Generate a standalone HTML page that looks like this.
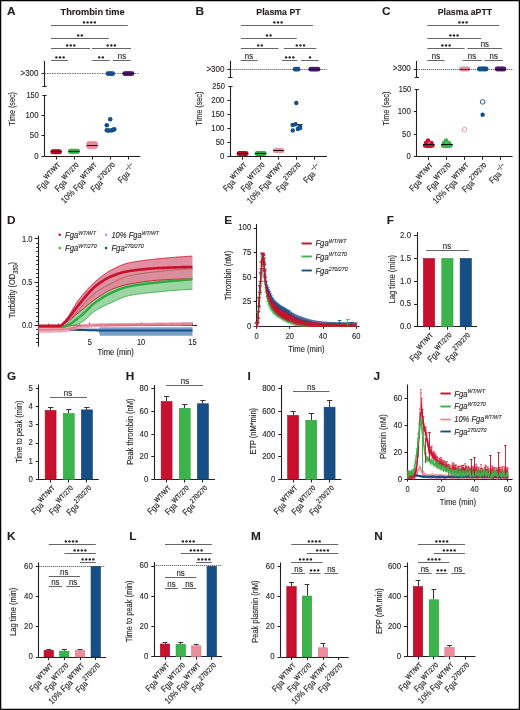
<!DOCTYPE html>
<html><head><meta charset="utf-8"><title>Figure</title>
<style>html,body{margin:0;padding:0;background:#fff;}svg{display:block;will-change:transform;}
text{font-family:"Liberation Sans",sans-serif;stroke:#231f20;stroke-width:0.12px;}</style></head>
<body>
<svg width="520" height="710" viewBox="0 0 520 710" font-family="Liberation Sans, sans-serif">
<rect x="0" y="0" width="520" height="710" fill="#fff"/>
<text transform="translate(6.9,14.9)" font-size="11.8" text-anchor="start" fill="#231f20" font-weight="bold">A</text>
<text transform="translate(92.55,15)" font-size="9.2" text-anchor="middle" fill="#231f20" font-weight="bold" textLength="64.1" lengthAdjust="spacingAndGlyphs">Thrombin time</text>
<line x1="44.5" y1="61" x2="44.5" y2="86.5" stroke="#231f20" stroke-width="1.1"/>
<line x1="42.4" y1="86.5" x2="46.6" y2="86.5" stroke="#231f20" stroke-width="1"/>
<line x1="44.5" y1="95.1" x2="44.5" y2="156.3" stroke="#231f20" stroke-width="1.1"/>
<line x1="42.4" y1="95.5" x2="46.6" y2="95.5" stroke="#231f20" stroke-width="1"/>
<line x1="44.5" y1="73.5" x2="139.6" y2="73.5" stroke="#777" stroke-width="1" stroke-dasharray="1.5,1"/>
<line x1="41.5" y1="73.5" x2="44.5" y2="73.5" stroke="#231f20" stroke-width="1"/>
<text transform="translate(38.5,76.04) scale(0.92,1)" font-size="8.7" text-anchor="end" fill="#231f20">&gt;300</text>
<text transform="translate(38.9,98.1) scale(0.86,1)" font-size="8.7" text-anchor="end" fill="#231f20">150</text>
<line x1="41.5" y1="115.5" x2="44.5" y2="115.5" stroke="#231f20" stroke-width="1"/>
<text transform="translate(38.5,117.94) scale(0.9,1)" font-size="8.7" text-anchor="end" fill="#231f20">100</text>
<line x1="41.5" y1="135.5" x2="44.5" y2="135.5" stroke="#231f20" stroke-width="1"/>
<text transform="translate(38.5,138.34) scale(0.9,1)" font-size="8.7" text-anchor="end" fill="#231f20">50</text>
<line x1="41.5" y1="156.5" x2="44.5" y2="156.5" stroke="#231f20" stroke-width="1"/>
<text transform="translate(38.5,158.74) scale(0.9,1)" font-size="8.7" text-anchor="end" fill="#231f20">0</text>
<line x1="44.5" y1="156.5" x2="140.4" y2="156.5" stroke="#231f20" stroke-width="1.1"/>
<line x1="56.5" y1="156.3" x2="56.5" y2="159.5" stroke="#231f20" stroke-width="1"/>
<line x1="74.5" y1="156.3" x2="74.5" y2="159.5" stroke="#231f20" stroke-width="1"/>
<line x1="92.5" y1="156.3" x2="92.5" y2="159.5" stroke="#231f20" stroke-width="1"/>
<line x1="110.5" y1="156.3" x2="110.5" y2="159.5" stroke="#231f20" stroke-width="1"/>
<line x1="128.5" y1="156.3" x2="128.5" y2="159.5" stroke="#231f20" stroke-width="1"/>
<circle cx="52.9" cy="151.8" r="2.5" fill="#b00c28"/>
<circle cx="54.2" cy="151.8" r="2.5" fill="#b00c28"/>
<circle cx="55.5" cy="151.8" r="2.5" fill="#b00c28"/>
<circle cx="56.8" cy="151.8" r="2.5" fill="#b00c28"/>
<circle cx="58.1" cy="151.8" r="2.5" fill="#b00c28"/>
<circle cx="59.4" cy="151.8" r="2.5" fill="#b00c28"/>
<line x1="50.9" y1="151.5" x2="61.4" y2="151.5" stroke="#111" stroke-width="1"/>
<circle cx="70.5" cy="151.2" r="2.5" fill="#2eaa44"/>
<circle cx="71.9" cy="151.2" r="2.5" fill="#2eaa44"/>
<circle cx="73.3" cy="151.2" r="2.5" fill="#2eaa44"/>
<circle cx="74.7" cy="151.2" r="2.5" fill="#2eaa44"/>
<circle cx="76.1" cy="151.2" r="2.5" fill="#2eaa44"/>
<circle cx="77.5" cy="151.2" r="2.5" fill="#2eaa44"/>
<line x1="68.5" y1="151.5" x2="79.5" y2="151.5" stroke="#111" stroke-width="1"/>
<circle cx="88.7" cy="143.8" r="2.5" fill="#ec8d9c"/>
<circle cx="90.06" cy="143.8" r="2.5" fill="#ec8d9c"/>
<circle cx="91.42" cy="143.8" r="2.5" fill="#ec8d9c"/>
<circle cx="92.78" cy="143.8" r="2.5" fill="#ec8d9c"/>
<circle cx="94.14" cy="143.8" r="2.5" fill="#ec8d9c"/>
<circle cx="95.5" cy="143.8" r="2.5" fill="#ec8d9c"/>
<circle cx="88.7" cy="146.2" r="2.5" fill="#ec8d9c"/>
<circle cx="90.06" cy="146.2" r="2.5" fill="#ec8d9c"/>
<circle cx="91.42" cy="146.2" r="2.5" fill="#ec8d9c"/>
<circle cx="92.78" cy="146.2" r="2.5" fill="#ec8d9c"/>
<circle cx="94.14" cy="146.2" r="2.5" fill="#ec8d9c"/>
<circle cx="95.5" cy="146.2" r="2.5" fill="#ec8d9c"/>
<line x1="86.7" y1="145.5" x2="97.5" y2="145.5" stroke="#111" stroke-width="1"/>
<circle cx="110.2" cy="119.2" r="2.3" fill="#164e86"/>
<circle cx="106.8" cy="125.2" r="2.3" fill="#164e86"/>
<circle cx="106.8" cy="130.2" r="2.3" fill="#164e86"/>
<circle cx="108.6" cy="130.6" r="2.3" fill="#164e86"/>
<circle cx="111.4" cy="130.4" r="2.3" fill="#164e86"/>
<circle cx="113.3" cy="129.8" r="2.3" fill="#164e86"/>
<circle cx="114.3" cy="129.3" r="2.3" fill="#164e86"/>
<circle cx="108" cy="73.6" r="2.4" fill="#164e86"/>
<circle cx="109.53" cy="73.6" r="2.4" fill="#164e86"/>
<circle cx="111.07" cy="73.6" r="2.4" fill="#164e86"/>
<circle cx="112.6" cy="73.6" r="2.4" fill="#164e86"/>
<circle cx="124.7" cy="73.6" r="2.4" fill="#4b1a6b"/>
<circle cx="126.16" cy="73.6" r="2.4" fill="#4b1a6b"/>
<circle cx="127.62" cy="73.6" r="2.4" fill="#4b1a6b"/>
<circle cx="129.08" cy="73.6" r="2.4" fill="#4b1a6b"/>
<circle cx="130.54" cy="73.6" r="2.4" fill="#4b1a6b"/>
<circle cx="132" cy="73.6" r="2.4" fill="#4b1a6b"/>
<line x1="122.8" y1="73.5" x2="133.9" y2="73.5" stroke="#2a0a3a" stroke-width="1"/>
<line x1="51" y1="25.5" x2="127.7" y2="25.5" stroke="#666" stroke-width="1"/>
<circle cx="84" cy="22.4" r="1.2" fill="#222"/>
<circle cx="87.6" cy="22.4" r="1.2" fill="#222"/>
<circle cx="91.2" cy="22.4" r="1.2" fill="#222"/>
<circle cx="94.8" cy="22.4" r="1.2" fill="#222"/>
<line x1="51" y1="38.5" x2="108.8" y2="38.5" stroke="#666" stroke-width="1"/>
<circle cx="78.2" cy="35.4" r="1.2" fill="#222"/>
<circle cx="81.8" cy="35.4" r="1.2" fill="#222"/>
<line x1="51" y1="48.5" x2="90" y2="48.5" stroke="#666" stroke-width="1"/>
<circle cx="67.1" cy="45.4" r="1.2" fill="#222"/>
<circle cx="70.7" cy="45.4" r="1.2" fill="#222"/>
<circle cx="74.3" cy="45.4" r="1.2" fill="#222"/>
<line x1="92" y1="48.5" x2="131" y2="48.5" stroke="#666" stroke-width="1"/>
<circle cx="107.7" cy="45.4" r="1.2" fill="#222"/>
<circle cx="111.3" cy="45.4" r="1.2" fill="#222"/>
<circle cx="114.9" cy="45.4" r="1.2" fill="#222"/>
<line x1="51.2" y1="60.5" x2="68" y2="60.5" stroke="#666" stroke-width="1"/>
<circle cx="56.4" cy="57.4" r="1.2" fill="#222"/>
<circle cx="60" cy="57.4" r="1.2" fill="#222"/>
<circle cx="63.6" cy="57.4" r="1.2" fill="#222"/>
<line x1="92.3" y1="60.5" x2="109.8" y2="60.5" stroke="#666" stroke-width="1"/>
<circle cx="99.2" cy="57.4" r="1.2" fill="#222"/>
<circle cx="102.8" cy="57.4" r="1.2" fill="#222"/>
<line x1="113" y1="60.5" x2="130.6" y2="60.5" stroke="#666" stroke-width="1"/>
<text transform="translate(122,58.5) scale(0.95,1)" font-size="8.3" text-anchor="middle" fill="#231f20">ns</text>
<text transform="translate(15.1,108.9) rotate(-90)" font-size="9.5" text-anchor="middle" fill="#231f20" textLength="33.5" lengthAdjust="spacingAndGlyphs">Time (sec)</text>
<text transform="translate(63.7,168.3) rotate(-45) scale(0.86,1)" font-size="8.8" text-anchor="end" fill="#231f20">Fga<tspan dy="-4.2" dx="0.2" font-size="6.9" stroke-width="0.2">WT/WT</tspan></text>
<text transform="translate(82.1,168.3) rotate(-45) scale(0.86,1)" font-size="8.8" text-anchor="end" fill="#231f20">Fga<tspan dy="-4.2" dx="0.2" font-size="6.9" stroke-width="0.2">WT/270</tspan></text>
<text transform="translate(100.3,168.3) rotate(-45) scale(0.86,1)" font-size="8.8" text-anchor="end" fill="#231f20">10% Fga<tspan dy="-4.2" dx="0.2" font-size="6.9" stroke-width="0.2">WT/WT</tspan></text>
<text transform="translate(118.4,168.3) rotate(-45) scale(0.86,1)" font-size="8.8" text-anchor="end" fill="#231f20">Fga<tspan dy="-4.2" dx="0.2" font-size="6.9" stroke-width="0.2">270/270</tspan></text>
<text transform="translate(136.5,168.3) rotate(-45) scale(0.86,1)" font-size="8.8" text-anchor="end" fill="#231f20">Fga<tspan dy="-4.2" dx="0.2" font-size="6.9" stroke-width="0.2">&#8722;/&#8722;</tspan></text>
<text transform="translate(195.6,14.9)" font-size="11.8" text-anchor="start" fill="#231f20" font-weight="bold">B</text>
<text transform="translate(278.45,15)" font-size="9.2" text-anchor="middle" fill="#231f20" font-weight="bold" textLength="44.3" lengthAdjust="spacingAndGlyphs">Plasma PT</text>
<line x1="230.5" y1="60.8" x2="230.5" y2="77.3" stroke="#231f20" stroke-width="1.1"/>
<line x1="228.3" y1="77.5" x2="232.5" y2="77.5" stroke="#231f20" stroke-width="1"/>
<line x1="230.5" y1="86.4" x2="230.5" y2="156.5" stroke="#231f20" stroke-width="1.1"/>
<line x1="228.3" y1="86.5" x2="232.5" y2="86.5" stroke="#231f20" stroke-width="1"/>
<line x1="230.4" y1="69.5" x2="327" y2="69.5" stroke="#444" stroke-width="1" stroke-dasharray="1,1"/>
<line x1="227.4" y1="69.5" x2="230.4" y2="69.5" stroke="#231f20" stroke-width="1"/>
<text transform="translate(224.4,71.64) scale(0.92,1)" font-size="8.7" text-anchor="end" fill="#231f20">&gt;300</text>
<text transform="translate(224.8,89.38) scale(0.86,1)" font-size="8.7" text-anchor="end" fill="#231f20">250</text>
<line x1="227.4" y1="100.5" x2="230.4" y2="100.5" stroke="#231f20" stroke-width="1"/>
<text transform="translate(224.4,102.84) scale(0.9,1)" font-size="8.7" text-anchor="end" fill="#231f20">200</text>
<line x1="227.4" y1="114.5" x2="230.4" y2="114.5" stroke="#231f20" stroke-width="1"/>
<text transform="translate(224.4,116.86) scale(0.9,1)" font-size="8.7" text-anchor="end" fill="#231f20">150</text>
<line x1="227.4" y1="128.5" x2="230.4" y2="128.5" stroke="#231f20" stroke-width="1"/>
<text transform="translate(224.4,130.89) scale(0.9,1)" font-size="8.7" text-anchor="end" fill="#231f20">100</text>
<line x1="227.4" y1="142.5" x2="230.4" y2="142.5" stroke="#231f20" stroke-width="1"/>
<text transform="translate(224.4,144.91) scale(0.9,1)" font-size="8.7" text-anchor="end" fill="#231f20">50</text>
<line x1="227.4" y1="156.5" x2="230.4" y2="156.5" stroke="#231f20" stroke-width="1"/>
<text transform="translate(224.4,158.94) scale(0.9,1)" font-size="8.7" text-anchor="end" fill="#231f20">0</text>
<line x1="230.4" y1="156.5" x2="327" y2="156.5" stroke="#231f20" stroke-width="1.1"/>
<line x1="242.5" y1="156.5" x2="242.5" y2="159.7" stroke="#231f20" stroke-width="1"/>
<line x1="260.5" y1="156.5" x2="260.5" y2="159.7" stroke="#231f20" stroke-width="1"/>
<line x1="278.5" y1="156.5" x2="278.5" y2="159.7" stroke="#231f20" stroke-width="1"/>
<line x1="296.5" y1="156.5" x2="296.5" y2="159.7" stroke="#231f20" stroke-width="1"/>
<line x1="314.5" y1="156.5" x2="314.5" y2="159.7" stroke="#231f20" stroke-width="1"/>
<circle cx="239.1" cy="153.5" r="2.5" fill="#b00c28"/>
<circle cx="240.48" cy="153.5" r="2.5" fill="#b00c28"/>
<circle cx="241.86" cy="153.5" r="2.5" fill="#b00c28"/>
<circle cx="243.24" cy="153.5" r="2.5" fill="#b00c28"/>
<circle cx="244.62" cy="153.5" r="2.5" fill="#b00c28"/>
<circle cx="246" cy="153.5" r="2.5" fill="#b00c28"/>
<line x1="237.1" y1="153.5" x2="248" y2="153.5" stroke="#111" stroke-width="1"/>
<circle cx="257.1" cy="153.5" r="2.5" fill="#2eaa44"/>
<circle cx="258.5" cy="153.5" r="2.5" fill="#2eaa44"/>
<circle cx="259.9" cy="153.5" r="2.5" fill="#2eaa44"/>
<circle cx="261.3" cy="153.5" r="2.5" fill="#2eaa44"/>
<circle cx="262.7" cy="153.5" r="2.5" fill="#2eaa44"/>
<circle cx="264.1" cy="153.5" r="2.5" fill="#2eaa44"/>
<line x1="255.1" y1="153.5" x2="266.1" y2="153.5" stroke="#111" stroke-width="1"/>
<circle cx="275.3" cy="150.4" r="2.5" fill="#ec8d9c"/>
<circle cx="276.6" cy="150.4" r="2.5" fill="#ec8d9c"/>
<circle cx="277.9" cy="150.4" r="2.5" fill="#ec8d9c"/>
<circle cx="279.2" cy="150.4" r="2.5" fill="#ec8d9c"/>
<circle cx="280.5" cy="150.4" r="2.5" fill="#ec8d9c"/>
<circle cx="281.8" cy="150.4" r="2.5" fill="#ec8d9c"/>
<line x1="273.3" y1="150.5" x2="283.8" y2="150.5" stroke="#111" stroke-width="1"/>
<line x1="290.5" y1="124.5" x2="302.5" y2="124.5" stroke="#111" stroke-width="1"/>
<circle cx="296.3" cy="103" r="2.2" fill="#164e86"/>
<circle cx="292.8" cy="125" r="2.2" fill="#164e86"/>
<circle cx="295.6" cy="124.2" r="2.2" fill="#164e86"/>
<circle cx="299.9" cy="126.3" r="2.2" fill="#164e86"/>
<circle cx="292.8" cy="130.4" r="2.2" fill="#164e86"/>
<circle cx="297.8" cy="129" r="2.2" fill="#164e86"/>
<circle cx="300.2" cy="128" r="2.2" fill="#164e86"/>
<circle cx="295.1" cy="69.2" r="2.4" fill="#164e86"/>
<circle cx="296.55" cy="69.2" r="2.4" fill="#164e86"/>
<circle cx="298" cy="69.2" r="2.4" fill="#164e86"/>
<circle cx="310.7" cy="69.2" r="2.4" fill="#4b1a6b"/>
<circle cx="312.16" cy="69.2" r="2.4" fill="#4b1a6b"/>
<circle cx="313.62" cy="69.2" r="2.4" fill="#4b1a6b"/>
<circle cx="315.08" cy="69.2" r="2.4" fill="#4b1a6b"/>
<circle cx="316.54" cy="69.2" r="2.4" fill="#4b1a6b"/>
<circle cx="318" cy="69.2" r="2.4" fill="#4b1a6b"/>
<line x1="308.8" y1="69.5" x2="319.9" y2="69.5" stroke="#2a0a3a" stroke-width="1"/>
<line x1="240.75" y1="25.5" x2="313" y2="25.5" stroke="#666" stroke-width="1"/>
<circle cx="274.4" cy="22.4" r="1.2" fill="#222"/>
<circle cx="278" cy="22.4" r="1.2" fill="#222"/>
<circle cx="281.6" cy="22.4" r="1.2" fill="#222"/>
<line x1="240.75" y1="38.5" x2="296.7" y2="38.5" stroke="#666" stroke-width="1"/>
<circle cx="266.95" cy="35.4" r="1.2" fill="#222"/>
<circle cx="270.55" cy="35.4" r="1.2" fill="#222"/>
<line x1="240.75" y1="48.5" x2="278.5" y2="48.5" stroke="#666" stroke-width="1"/>
<circle cx="258.2" cy="45.4" r="1.2" fill="#222"/>
<circle cx="261.8" cy="45.4" r="1.2" fill="#222"/>
<line x1="284" y1="48.5" x2="316.5" y2="48.5" stroke="#666" stroke-width="1"/>
<circle cx="296.8" cy="45.4" r="1.2" fill="#222"/>
<circle cx="300.4" cy="45.4" r="1.2" fill="#222"/>
<circle cx="304" cy="45.4" r="1.2" fill="#222"/>
<line x1="240.75" y1="60.5" x2="257.6" y2="60.5" stroke="#666" stroke-width="1"/>
<text transform="translate(249,58.5) scale(0.95,1)" font-size="8.3" text-anchor="middle" fill="#231f20">ns</text>
<line x1="282" y1="60.5" x2="297.3" y2="60.5" stroke="#666" stroke-width="1"/>
<circle cx="286.1" cy="57.4" r="1.2" fill="#222"/>
<circle cx="289.7" cy="57.4" r="1.2" fill="#222"/>
<circle cx="293.3" cy="57.4" r="1.2" fill="#222"/>
<line x1="301" y1="60.5" x2="318.8" y2="60.5" stroke="#666" stroke-width="1"/>
<circle cx="310" cy="57.4" r="1.2" fill="#222"/>
<text transform="translate(202.4,108.6) rotate(-90)" font-size="9.5" text-anchor="middle" fill="#231f20" textLength="33.8" lengthAdjust="spacingAndGlyphs">Time (sec)</text>
<text transform="translate(250.1,168.5) rotate(-45) scale(0.86,1)" font-size="8.8" text-anchor="end" fill="#231f20">Fga<tspan dy="-4.2" dx="0.2" font-size="6.9" stroke-width="0.2">WT/WT</tspan></text>
<text transform="translate(268.1,168.5) rotate(-45) scale(0.86,1)" font-size="8.8" text-anchor="end" fill="#231f20">Fga<tspan dy="-4.2" dx="0.2" font-size="6.9" stroke-width="0.2">WT/270</tspan></text>
<text transform="translate(286.1,168.5) rotate(-45) scale(0.86,1)" font-size="8.8" text-anchor="end" fill="#231f20">10% Fga<tspan dy="-4.2" dx="0.2" font-size="6.9" stroke-width="0.2">WT/WT</tspan></text>
<text transform="translate(304,168.5) rotate(-45) scale(0.86,1)" font-size="8.8" text-anchor="end" fill="#231f20">Fga<tspan dy="-4.2" dx="0.2" font-size="6.9" stroke-width="0.2">270/270</tspan></text>
<text transform="translate(322,168.5) rotate(-45) scale(0.86,1)" font-size="8.8" text-anchor="end" fill="#231f20">Fga<tspan dy="-4.2" dx="0.2" font-size="6.9" stroke-width="0.2">&#8722;/&#8722;</tspan></text>
<text transform="translate(382,14.9)" font-size="11.8" text-anchor="start" fill="#231f20" font-weight="bold">C</text>
<text transform="translate(464.9,15)" font-size="9.2" text-anchor="middle" fill="#231f20" font-weight="bold" textLength="54.4" lengthAdjust="spacingAndGlyphs">Plasma aPTT</text>
<line x1="416.5" y1="61" x2="416.5" y2="77.5" stroke="#231f20" stroke-width="1.1"/>
<line x1="414.7" y1="77.5" x2="418.9" y2="77.5" stroke="#231f20" stroke-width="1"/>
<line x1="416.5" y1="89.2" x2="416.5" y2="156.6" stroke="#231f20" stroke-width="1.1"/>
<line x1="414.7" y1="89.5" x2="418.9" y2="89.5" stroke="#231f20" stroke-width="1"/>
<line x1="416.8" y1="69.5" x2="513.3" y2="69.5" stroke="#444" stroke-width="1" stroke-dasharray="1,1"/>
<line x1="413.8" y1="69.5" x2="416.8" y2="69.5" stroke="#231f20" stroke-width="1"/>
<text transform="translate(410.8,71.44) scale(0.92,1)" font-size="8.7" text-anchor="end" fill="#231f20">&gt;300</text>
<text transform="translate(411.2,92.2) scale(0.86,1)" font-size="8.7" text-anchor="end" fill="#231f20">150</text>
<line x1="413.8" y1="111.5" x2="416.8" y2="111.5" stroke="#231f20" stroke-width="1"/>
<text transform="translate(410.8,114.11) scale(0.9,1)" font-size="8.7" text-anchor="end" fill="#231f20">100</text>
<line x1="413.8" y1="134.5" x2="416.8" y2="134.5" stroke="#231f20" stroke-width="1"/>
<text transform="translate(410.8,136.57) scale(0.9,1)" font-size="8.7" text-anchor="end" fill="#231f20">50</text>
<line x1="413.8" y1="156.5" x2="416.8" y2="156.5" stroke="#231f20" stroke-width="1"/>
<text transform="translate(410.8,159.04) scale(0.9,1)" font-size="8.7" text-anchor="end" fill="#231f20">0</text>
<line x1="416.8" y1="156.5" x2="512.5" y2="156.5" stroke="#231f20" stroke-width="1.1"/>
<line x1="428.5" y1="156.6" x2="428.5" y2="159.8" stroke="#231f20" stroke-width="1"/>
<line x1="446.5" y1="156.6" x2="446.5" y2="159.8" stroke="#231f20" stroke-width="1"/>
<line x1="464.5" y1="156.6" x2="464.5" y2="159.8" stroke="#231f20" stroke-width="1"/>
<line x1="482.5" y1="156.6" x2="482.5" y2="159.8" stroke="#231f20" stroke-width="1"/>
<line x1="500.5" y1="156.6" x2="500.5" y2="159.8" stroke="#231f20" stroke-width="1"/>
<circle cx="428" cy="140.5" r="2.2" fill="#c8102e"/>
<circle cx="426" cy="143" r="2.2" fill="#c8102e"/>
<circle cx="431.5" cy="143" r="2.2" fill="#c8102e"/>
<circle cx="425" cy="145.5" r="2.2" fill="#c8102e"/>
<circle cx="429" cy="145.5" r="2.2" fill="#c8102e"/>
<circle cx="432.5" cy="145.5" r="2.2" fill="#c8102e"/>
<circle cx="427" cy="146" r="2.2" fill="#c8102e"/>
<circle cx="430.5" cy="146" r="2.2" fill="#c8102e"/>
<line x1="423" y1="144.5" x2="434.6" y2="144.5" stroke="#111" stroke-width="1"/>
<circle cx="446" cy="140.5" r="2.2" fill="#35b04a"/>
<circle cx="444" cy="143" r="2.2" fill="#35b04a"/>
<circle cx="449" cy="143" r="2.2" fill="#35b04a"/>
<circle cx="443" cy="145.5" r="2.2" fill="#35b04a"/>
<circle cx="447" cy="145.5" r="2.2" fill="#35b04a"/>
<circle cx="450.5" cy="145.5" r="2.2" fill="#35b04a"/>
<circle cx="445" cy="146" r="2.2" fill="#35b04a"/>
<circle cx="448.5" cy="146" r="2.2" fill="#35b04a"/>
<line x1="441" y1="144.5" x2="452.8" y2="144.5" stroke="#111" stroke-width="1"/>
<circle cx="464.5" cy="129.6" r="2.3" fill="none" stroke="#ec8d9c" stroke-width="0.9"/>
<circle cx="482.6" cy="101.9" r="2.3" fill="none" stroke="#164e86" stroke-width="0.9"/>
<circle cx="482.6" cy="114.7" r="2.2" fill="#164e86"/>
<circle cx="461.4" cy="69" r="2.4" fill="#ec8d9c"/>
<circle cx="462.72" cy="69" r="2.4" fill="#ec8d9c"/>
<circle cx="464.04" cy="69" r="2.4" fill="#ec8d9c"/>
<circle cx="465.36" cy="69" r="2.4" fill="#ec8d9c"/>
<circle cx="466.68" cy="69" r="2.4" fill="#ec8d9c"/>
<circle cx="468" cy="69" r="2.4" fill="#ec8d9c"/>
<line x1="459.5" y1="69.5" x2="469.9" y2="69.5" stroke="#333" stroke-width="1"/>
<circle cx="479.4" cy="69" r="2.4" fill="#164e86"/>
<circle cx="480.76" cy="69" r="2.4" fill="#164e86"/>
<circle cx="482.12" cy="69" r="2.4" fill="#164e86"/>
<circle cx="483.48" cy="69" r="2.4" fill="#164e86"/>
<circle cx="484.84" cy="69" r="2.4" fill="#164e86"/>
<circle cx="486.2" cy="69" r="2.4" fill="#164e86"/>
<circle cx="497.1" cy="69" r="2.4" fill="#4b1a6b"/>
<circle cx="498.48" cy="69" r="2.4" fill="#4b1a6b"/>
<circle cx="499.86" cy="69" r="2.4" fill="#4b1a6b"/>
<circle cx="501.24" cy="69" r="2.4" fill="#4b1a6b"/>
<circle cx="502.62" cy="69" r="2.4" fill="#4b1a6b"/>
<circle cx="504" cy="69" r="2.4" fill="#4b1a6b"/>
<line x1="495.2" y1="69.5" x2="505.9" y2="69.5" stroke="#2a0a3a" stroke-width="1"/>
<line x1="427.3" y1="25.5" x2="499.2" y2="25.5" stroke="#666" stroke-width="1"/>
<circle cx="459.4" cy="22.4" r="1.2" fill="#222"/>
<circle cx="463" cy="22.4" r="1.2" fill="#222"/>
<circle cx="466.6" cy="22.4" r="1.2" fill="#222"/>
<line x1="427.3" y1="38.5" x2="481.2" y2="38.5" stroke="#666" stroke-width="1"/>
<circle cx="450.4" cy="35.4" r="1.2" fill="#222"/>
<circle cx="454" cy="35.4" r="1.2" fill="#222"/>
<circle cx="457.6" cy="35.4" r="1.2" fill="#222"/>
<line x1="427.3" y1="48.5" x2="464.6" y2="48.5" stroke="#666" stroke-width="1"/>
<circle cx="442.4" cy="45.4" r="1.2" fill="#222"/>
<circle cx="446" cy="45.4" r="1.2" fill="#222"/>
<circle cx="449.6" cy="45.4" r="1.2" fill="#222"/>
<line x1="467.5" y1="48.5" x2="502.1" y2="48.5" stroke="#666" stroke-width="1"/>
<text transform="translate(484.8,46.5) scale(0.95,1)" font-size="8.3" text-anchor="middle" fill="#231f20">ns</text>
<line x1="427.3" y1="60.5" x2="444.6" y2="60.5" stroke="#666" stroke-width="1"/>
<text transform="translate(436,58.5) scale(0.95,1)" font-size="8.3" text-anchor="middle" fill="#231f20">ns</text>
<line x1="462.7" y1="60.5" x2="482" y2="60.5" stroke="#666" stroke-width="1"/>
<text transform="translate(472,58.5) scale(0.95,1)" font-size="8.3" text-anchor="middle" fill="#231f20">ns</text>
<line x1="484.4" y1="60.5" x2="503" y2="60.5" stroke="#666" stroke-width="1"/>
<text transform="translate(493.7,58.5) scale(0.95,1)" font-size="8.3" text-anchor="middle" fill="#231f20">ns</text>
<text transform="translate(389.3,108.6) rotate(-90)" font-size="9.5" text-anchor="middle" fill="#231f20" textLength="33.8" lengthAdjust="spacingAndGlyphs">Time (sec)</text>
<text transform="translate(436.2,168.6) rotate(-45) scale(0.86,1)" font-size="8.8" text-anchor="end" fill="#231f20">Fga<tspan dy="-4.2" dx="0.2" font-size="6.9" stroke-width="0.2">WT/WT</tspan></text>
<text transform="translate(454.1,168.6) rotate(-45) scale(0.86,1)" font-size="8.8" text-anchor="end" fill="#231f20">Fga<tspan dy="-4.2" dx="0.2" font-size="6.9" stroke-width="0.2">WT/270</tspan></text>
<text transform="translate(472,168.6) rotate(-45) scale(0.86,1)" font-size="8.8" text-anchor="end" fill="#231f20">10% Fga<tspan dy="-4.2" dx="0.2" font-size="6.9" stroke-width="0.2">WT/WT</tspan></text>
<text transform="translate(489.9,168.6) rotate(-45) scale(0.86,1)" font-size="8.8" text-anchor="end" fill="#231f20">Fga<tspan dy="-4.2" dx="0.2" font-size="6.9" stroke-width="0.2">270/270</tspan></text>
<text transform="translate(507.8,168.6) rotate(-45) scale(0.86,1)" font-size="8.8" text-anchor="end" fill="#231f20">Fga<tspan dy="-4.2" dx="0.2" font-size="6.9" stroke-width="0.2">&#8722;/&#8722;</tspan></text>
<text transform="translate(6.9,224.3)" font-size="11.8" text-anchor="start" fill="#231f20" font-weight="bold">D</text>
<line x1="38.5" y1="235.6" x2="38.5" y2="346.6" stroke="#231f20" stroke-width="1.1"/>
<line x1="36" y1="342.5" x2="38.4" y2="342.5" stroke="#231f20" stroke-width="0.9"/>
<line x1="36" y1="338.5" x2="38.4" y2="338.5" stroke="#231f20" stroke-width="0.9"/>
<line x1="36" y1="334.5" x2="38.4" y2="334.5" stroke="#231f20" stroke-width="0.9"/>
<line x1="36" y1="329.5" x2="38.4" y2="329.5" stroke="#231f20" stroke-width="0.9"/>
<line x1="34.6" y1="325.5" x2="38.4" y2="325.5" stroke="#231f20" stroke-width="1"/>
<line x1="36" y1="321.5" x2="38.4" y2="321.5" stroke="#231f20" stroke-width="0.9"/>
<line x1="36" y1="316.5" x2="38.4" y2="316.5" stroke="#231f20" stroke-width="0.9"/>
<line x1="36" y1="312.5" x2="38.4" y2="312.5" stroke="#231f20" stroke-width="0.9"/>
<line x1="36" y1="308.5" x2="38.4" y2="308.5" stroke="#231f20" stroke-width="0.9"/>
<line x1="36" y1="303.5" x2="38.4" y2="303.5" stroke="#231f20" stroke-width="0.9"/>
<line x1="36" y1="299.5" x2="38.4" y2="299.5" stroke="#231f20" stroke-width="0.9"/>
<line x1="36" y1="295.5" x2="38.4" y2="295.5" stroke="#231f20" stroke-width="0.9"/>
<line x1="36" y1="290.5" x2="38.4" y2="290.5" stroke="#231f20" stroke-width="0.9"/>
<line x1="36" y1="286.5" x2="38.4" y2="286.5" stroke="#231f20" stroke-width="0.9"/>
<line x1="34.6" y1="282.5" x2="38.4" y2="282.5" stroke="#231f20" stroke-width="1"/>
<line x1="36" y1="277.5" x2="38.4" y2="277.5" stroke="#231f20" stroke-width="0.9"/>
<line x1="36" y1="273.5" x2="38.4" y2="273.5" stroke="#231f20" stroke-width="0.9"/>
<line x1="36" y1="269.5" x2="38.4" y2="269.5" stroke="#231f20" stroke-width="0.9"/>
<line x1="36" y1="264.5" x2="38.4" y2="264.5" stroke="#231f20" stroke-width="0.9"/>
<line x1="36" y1="260.5" x2="38.4" y2="260.5" stroke="#231f20" stroke-width="0.9"/>
<line x1="36" y1="256.5" x2="38.4" y2="256.5" stroke="#231f20" stroke-width="0.9"/>
<line x1="36" y1="251.5" x2="38.4" y2="251.5" stroke="#231f20" stroke-width="0.9"/>
<line x1="36" y1="247.5" x2="38.4" y2="247.5" stroke="#231f20" stroke-width="0.9"/>
<line x1="36" y1="243.5" x2="38.4" y2="243.5" stroke="#231f20" stroke-width="0.9"/>
<line x1="34.6" y1="238.5" x2="38.4" y2="238.5" stroke="#231f20" stroke-width="1"/>
<text transform="translate(32.4,241.85) scale(0.86,1)" font-size="8.7" text-anchor="end" fill="#231f20">1.0</text>
<text transform="translate(32.4,285.15) scale(0.86,1)" font-size="8.7" text-anchor="end" fill="#231f20">0.5</text>
<text transform="translate(32.4,328.45) scale(0.86,1)" font-size="8.7" text-anchor="end" fill="#231f20">0.0</text>
<line x1="38.4" y1="325.5" x2="197" y2="325.5" stroke="#231f20" stroke-width="1.1"/>
<line x1="48.5" y1="325.4" x2="48.5" y2="323.6" stroke="#231f20" stroke-width="0.8"/>
<line x1="58.5" y1="325.4" x2="58.5" y2="323.6" stroke="#231f20" stroke-width="0.8"/>
<line x1="69.5" y1="325.4" x2="69.5" y2="323.6" stroke="#231f20" stroke-width="0.8"/>
<line x1="79.5" y1="325.4" x2="79.5" y2="323.6" stroke="#231f20" stroke-width="0.8"/>
<line x1="89.5" y1="325.4" x2="89.5" y2="322.6" stroke="#231f20" stroke-width="0.8"/>
<line x1="100.5" y1="325.4" x2="100.5" y2="323.6" stroke="#231f20" stroke-width="0.8"/>
<line x1="110.5" y1="325.4" x2="110.5" y2="323.6" stroke="#231f20" stroke-width="0.8"/>
<line x1="120.5" y1="325.4" x2="120.5" y2="323.6" stroke="#231f20" stroke-width="0.8"/>
<line x1="130.5" y1="325.4" x2="130.5" y2="323.6" stroke="#231f20" stroke-width="0.8"/>
<line x1="141.5" y1="325.4" x2="141.5" y2="322.6" stroke="#231f20" stroke-width="0.8"/>
<line x1="151.5" y1="325.4" x2="151.5" y2="323.6" stroke="#231f20" stroke-width="0.8"/>
<line x1="161.5" y1="325.4" x2="161.5" y2="323.6" stroke="#231f20" stroke-width="0.8"/>
<line x1="171.5" y1="325.4" x2="171.5" y2="323.6" stroke="#231f20" stroke-width="0.8"/>
<line x1="182.5" y1="325.4" x2="182.5" y2="323.6" stroke="#231f20" stroke-width="0.8"/>
<line x1="192.5" y1="325.4" x2="192.5" y2="322.6" stroke="#231f20" stroke-width="0.8"/>
<text transform="translate(89.75,345.1) scale(0.86,1)" font-size="8.7" text-anchor="middle" fill="#231f20">5</text>
<text transform="translate(141.1,345.1) scale(0.86,1)" font-size="8.7" text-anchor="middle" fill="#231f20">10</text>
<text transform="translate(192.45,345.1) scale(0.86,1)" font-size="8.7" text-anchor="middle" fill="#231f20">15</text>
<text transform="translate(115.7,355.3)" font-size="8.8" text-anchor="middle" fill="#231f20" textLength="36.3" lengthAdjust="spacingAndGlyphs">Time (min)</text>
<text transform="translate(15.2,290.1) rotate(-90)" font-size="9.5" text-anchor="middle" fill="#231f20" textLength="56.5" lengthAdjust="spacingAndGlyphs">Turbidity (OD<tspan font-size="7" dy="2.4">350</tspan><tspan dy="-2.4">)</tspan></text>
<polygon points="69.21,328.43 70.49,328.43 71.78,328.43 73.06,328.43 74.34,328.43 75.63,328.43 76.91,328.43 78.2,328.43 79.48,328.43 80.76,328.43 82.05,328.43 83.33,328.43 84.61,328.43 85.9,328.43 87.18,328.43 88.47,328.43 89.75,328.43 91.03,328.43 92.32,328.43 93.6,328.43 94.88,328.43 96.17,328.43 97.45,328.43 98.74,328.43 100.02,327.13 101.3,327.13 102.59,327.13 103.87,327.13 105.16,327.13 106.44,327.13 107.72,327.13 109.01,327.13 110.29,327.13 111.57,327.13 112.86,327.13 114.14,327.13 115.42,327.13 116.71,327.13 117.99,327.13 119.28,327.13 120.56,327.13 121.84,327.13 123.13,327.13 124.41,327.13 125.69,327.13 126.98,327.13 128.26,327.13 129.55,327.13 130.83,327.13 132.11,327.13 133.4,327.13 134.68,327.13 135.97,327.13 137.25,327.13 138.53,327.13 139.82,327.13 141.1,327.13 142.38,327.13 143.67,327.13 144.95,327.13 146.23,327.13 147.52,327.13 148.8,327.13 150.09,327.13 151.37,327.13 152.65,327.13 153.94,327.13 155.22,327.13 156.5,327.13 157.79,327.13 159.07,327.13 160.36,327.13 161.64,327.13 162.92,327.13 164.21,327.13 165.49,327.13 166.78,327.13 168.06,327.13 169.34,327.13 170.63,327.13 171.91,327.13 173.19,327.13 174.48,327.13 175.76,327.13 177.04,327.13 178.33,327.13 179.61,327.13 180.9,327.13 182.18,327.13 183.46,327.13 184.75,327.13 186.03,327.13 187.31,327.13 188.6,327.13 189.88,327.13 191.17,327.13 192.45,327.13 192.45,335.79 191.17,335.79 189.88,335.79 188.6,335.79 187.31,335.79 186.03,335.79 184.75,335.79 183.46,335.79 182.18,335.79 180.9,335.79 179.61,335.79 178.33,335.79 177.04,335.79 175.76,335.79 174.48,335.79 173.19,335.79 171.91,335.79 170.63,335.79 169.34,335.79 168.06,335.79 166.78,335.79 165.49,335.79 164.21,335.79 162.92,335.79 161.64,335.79 160.36,335.79 159.07,335.79 157.79,335.79 156.5,335.79 155.22,335.79 153.94,335.79 152.65,335.79 151.37,335.79 150.09,335.79 148.8,335.79 147.52,335.79 146.23,335.79 144.95,335.79 143.67,335.79 142.38,335.79 141.1,335.79 139.82,335.79 138.53,335.79 137.25,335.79 135.97,335.79 134.68,335.79 133.4,335.79 132.11,335.79 130.83,335.79 129.55,335.79 128.26,335.79 126.98,335.79 125.69,335.79 124.41,335.79 123.13,335.79 121.84,335.79 120.56,335.79 119.28,335.79 117.99,335.79 116.71,335.79 115.42,335.79 114.14,335.79 112.86,335.79 111.57,335.79 110.29,335.79 109.01,335.79 107.72,335.79 106.44,335.79 105.16,335.79 103.87,335.79 102.59,335.79 101.3,335.79 100.02,335.79 98.74,331.03 97.45,331.03 96.17,331.03 94.88,331.03 93.6,331.03 92.32,331.03 91.03,331.03 89.75,331.03 88.47,331.03 87.18,331.03 85.9,331.03 84.61,331.03 83.33,331.03 82.05,331.03 80.76,331.03 79.48,331.03 78.2,331.03 76.91,331.03 75.63,331.03 74.34,331.03 73.06,331.03 71.78,331.03 70.49,331.03 69.21,331.03" fill="#4a7fb5" fill-opacity="0.75" stroke="none" stroke-width="0"/>
<polyline points="69.21,329.73 70.49,329.73 71.78,329.74 73.06,329.76 74.34,329.78 75.63,329.81 76.91,329.84 78.2,329.87 79.48,329.91 80.76,329.95 82.05,329.99 83.33,330.03 84.61,330.08 85.9,330.12 87.18,330.16 88.47,330.2 89.75,330.24 91.03,330.28 92.32,330.31 93.6,330.35 94.88,330.37 96.17,330.39 97.45,330.41 98.74,330.42 100.02,330.42 101.3,330.42 102.59,330.42 103.87,330.42 105.16,330.42 106.44,330.42 107.72,330.42 109.01,330.42 110.29,330.42 111.57,330.42 112.86,330.42 114.14,330.42 115.42,330.42 116.71,330.42 117.99,330.42 119.28,330.42 120.56,330.42 121.84,330.42 123.13,330.42 124.41,330.42 125.69,330.42 126.98,330.42 128.26,330.42 129.55,330.42 130.83,330.42 132.11,330.42 133.4,330.42 134.68,330.42 135.97,330.42 137.25,330.42 138.53,330.42 139.82,330.42 141.1,330.42 142.38,330.42 143.67,330.42 144.95,330.42 146.23,330.42 147.52,330.42 148.8,330.42 150.09,330.42 151.37,330.42 152.65,330.42 153.94,330.42 155.22,330.42 156.5,330.42 157.79,330.42 159.07,330.42 160.36,330.42 161.64,330.42 162.92,330.42 164.21,330.42 165.49,330.42 166.78,330.42 168.06,330.42 169.34,330.42 170.63,330.42 171.91,330.42 173.19,330.42 174.48,330.42 175.76,330.42 177.04,330.42 178.33,330.42 179.61,330.42 180.9,330.42 182.18,330.42 183.46,330.42 184.75,330.42 186.03,330.42 187.31,330.42 188.6,330.42 189.88,330.42 191.17,330.42 192.45,330.42" fill="none" stroke="#164e86" stroke-width="2"/>
<polygon points="38.4,326.7 39.68,326.7 40.97,326.69 42.25,326.69 43.53,326.68 44.82,326.67 46.1,326.66 47.39,326.64 48.67,326.63 49.95,326.61 51.24,326.59 52.52,326.56 53.8,326.54 55.09,326.51 56.37,326.48 57.66,326.45 58.94,326.42 60.22,326.38 61.51,326.35 62.79,326.31 64.07,326.27 65.36,326.2 66.64,326.07 67.93,325.91 69.21,325.71 70.49,325.49 71.78,325.25 73.06,325.01 74.34,324.78 75.63,324.56 76.91,324.37 78.2,324.21 79.48,324.1 80.76,324.02 82.05,323.94 83.33,323.86 84.61,323.79 85.9,323.72 87.18,323.66 88.47,323.6 89.75,323.54 91.03,323.49 92.32,323.44 93.6,323.4 94.88,323.36 96.17,323.32 97.45,323.29 98.74,323.26 100.02,323.23 101.3,323.21 102.59,323.19 103.87,323.17 105.16,323.15 106.44,323.13 107.72,323.12 109.01,323.1 110.29,323.09 111.57,323.07 112.86,323.06 114.14,323.05 115.42,323.04 116.71,323.02 117.99,323.01 119.28,323 120.56,322.99 121.84,322.98 123.13,322.97 124.41,322.96 125.69,322.95 126.98,322.94 128.26,322.93 129.55,322.92 130.83,322.91 132.11,322.9 133.4,322.89 134.68,322.87 135.97,322.86 137.25,322.85 138.53,322.83 139.82,322.82 141.1,322.8 142.38,322.79 143.67,322.77 144.95,322.75 146.23,322.73 147.52,322.72 148.8,322.7 150.09,322.68 151.37,322.66 152.65,322.64 153.94,322.62 155.22,322.6 156.5,322.58 157.79,322.56 159.07,322.54 160.36,322.52 161.64,322.5 162.92,322.48 164.21,322.46 165.49,322.44 166.78,322.42 168.06,322.4 169.34,322.37 170.63,322.35 171.91,322.33 173.19,322.31 174.48,322.28 175.76,322.26 177.04,322.24 178.33,322.21 179.61,322.19 180.9,322.16 182.18,322.14 183.46,322.11 184.75,322.09 186.03,322.06 187.31,322.04 188.6,322.01 189.88,321.99 191.17,321.96 192.45,321.94 192.45,325.83 191.17,325.84 189.88,325.84 188.6,325.84 187.31,325.85 186.03,325.85 184.75,325.86 183.46,325.86 182.18,325.87 180.9,325.87 179.61,325.88 178.33,325.89 177.04,325.9 175.76,325.91 174.48,325.92 173.19,325.93 171.91,325.94 170.63,325.95 169.34,325.96 168.06,325.97 166.78,325.98 165.49,325.99 164.21,326 162.92,326.02 161.64,326.03 160.36,326.04 159.07,326.06 157.79,326.07 156.5,326.08 155.22,326.1 153.94,326.11 152.65,326.13 151.37,326.14 150.09,326.16 148.8,326.17 147.52,326.19 146.23,326.2 144.95,326.22 143.67,326.23 142.38,326.25 141.1,326.27 139.82,326.28 138.53,326.3 137.25,326.31 135.97,326.33 134.68,326.35 133.4,326.37 132.11,326.38 130.83,326.4 129.55,326.42 128.26,326.44 126.98,326.46 125.69,326.48 124.41,326.51 123.13,326.53 121.84,326.55 120.56,326.58 119.28,326.6 117.99,326.63 116.71,326.66 115.42,326.68 114.14,326.71 112.86,326.75 111.57,326.78 110.29,326.81 109.01,326.85 107.72,326.88 106.44,326.92 105.16,326.96 103.87,327 102.59,327.04 101.3,327.09 100.02,327.13 98.74,327.18 97.45,327.24 96.17,327.31 94.88,327.39 93.6,327.47 92.32,327.56 91.03,327.66 89.75,327.77 88.47,327.88 87.18,328 85.9,328.13 84.61,328.27 83.33,328.41 82.05,328.55 80.76,328.71 79.48,328.86 78.2,329.06 76.91,329.33 75.63,329.65 74.34,330.01 73.06,330.39 71.78,330.77 70.49,331.15 69.21,331.5 67.93,331.8 66.64,332.06 65.36,332.24 64.07,332.33 62.79,332.37 61.51,332.41 60.22,332.45 58.94,332.48 57.66,332.52 56.37,332.55 55.09,332.58 53.8,332.61 52.52,332.63 51.24,332.65 49.95,332.67 48.67,332.69 47.39,332.71 46.1,332.72 44.82,332.73 43.53,332.74 42.25,332.75 40.97,332.76 39.68,332.76 38.4,332.76" fill="#ec8d9c" fill-opacity="0.75" stroke="none" stroke-width="0"/>
<polyline points="38.4,329.73 39.68,329.73 40.97,329.73 42.25,329.72 43.53,329.71 44.82,329.7 46.1,329.69 47.39,329.68 48.67,329.66 49.95,329.64 51.24,329.62 52.52,329.6 53.8,329.57 55.09,329.55 56.37,329.52 57.66,329.49 58.94,329.45 60.22,329.42 61.51,329.38 62.79,329.34 64.07,329.3 65.36,329.21 66.64,329.05 67.93,328.82 69.21,328.55 70.49,328.24 71.78,327.91 73.06,327.57 74.34,327.24 75.63,326.93 76.91,326.65 78.2,326.43 79.48,326.27 80.76,326.14 82.05,326.02 83.33,325.91 84.61,325.8 85.9,325.7 87.18,325.61 88.47,325.52 89.75,325.43 91.03,325.35 92.32,325.28 93.6,325.21 94.88,325.15 96.17,325.09 97.45,325.05 98.74,325 100.02,324.97 101.3,324.93 102.59,324.9 103.87,324.87 105.16,324.85 106.44,324.82 107.72,324.79 109.01,324.77 110.29,324.75 111.57,324.72 112.86,324.7 114.14,324.68 115.42,324.66 116.71,324.65 117.99,324.63 119.28,324.61 120.56,324.59 121.84,324.58 123.13,324.56 124.41,324.55 125.69,324.53 126.98,324.52 128.26,324.5 129.55,324.49 130.83,324.48 132.11,324.46 133.4,324.45 134.68,324.43 135.97,324.42 137.25,324.41 138.53,324.39 139.82,324.38 141.1,324.36 142.38,324.35 143.67,324.33 144.95,324.31 146.23,324.3 147.52,324.28 148.8,324.27 150.09,324.25 151.37,324.24 152.65,324.23 153.94,324.21 155.22,324.2 156.5,324.18 157.79,324.17 159.07,324.15 160.36,324.14 161.64,324.13 162.92,324.11 164.21,324.1 165.49,324.09 166.78,324.07 168.06,324.06 169.34,324.05 170.63,324.03 171.91,324.02 173.19,324.01 174.48,324 175.76,323.98 177.04,323.97 178.33,323.96 179.61,323.95 180.9,323.94 182.18,323.92 183.46,323.91 184.75,323.9 186.03,323.89 187.31,323.88 188.6,323.87 189.88,323.86 191.17,323.85 192.45,323.84" fill="none" stroke="#e07f90" stroke-width="1.6"/>
<polygon points="38.4,326.09 39.68,326.09 40.97,326.09 42.25,326.09 43.53,326.09 44.82,326.09 46.1,326.09 47.39,326.09 48.67,326.09 49.95,326.09 51.24,326.09 52.52,326.09 53.8,326.09 55.09,326.09 56.37,326.09 57.66,326.09 58.94,326.09 60.22,326.09 61.51,326.09 62.79,326.01 64.07,325.55 65.36,324.84 66.64,324 67.93,323.12 69.21,321.97 70.49,320.57 71.78,319 73.06,317.29 74.34,315.52 75.63,313.73 76.91,311.98 78.2,310.33 79.48,308.83 80.76,307.41 82.05,305.98 83.33,304.55 84.61,303.13 85.9,301.73 87.18,300.36 88.47,299.02 89.75,297.72 91.03,296.47 92.32,295.28 93.6,294.16 94.88,293.12 96.17,292.15 97.45,291.24 98.74,290.37 100.02,289.54 101.3,288.74 102.59,287.97 103.87,287.23 105.16,286.51 106.44,285.82 107.72,285.14 109.01,284.48 110.29,283.83 111.57,283.19 112.86,282.56 114.14,281.92 115.42,281.27 116.71,280.63 117.99,280 119.28,279.38 120.56,278.79 121.84,278.22 123.13,277.69 124.41,277.2 125.69,276.76 126.98,276.37 128.26,276.04 129.55,275.74 130.83,275.46 132.11,275.19 133.4,274.94 134.68,274.69 135.97,274.45 137.25,274.22 138.53,274.01 139.82,273.8 141.1,273.6 142.38,273.4 143.67,273.22 144.95,273.04 146.23,272.86 147.52,272.7 148.8,272.54 150.09,272.38 151.37,272.23 152.65,272.08 153.94,271.93 155.22,271.79 156.5,271.65 157.79,271.51 159.07,271.37 160.36,271.24 161.64,271.1 162.92,270.97 164.21,270.84 165.49,270.71 166.78,270.58 168.06,270.45 169.34,270.33 170.63,270.2 171.91,270.08 173.19,269.97 174.48,269.85 175.76,269.74 177.04,269.63 178.33,269.53 179.61,269.42 180.9,269.32 182.18,269.23 183.46,269.13 184.75,269.04 186.03,268.96 187.31,268.88 188.6,268.8 189.88,268.73 191.17,268.66 192.45,268.59 192.45,289.2 191.17,289.27 189.88,289.34 188.6,289.41 187.31,289.49 186.03,289.57 184.75,289.65 183.46,289.74 182.18,289.83 180.9,289.92 179.61,290.01 178.33,290.11 177.04,290.21 175.76,290.31 174.48,290.41 173.19,290.52 171.91,290.62 170.63,290.73 169.34,290.84 168.06,290.96 166.78,291.07 165.49,291.19 164.21,291.31 162.92,291.43 161.64,291.55 160.36,291.67 159.07,291.79 157.79,291.91 156.5,292.03 155.22,292.16 153.94,292.28 152.65,292.4 151.37,292.53 150.09,292.66 148.8,292.79 147.52,292.93 146.23,293.07 144.95,293.21 143.67,293.36 142.38,293.52 141.1,293.68 139.82,293.85 138.53,294.03 137.25,294.21 135.97,294.41 134.68,294.61 133.4,294.82 132.11,295.05 130.83,295.28 129.55,295.53 128.26,295.78 126.98,296.08 125.69,296.44 124.41,296.86 123.13,297.32 121.84,297.82 120.56,298.36 119.28,298.93 117.99,299.51 116.71,300.11 115.42,300.72 114.14,301.32 112.86,301.91 111.57,302.48 110.29,303.06 109.01,303.64 107.72,304.22 106.44,304.82 105.16,305.42 103.87,306.04 102.59,306.68 101.3,307.34 100.02,308.02 98.74,308.72 97.45,309.46 96.17,310.22 94.88,311.04 93.6,312 92.32,313.06 91.03,314.21 89.75,315.41 88.47,316.63 87.18,317.85 85.9,319.04 84.61,320.16 83.33,321.2 82.05,322.11 80.76,322.87 79.48,323.46 78.2,323.9 76.91,324.29 75.63,324.64 74.34,324.96 73.06,325.24 71.78,325.51 70.49,325.78 69.21,326.05 67.93,326.32 66.64,326.66 65.36,326.99 64.07,327.23 62.79,327.31 61.51,327.31 60.22,327.31 58.94,327.31 57.66,327.31 56.37,327.31 55.09,327.31 53.8,327.31 52.52,327.31 51.24,327.31 49.95,327.31 48.67,327.31 47.39,327.31 46.1,327.31 44.82,327.31 43.53,327.31 42.25,327.31 40.97,327.31 39.68,327.31 38.4,327.31" fill="#9ad6a2" stroke="none" stroke-width="0"/>
<polyline points="38.4,327.31 39.68,327.31 40.97,327.31 42.25,327.31 43.53,327.31 44.82,327.31 46.1,327.31 47.39,327.31 48.67,327.31 49.95,327.31 51.24,327.31 52.52,327.31 53.8,327.31 55.09,327.31 56.37,327.31 57.66,327.31 58.94,327.31 60.22,327.31 61.51,327.31 62.79,327.31 64.07,327.23 65.36,326.99 66.64,326.66 67.93,326.32 69.21,326.05 70.49,325.78 71.78,325.51 73.06,325.24 74.34,324.96 75.63,324.64 76.91,324.29 78.2,323.9 79.48,323.46 80.76,322.87 82.05,322.11 83.33,321.2 84.61,320.16 85.9,319.04 87.18,317.85 88.47,316.63 89.75,315.41 91.03,314.21 92.32,313.06 93.6,312 94.88,311.04 96.17,310.22 97.45,309.46 98.74,308.72 100.02,308.02 101.3,307.34 102.59,306.68 103.87,306.04 105.16,305.42 106.44,304.82 107.72,304.22 109.01,303.64 110.29,303.06 111.57,302.48 112.86,301.91 114.14,301.32 115.42,300.72 116.71,300.11 117.99,299.51 119.28,298.93 120.56,298.36 121.84,297.82 123.13,297.32 124.41,296.86 125.69,296.44 126.98,296.08 128.26,295.78 129.55,295.53 130.83,295.28 132.11,295.05 133.4,294.82 134.68,294.61 135.97,294.41 137.25,294.21 138.53,294.03 139.82,293.85 141.1,293.68 142.38,293.52 143.67,293.36 144.95,293.21 146.23,293.07 147.52,292.93 148.8,292.79 150.09,292.66 151.37,292.53 152.65,292.4 153.94,292.28 155.22,292.16 156.5,292.03 157.79,291.91 159.07,291.79 160.36,291.67 161.64,291.55 162.92,291.43 164.21,291.31 165.49,291.19 166.78,291.07 168.06,290.96 169.34,290.84 170.63,290.73 171.91,290.62 173.19,290.52 174.48,290.41 175.76,290.31 177.04,290.21 178.33,290.11 179.61,290.01 180.9,289.92 182.18,289.83 183.46,289.74 184.75,289.65 186.03,289.57 187.31,289.49 188.6,289.41 189.88,289.34 191.17,289.27 192.45,289.2" fill="none" stroke="#2ea043" stroke-width="0.8"/>
<polygon points="38.4,325.4 39.68,325.4 40.97,325.4 42.25,325.4 43.53,325.4 44.82,325.4 46.1,325.4 47.39,325.4 48.67,325.4 49.95,325.4 51.24,325.4 52.52,325.4 53.8,325.4 55.09,325.4 56.37,325.4 57.66,325.4 58.94,325.4 60.22,325.38 61.51,324.67 62.79,323.36 64.07,321.94 65.36,320.5 66.64,318.84 67.93,317 69.21,315.01 70.49,312.93 71.78,310.78 73.06,308.61 74.34,306.46 75.63,304.35 76.91,302.35 78.2,300.47 79.48,298.77 80.76,297.17 82.05,295.59 83.33,294.05 84.61,292.54 85.9,291.07 87.18,289.64 88.47,288.24 89.75,286.89 91.03,285.58 92.32,284.32 93.6,283.11 94.88,281.95 96.17,280.84 97.45,279.76 98.74,278.7 100.02,277.66 101.3,276.66 102.59,275.68 103.87,274.73 105.16,273.82 106.44,272.95 107.72,272.12 109.01,271.32 110.29,270.58 111.57,269.87 112.86,269.21 114.14,268.55 115.42,267.92 116.71,267.29 117.99,266.69 119.28,266.11 120.56,265.56 121.84,265.04 123.13,264.56 124.41,264.11 125.69,263.71 126.98,263.35 128.26,263.05 129.55,262.77 130.83,262.51 132.11,262.26 133.4,262.02 134.68,261.79 135.97,261.57 137.25,261.36 138.53,261.15 139.82,260.96 141.1,260.77 142.38,260.59 143.67,260.42 144.95,260.26 146.23,260.1 147.52,259.94 148.8,259.79 150.09,259.65 151.37,259.51 152.65,259.37 153.94,259.23 155.22,259.1 156.5,258.97 157.79,258.84 159.07,258.72 160.36,258.59 161.64,258.46 162.92,258.34 164.21,258.22 165.49,258.09 166.78,257.97 168.06,257.86 169.34,257.74 170.63,257.63 171.91,257.52 173.19,257.41 174.48,257.3 175.76,257.2 177.04,257.09 178.33,256.99 179.61,256.9 180.9,256.81 182.18,256.72 183.46,256.63 184.75,256.55 186.03,256.47 187.31,256.39 188.6,256.32 189.88,256.25 191.17,256.18 192.45,256.12 192.45,278.81 191.17,278.81 189.88,278.82 188.6,278.83 187.31,278.85 186.03,278.88 184.75,278.91 183.46,278.94 182.18,278.98 180.9,279.02 179.61,279.06 178.33,279.11 177.04,279.16 175.76,279.22 174.48,279.28 173.19,279.34 171.91,279.4 170.63,279.47 169.34,279.54 168.06,279.61 166.78,279.68 165.49,279.75 164.21,279.82 162.92,279.9 161.64,279.97 160.36,280.05 159.07,280.13 157.79,280.22 156.5,280.32 155.22,280.43 153.94,280.54 152.65,280.67 151.37,280.8 150.09,280.93 148.8,281.08 147.52,281.23 146.23,281.39 144.95,281.55 143.67,281.72 142.38,281.9 141.1,282.09 139.82,282.28 138.53,282.48 137.25,282.68 135.97,282.89 134.68,283.1 133.4,283.33 132.11,283.55 130.83,283.78 129.55,284.02 128.26,284.26 126.98,284.52 125.69,284.81 124.41,285.11 123.13,285.45 121.84,285.8 120.56,286.18 119.28,286.58 117.99,287 116.71,287.44 115.42,287.9 114.14,288.38 112.86,288.87 111.57,289.39 110.29,289.96 109.01,290.58 107.72,291.26 106.44,291.98 105.16,292.73 103.87,293.52 102.59,294.34 101.3,295.18 100.02,296.04 98.74,296.91 97.45,297.79 96.17,298.67 94.88,299.56 93.6,300.48 92.32,301.45 91.03,302.44 89.75,303.46 88.47,304.5 87.18,305.55 85.9,306.62 84.61,307.69 83.33,308.75 82.05,309.82 80.76,310.86 79.48,311.9 78.2,312.93 76.91,313.98 75.63,315.05 74.34,316.13 73.06,317.21 71.78,318.29 70.49,319.34 69.21,320.37 67.93,321.37 66.64,322.33 65.36,323.25 64.07,324.1 62.79,325.03 61.51,325.93 60.22,326.42 58.94,326.44 57.66,326.44 56.37,326.44 55.09,326.44 53.8,326.44 52.52,326.44 51.24,326.44 49.95,326.44 48.67,326.44 47.39,326.44 46.1,326.44 44.82,326.44 43.53,326.44 42.25,326.44 40.97,326.44 39.68,326.44 38.4,326.44" fill="#df8799" fill-opacity="0.92" stroke="none" stroke-width="0"/>
<polyline points="38.4,326.09 39.68,326.09 40.97,326.09 42.25,326.09 43.53,326.09 44.82,326.09 46.1,326.09 47.39,326.09 48.67,326.09 49.95,326.09 51.24,326.09 52.52,326.09 53.8,326.09 55.09,326.09 56.37,326.09 57.66,326.09 58.94,326.09 60.22,326.09 61.51,326.09 62.79,326.01 64.07,325.55 65.36,324.84 66.64,324 67.93,323.12 69.21,321.97 70.49,320.57 71.78,319 73.06,317.29 74.34,315.52 75.63,313.73 76.91,311.98 78.2,310.33 79.48,308.83 80.76,307.41 82.05,305.98 83.33,304.55 84.61,303.13 85.9,301.73 87.18,300.36 88.47,299.02 89.75,297.72 91.03,296.47 92.32,295.28 93.6,294.16 94.88,293.12 96.17,292.15 97.45,291.24 98.74,290.37 100.02,289.54 101.3,288.74 102.59,287.97 103.87,287.23 105.16,286.51 106.44,285.82 107.72,285.14 109.01,284.48 110.29,283.83 111.57,283.19 112.86,282.56 114.14,281.92 115.42,281.27 116.71,280.63 117.99,280 119.28,279.38 120.56,278.79 121.84,278.22 123.13,277.69 124.41,277.2 125.69,276.76 126.98,276.37 128.26,276.04 129.55,275.74 130.83,275.46 132.11,275.19 133.4,274.94 134.68,274.69 135.97,274.45 137.25,274.22 138.53,274.01 139.82,273.8 141.1,273.6 142.38,273.4 143.67,273.22 144.95,273.04 146.23,272.86 147.52,272.7 148.8,272.54 150.09,272.38 151.37,272.23 152.65,272.08 153.94,271.93 155.22,271.79 156.5,271.65 157.79,271.51 159.07,271.37 160.36,271.24 161.64,271.1 162.92,270.97 164.21,270.84 165.49,270.71 166.78,270.58 168.06,270.45 169.34,270.33 170.63,270.2 171.91,270.08 173.19,269.97 174.48,269.85 175.76,269.74 177.04,269.63 178.33,269.53 179.61,269.42 180.9,269.32 182.18,269.23 183.46,269.13 184.75,269.04 186.03,268.96 187.31,268.88 188.6,268.8 189.88,268.73 191.17,268.66 192.45,268.59" fill="none" stroke="#8a5a3a" stroke-width="0.7"/>
<polyline points="38.4,325.4 39.68,325.4 40.97,325.4 42.25,325.4 43.53,325.4 44.82,325.4 46.1,325.4 47.39,325.4 48.67,325.4 49.95,325.4 51.24,325.4 52.52,325.4 53.8,325.4 55.09,325.4 56.37,325.4 57.66,325.4 58.94,325.4 60.22,325.38 61.51,324.67 62.79,323.36 64.07,321.94 65.36,320.5 66.64,318.84 67.93,317 69.21,315.01 70.49,312.93 71.78,310.78 73.06,308.61 74.34,306.46 75.63,304.35 76.91,302.35 78.2,300.47 79.48,298.77 80.76,297.17 82.05,295.59 83.33,294.05 84.61,292.54 85.9,291.07 87.18,289.64 88.47,288.24 89.75,286.89 91.03,285.58 92.32,284.32 93.6,283.11 94.88,281.95 96.17,280.84 97.45,279.76 98.74,278.7 100.02,277.66 101.3,276.66 102.59,275.68 103.87,274.73 105.16,273.82 106.44,272.95 107.72,272.12 109.01,271.32 110.29,270.58 111.57,269.87 112.86,269.21 114.14,268.55 115.42,267.92 116.71,267.29 117.99,266.69 119.28,266.11 120.56,265.56 121.84,265.04 123.13,264.56 124.41,264.11 125.69,263.71 126.98,263.35 128.26,263.05 129.55,262.77 130.83,262.51 132.11,262.26 133.4,262.02 134.68,261.79 135.97,261.57 137.25,261.36 138.53,261.15 139.82,260.96 141.1,260.77 142.38,260.59 143.67,260.42 144.95,260.26 146.23,260.1 147.52,259.94 148.8,259.79 150.09,259.65 151.37,259.51 152.65,259.37 153.94,259.23 155.22,259.1 156.5,258.97 157.79,258.84 159.07,258.72 160.36,258.59 161.64,258.46 162.92,258.34 164.21,258.22 165.49,258.09 166.78,257.97 168.06,257.86 169.34,257.74 170.63,257.63 171.91,257.52 173.19,257.41 174.48,257.3 175.76,257.2 177.04,257.09 178.33,256.99 179.61,256.9 180.9,256.81 182.18,256.72 183.46,256.63 184.75,256.55 186.03,256.47 187.31,256.39 188.6,256.32 189.88,256.25 191.17,256.18 192.45,256.12" fill="none" stroke="#c8102e" stroke-width="0.8"/>
<polyline points="38.4,326.44 39.68,326.44 40.97,326.44 42.25,326.44 43.53,326.44 44.82,326.44 46.1,326.44 47.39,326.44 48.67,326.44 49.95,326.44 51.24,326.44 52.52,326.44 53.8,326.44 55.09,326.44 56.37,326.44 57.66,326.44 58.94,326.44 60.22,326.42 61.51,325.93 62.79,325.03 64.07,324.1 65.36,323.25 66.64,322.33 67.93,321.37 69.21,320.37 70.49,319.34 71.78,318.29 73.06,317.21 74.34,316.13 75.63,315.05 76.91,313.98 78.2,312.93 79.48,311.9 80.76,310.86 82.05,309.82 83.33,308.75 84.61,307.69 85.9,306.62 87.18,305.55 88.47,304.5 89.75,303.46 91.03,302.44 92.32,301.45 93.6,300.48 94.88,299.56 96.17,298.67 97.45,297.79 98.74,296.91 100.02,296.04 101.3,295.18 102.59,294.34 103.87,293.52 105.16,292.73 106.44,291.98 107.72,291.26 109.01,290.58 110.29,289.96 111.57,289.39 112.86,288.87 114.14,288.38 115.42,287.9 116.71,287.44 117.99,287 119.28,286.58 120.56,286.18 121.84,285.8 123.13,285.45 124.41,285.11 125.69,284.81 126.98,284.52 128.26,284.26 129.55,284.02 130.83,283.78 132.11,283.55 133.4,283.33 134.68,283.1 135.97,282.89 137.25,282.68 138.53,282.48 139.82,282.28 141.1,282.09 142.38,281.9 143.67,281.72 144.95,281.55 146.23,281.39 147.52,281.23 148.8,281.08 150.09,280.93 151.37,280.8 152.65,280.67 153.94,280.54 155.22,280.43 156.5,280.32 157.79,280.22 159.07,280.13 160.36,280.05 161.64,279.97 162.92,279.9 164.21,279.82 165.49,279.75 166.78,279.68 168.06,279.61 169.34,279.54 170.63,279.47 171.91,279.4 173.19,279.34 174.48,279.28 175.76,279.22 177.04,279.16 178.33,279.11 179.61,279.06 180.9,279.02 182.18,278.98 183.46,278.94 184.75,278.91 186.03,278.88 187.31,278.85 188.6,278.83 189.88,278.82 191.17,278.81 192.45,278.81" fill="none" stroke="#c8102e" stroke-width="0.9"/>
<polyline points="38.4,326.7 39.68,326.7 40.97,326.7 42.25,326.7 43.53,326.7 44.82,326.7 46.1,326.7 47.39,326.7 48.67,326.7 49.95,326.7 51.24,326.7 52.52,326.7 53.8,326.7 55.09,326.7 56.37,326.7 57.66,326.7 58.94,326.7 60.22,326.7 61.51,326.7 62.79,326.65 64.07,326.41 65.36,326.03 66.64,325.58 67.93,325.1 69.21,324.5 70.49,323.76 71.78,322.93 73.06,322.01 74.34,321.03 75.63,320 76.91,318.97 78.2,317.93 79.48,316.92 80.76,315.88 82.05,314.76 83.33,313.59 84.61,312.38 85.9,311.13 87.18,309.88 88.47,308.62 89.75,307.39 91.03,306.18 92.32,305.02 93.6,303.92 94.88,302.89 96.17,301.95 97.45,301.04 98.74,300.15 100.02,299.29 101.3,298.45 102.59,297.63 103.87,296.84 105.16,296.07 106.44,295.34 107.72,294.63 109.01,293.96 110.29,293.31 111.57,292.7 112.86,292.12 114.14,291.55 115.42,290.99 116.71,290.44 117.99,289.91 119.28,289.39 120.56,288.9 121.84,288.44 123.13,288 124.41,287.6 125.69,287.23 126.98,286.9 128.26,286.6 129.55,286.34 130.83,286.08 132.11,285.84 133.4,285.61 134.68,285.38 135.97,285.17 137.25,284.96 138.53,284.76 139.82,284.57 141.1,284.38 142.38,284.21 143.67,284.03 144.95,283.87 146.23,283.71 147.52,283.55 148.8,283.4 150.09,283.25 151.37,283.11 152.65,282.97 153.94,282.83 155.22,282.69 156.5,282.55 157.79,282.42 159.07,282.28 160.36,282.15 161.64,282.01 162.92,281.88 164.21,281.75 165.49,281.62 166.78,281.49 168.06,281.36 169.34,281.24 170.63,281.12 171.91,281 173.19,280.88 174.48,280.76 175.76,280.65 177.04,280.54 178.33,280.43 179.61,280.32 180.9,280.22 182.18,280.12 183.46,280.02 184.75,279.92 186.03,279.83 187.31,279.74 188.6,279.66 189.88,279.57 191.17,279.49 192.45,279.42" fill="none" stroke="#2eaa44" stroke-width="2.4"/>
<polyline points="38.4,325.83 39.68,325.83 40.97,325.83 42.25,325.83 43.53,325.83 44.82,325.83 46.1,325.83 47.39,325.83 48.67,325.83 49.95,325.83 51.24,325.83 52.52,325.83 53.8,325.83 55.09,325.83 56.37,325.83 57.66,325.83 58.94,325.83 60.22,325.81 61.51,325.19 62.79,324.04 64.07,322.8 65.36,321.6 66.64,320.26 67.93,318.8 69.21,317.26 70.49,315.63 71.78,313.95 73.06,312.24 74.34,310.52 75.63,308.8 76.91,307.11 78.2,305.46 79.48,303.89 80.76,302.33 82.05,300.77 83.33,299.21 84.61,297.66 85.9,296.14 87.18,294.65 88.47,293.21 89.75,291.83 91.03,290.46 92.32,289.11 93.6,287.84 94.88,286.67 96.17,285.64 97.45,284.66 98.74,283.71 100.02,282.79 101.3,281.91 102.59,281.06 103.87,280.24 105.16,279.47 106.44,278.73 107.72,278.04 109.01,277.39 110.29,276.78 111.57,276.23 112.86,275.71 114.14,275.21 115.42,274.73 116.71,274.26 117.99,273.82 119.28,273.39 120.56,272.99 121.84,272.62 123.13,272.27 124.41,271.95 125.69,271.66 126.98,271.41 128.26,271.19 129.55,270.99 130.83,270.8 132.11,270.61 133.4,270.43 134.68,270.26 135.97,270.09 137.25,269.93 138.53,269.78 139.82,269.63 141.1,269.49 142.38,269.35 143.67,269.22 144.95,269.1 146.23,268.98 147.52,268.86 148.8,268.75 150.09,268.65 151.37,268.55 152.65,268.46 153.94,268.37 155.22,268.29 156.5,268.21 157.79,268.14 159.07,268.07 160.36,268.01 161.64,267.95 162.92,267.89 164.21,267.83 165.49,267.77 166.78,267.72 168.06,267.66 169.34,267.6 170.63,267.55 171.91,267.5 173.19,267.45 174.48,267.4 175.76,267.36 177.04,267.31 178.33,267.27 179.61,267.23 180.9,267.2 182.18,267.16 183.46,267.13 184.75,267.11 186.03,267.09 187.31,267.07 188.6,267.05 189.88,267.04 191.17,267.03 192.45,267.03" fill="none" stroke="#c8102e" stroke-width="2.6"/>
<circle cx="59.7" cy="234.7" r="1.3" fill="#c8102e"/>
<text transform="translate(65,237.8) scale(0.9,1)" font-size="8.6" text-anchor="start" fill="#231f20" font-style="italic">Fga<tspan dy="-3.3" font-size="5.8">WT/WT</tspan></text>
<circle cx="59.7" cy="248.1" r="1.3" fill="#3cb44b"/>
<text transform="translate(65,251.2) scale(0.9,1)" font-size="8.6" text-anchor="start" fill="#231f20" font-style="italic">Fga<tspan dy="-3.3" font-size="5.8">WT/270</tspan></text>
<circle cx="106.1" cy="234.7" r="1.3" fill="#ec8d9c"/>
<text transform="translate(111.4,237.8) scale(0.88,1)" font-size="8.6" text-anchor="start" fill="#231f20" font-style="italic">10% Fga<tspan dy="-3.3" font-size="5.8">WT/WT</tspan></text>
<circle cx="106.1" cy="248.1" r="1.3" fill="#164e86"/>
<text transform="translate(111.4,251.2) scale(0.9,1)" font-size="8.6" text-anchor="start" fill="#231f20" font-style="italic">Fga<tspan dy="-3.3" font-size="5.8">270/270</tspan></text>
<text transform="translate(224.3,224.3)" font-size="11.8" text-anchor="start" fill="#231f20" font-weight="bold">E</text>
<line x1="256.5" y1="224" x2="256.5" y2="327" stroke="#231f20" stroke-width="1.1"/>
<line x1="253.6" y1="228.5" x2="256.6" y2="228.5" stroke="#231f20" stroke-width="1"/>
<text transform="translate(251.3,230.44) scale(0.9,1)" font-size="8.7" text-anchor="end" fill="#231f20">100</text>
<line x1="253.6" y1="252.5" x2="256.6" y2="252.5" stroke="#231f20" stroke-width="1"/>
<text transform="translate(251.3,255.06) scale(0.9,1)" font-size="8.7" text-anchor="end" fill="#231f20">75</text>
<line x1="253.6" y1="277.5" x2="256.6" y2="277.5" stroke="#231f20" stroke-width="1"/>
<text transform="translate(251.3,279.69) scale(0.9,1)" font-size="8.7" text-anchor="end" fill="#231f20">50</text>
<line x1="253.6" y1="301.5" x2="256.6" y2="301.5" stroke="#231f20" stroke-width="1"/>
<text transform="translate(251.3,304.31) scale(0.9,1)" font-size="8.7" text-anchor="end" fill="#231f20">25</text>
<line x1="253.6" y1="326.5" x2="256.6" y2="326.5" stroke="#231f20" stroke-width="1"/>
<text transform="translate(251.3,328.94) scale(0.9,1)" font-size="8.7" text-anchor="end" fill="#231f20">0</text>
<line x1="256.6" y1="326.5" x2="359.6" y2="326.5" stroke="#231f20" stroke-width="1.1"/>
<line x1="256.5" y1="326.6" x2="256.5" y2="328.8" stroke="#231f20" stroke-width="1"/>
<text transform="translate(256.6,339.2) scale(0.86,1)" font-size="8.7" text-anchor="middle" fill="#231f20">0</text>
<line x1="289.5" y1="326.6" x2="289.5" y2="328.8" stroke="#231f20" stroke-width="1"/>
<text transform="translate(289.8,339.2) scale(0.86,1)" font-size="8.7" text-anchor="middle" fill="#231f20">20</text>
<line x1="323.5" y1="326.6" x2="323.5" y2="328.8" stroke="#231f20" stroke-width="1"/>
<text transform="translate(323,339.2) scale(0.86,1)" font-size="8.7" text-anchor="middle" fill="#231f20">40</text>
<line x1="356.5" y1="326.6" x2="356.5" y2="328.8" stroke="#231f20" stroke-width="1"/>
<text transform="translate(356.2,339.2) scale(0.86,1)" font-size="8.7" text-anchor="middle" fill="#231f20">60</text>
<text transform="translate(306.3,351.9)" font-size="8.8" text-anchor="middle" fill="#231f20" textLength="36.3" lengthAdjust="spacingAndGlyphs">Time (min)</text>
<text transform="translate(231.2,275.6) rotate(-90)" font-size="9.5" text-anchor="middle" fill="#231f20" textLength="49.5" lengthAdjust="spacingAndGlyphs">Thrombin (nM)</text>
<polygon points="262.58,254.9 262.99,255.31 263.41,256.35 263.82,258.58 264.24,264.04 264.65,270.06 264.9,272.63 265.73,278.19 266.56,282.5 267.39,285.85 268.22,288.41 269.05,290.41 269.88,292.33 270.71,294.45 271.54,296.51 272.37,298.24 273.2,299.61 274.03,300.8 274.86,301.83 275.69,302.72 276.52,303.52 277.35,304.25 278.18,304.91 279.01,305.53 279.84,306.12 280.67,306.67 281.5,307.18 282.33,307.66 283.16,308.13 283.99,308.6 284.82,309.08 285.65,309.57 286.48,310.06 287.31,310.55 288.14,311.04 288.97,311.53 289.8,312.03 291.46,313.08 293.12,314.13 294.78,315.06 296.44,315.89 298.1,316.63 299.76,317.27 301.42,317.84 303.08,318.48 304.74,319.06 306.4,319.6 308.06,320.12 309.72,320.59 311.38,321.01 313.04,321.38 314.7,321.68 316.36,321.97 318.02,322.22 319.68,322.45 321.34,322.63 323,322.78 324.66,322.89 326.32,323 327.98,323.1 329.64,323.2 331.3,323.28 332.96,323.36 334.62,323.42 336.28,323.47 337.94,323.51 339.6,323.54 341.26,323.56 342.92,323.58 344.58,323.6 346.24,323.62 347.9,323.63 349.56,323.64 351.22,323.65 352.88,323.66 354.54,323.67 356.2,323.67 356.2,325.7 354.54,325.7 352.88,325.7 351.22,325.7 349.56,325.7 347.9,325.7 346.24,325.7 344.58,325.7 342.92,325.7 341.26,325.7 339.6,325.7 337.94,325.7 336.28,325.7 334.62,325.7 332.96,325.7 331.3,325.7 329.64,325.7 327.98,325.7 326.32,325.7 324.66,325.7 323,325.7 321.34,325.7 319.68,325.7 318.02,325.58 316.36,325.44 314.7,325.29 313.04,325.12 311.38,324.92 309.72,324.69 308.06,324.43 306.4,324.15 304.74,323.85 303.08,323.53 301.42,323.14 299.76,322.56 298.1,321.92 296.44,321.18 294.78,320.36 293.12,319.42 291.46,318.37 289.8,317.33 288.97,316.83 288.14,316.33 287.31,315.84 286.48,315.35 285.65,314.86 284.82,314.37 283.99,313.89 283.16,313.43 282.33,312.96 281.5,312.48 280.67,311.97 279.84,311.42 279.01,310.83 278.18,310.21 277.35,309.54 276.52,308.82 275.69,308.02 274.86,307.12 274.03,306.09 273.2,304.9 272.37,303.54 271.54,301.81 270.71,299.74 269.88,297.63 269.05,295.71 268.22,293.7 267.39,291.14 266.56,287.8 265.73,283.48 264.9,277.93 264.65,275.36 264.24,269.34 263.82,263.87 263.41,261.64 262.99,260.61 262.58,260.2" fill="#164e86" fill-opacity="0.8" stroke="none" stroke-width="0"/>
<path d="M256.6 323.05V326.5M254.6 323.05h4M254.6 326.5h4M257.43 322.02V326.5M255.43 322.02h4M255.43 326.5h4M258.26 311.23V318.13M256.26 311.23h4M256.26 318.13h4M259.09 297.39V306.36M257.09 297.39h4M257.09 306.36h4M259.92 285.62V292.52M257.92 285.62h4M257.92 292.52h4M260.75 272.77V281.73M258.75 272.77h4M258.75 281.73h4M261.58 261.98V268.88M259.58 261.98h4M259.58 268.88h4M262.41 253.42V262.38M260.41 253.42h4M260.41 262.38h4M262.58 254.1V261M260.58 254.1h4M260.58 261h4M262.99 254.51V261.41M260.99 254.51h4M260.99 261.41h4M263.41 255.55V262.44M261.41 255.55h4M261.41 262.44h4M263.82 257.78V264.67M261.82 257.78h4M261.82 264.67h4M264.24 263.24V270.14M262.24 263.24h4M262.24 270.14h4M264.65 269.26V276.16M262.65 269.26h4M262.65 276.16h4M264.9 271.83V278.73M263.7 271.83h2.4M263.7 278.73h2.4M265.73 277.39V284.28M264.53 277.39h2.4M264.53 284.28h2.4M266.56 281.7V288.6M265.36 281.7h2.4M265.36 288.6h2.4M267.39 285.05V291.94M266.19 285.05h2.4M266.19 291.94h2.4M268.22 287.61V294.5M267.02 287.61h2.4M267.02 294.5h2.4M269.05 289.61V296.51M267.85 289.61h2.4M267.85 296.51h2.4M269.88 291.53V298.43M268.68 291.53h2.4M268.68 298.43h2.4M270.71 293.65V300.54M269.51 293.65h2.4M269.51 300.54h2.4M271.54 295.71V302.61M270.34 295.71h2.4M270.34 302.61h2.4M272.37 297.44V304.34M271.17 297.44h2.4M271.17 304.34h2.4M273.2 298.81V305.7M272 298.81h2.4M272 305.7h2.4M274.03 300V306.89M272.83 300h2.4M272.83 306.89h2.4M274.86 301.03V307.92M273.66 301.03h2.4M273.66 307.92h2.4M275.69 301.92V308.82M274.49 301.92h2.4M274.49 308.82h2.4M276.52 302.72V309.62M275.32 302.72h2.4M275.32 309.62h2.4M277.35 303.45V310.34M276.15 303.45h2.4M276.15 310.34h2.4M278.18 304.11V311.01M276.98 304.11h2.4M276.98 311.01h2.4M279.01 304.73V311.63M277.81 304.73h2.4M277.81 311.63h2.4M279.84 305.32V312.22M278.64 305.32h2.4M278.64 312.22h2.4M280.67 305.87V312.77M279.47 305.87h2.4M279.47 312.77h2.4M281.5 306.38V313.28M280.3 306.38h2.4M280.3 313.28h2.4M282.33 306.86V313.76M281.13 306.86h2.4M281.13 313.76h2.4M283.16 307.33V314.23M281.96 307.33h2.4M281.96 314.23h2.4M283.99 307.8V314.69M282.79 307.8h2.4M282.79 314.69h2.4M284.82 308.28V315.17M283.62 308.28h2.4M283.62 315.17h2.4M285.65 308.77V315.66M284.45 308.77h2.4M284.45 315.66h2.4M286.48 309.26V316.15M285.28 309.26h2.4M285.28 316.15h2.4M287.31 309.75V316.64M286.11 309.75h2.4M286.11 316.64h2.4M288.14 310.24V317.13M286.94 310.24h2.4M286.94 317.13h2.4M288.97 310.73V317.63M287.77 310.73h2.4M287.77 317.63h2.4M289.8 311.23V318.13M288.6 311.23h2.4M288.6 318.13h2.4M291.46 312.28V319.17M290.26 312.28h2.4M290.26 319.17h2.4M293.12 313.33V320.22M291.92 313.33h2.4M291.92 320.22h2.4M294.78 314.26V321.16M293.58 314.26h2.4M293.58 321.16h2.4M296.44 315.09V321.98M295.24 315.09h2.4M295.24 321.98h2.4M298.1 315.83V322.72M296.9 315.83h2.4M296.9 322.72h2.4M299.76 316.47V323.36M298.56 316.47h2.4M298.56 323.36h2.4M301.42 317.04V323.94M300.22 317.04h2.4M300.22 323.94h2.4M303.08 317.68V324.33M301.88 317.68h2.4M301.88 324.33h2.4M304.74 318.26V324.65M303.54 318.26h2.4M303.54 324.65h2.4M306.4 318.8V324.95M305.2 318.8h2.4M305.2 324.95h2.4M308.06 319.32V325.23M306.86 319.32h2.4M306.86 325.23h2.4M309.72 319.79V325.49M308.52 319.79h2.4M308.52 325.49h2.4M311.38 320.21V325.72M310.18 320.21h2.4M310.18 325.72h2.4M313.04 320.58V325.92M311.84 320.58h2.4M311.84 325.92h2.4M314.7 320.88V326.09M313.5 320.88h2.4M313.5 326.09h2.4M316.36 321.17V326.24M315.16 321.17h2.4M315.16 326.24h2.4M318.02 321.42V326.38M316.82 321.42h2.4M316.82 326.38h2.4M319.68 321.65V326.5M318.48 321.65h2.4M318.48 326.5h2.4M321.34 321.83V326.5M320.14 321.83h2.4M320.14 326.5h2.4M323 321.98V326.5M321.8 321.98h2.4M321.8 326.5h2.4M324.66 322.09V326.5M323.46 322.09h2.4M323.46 326.5h2.4M326.32 322.2V326.5M325.12 322.2h2.4M325.12 326.5h2.4M327.98 322.3V326.5M326.78 322.3h2.4M326.78 326.5h2.4M329.64 322.4V326.5M328.44 322.4h2.4M328.44 326.5h2.4M331.3 322.48V326.5M330.1 322.48h2.4M330.1 326.5h2.4M332.96 322.56V326.5M331.76 322.56h2.4M331.76 326.5h2.4M334.62 322.62V326.5M333.42 322.62h2.4M333.42 326.5h2.4M336.28 322.67V326.5M335.08 322.67h2.4M335.08 326.5h2.4M337.94 322.71V326.5M336.74 322.71h2.4M336.74 326.5h2.4M339.6 322.74V326.5M338.4 322.74h2.4M338.4 326.5h2.4M341.26 322.76V326.5M340.06 322.76h2.4M340.06 326.5h2.4M342.92 322.78V326.5M341.72 322.78h2.4M341.72 326.5h2.4M344.58 322.8V326.5M343.38 322.8h2.4M343.38 326.5h2.4M346.24 322.82V326.5M345.04 322.82h2.4M345.04 326.5h2.4M347.9 322.83V326.5M346.7 322.83h2.4M346.7 326.5h2.4M349.56 322.84V326.5M348.36 322.84h2.4M348.36 326.5h2.4M351.22 322.85V326.5M350.02 322.85h2.4M350.02 326.5h2.4M352.88 322.86V326.5M351.68 322.86h2.4M351.68 326.5h2.4M354.54 322.87V326.5M353.34 322.87h2.4M353.34 326.5h2.4M356.2 322.87V326.5M355 322.87h2.4M355 326.5h2.4" fill="none" stroke="#164e86" stroke-width="0.7"/>
<polyline points="256.6,326.5 257.43,326.5 258.26,314.68 259.09,301.88 259.92,289.07 260.75,277.25 261.58,265.43 262.41,257.9 262.58,257.55 262.99,257.96 263.41,259 263.82,261.23 264.24,266.69 264.65,272.71 264.9,275.28 265.73,280.84 266.56,285.15 267.39,288.49 268.22,291.06 269.05,293.06 269.88,294.98 270.71,297.09 271.54,299.16 272.37,300.89 273.2,302.26 274.03,303.45 274.86,304.48 275.69,305.37 276.52,306.17 277.35,306.9 278.18,307.56 279.01,308.18 279.84,308.77 280.67,309.32 281.5,309.83 282.33,310.31 283.16,310.78 283.99,311.24 284.82,311.73 285.65,312.22 286.48,312.71 287.31,313.2 288.14,313.69 288.97,314.18 289.8,314.68 291.46,315.73 293.12,316.78 294.78,317.71 296.44,318.53 298.1,319.27 299.76,319.92 301.42,320.49 303.08,321 304.74,321.45 306.4,321.88 308.06,322.27 309.72,322.64 311.38,322.97 313.04,323.25 314.7,323.49 316.36,323.7 318.02,323.9 319.68,324.08 321.34,324.22 323,324.33 324.66,324.42 326.32,324.51 327.98,324.59 329.64,324.66 331.3,324.72 332.96,324.78 334.62,324.83 336.28,324.87 337.94,324.9 339.6,324.92 341.26,324.94 342.92,324.96 344.58,324.97 346.24,324.98 347.9,324.99 349.56,325 351.22,325.01 352.88,325.02 354.54,325.02 356.2,325.02" fill="none" stroke="#164e86" stroke-width="1.2"/>
<polygon points="262.58,258.15 262.99,258.79 263.41,260.35 263.82,263.17 264.24,269.22 264.65,275.86 264.9,278.84 265.73,285.93 266.56,291.7 267.39,295.93 268.22,298.71 269.05,300.78 269.88,302.48 270.71,303.99 271.54,305.31 272.37,306.42 273.2,307.37 274.03,308.21 274.86,308.96 275.69,309.63 276.52,310.24 277.35,310.79 278.18,311.31 279.01,311.82 279.84,312.33 280.67,312.85 281.5,313.36 282.33,313.86 283.16,314.35 283.99,314.83 284.82,315.28 285.65,315.72 286.48,316.14 287.31,316.55 288.14,316.95 288.97,317.35 289.8,317.75 291.46,318.66 293.12,319.68 294.78,320.51 296.44,321.17 298.1,321.73 299.76,322.22 301.42,322.67 303.08,323.05 304.74,323.33 306.4,323.55 308.06,323.74 309.72,323.91 311.38,324.05 313.04,324.18 314.7,324.3 316.36,324.41 318.02,324.51 319.68,324.61 321.34,324.68 323,324.73 324.66,324.76 326.32,324.79 327.98,324.83 329.64,324.86 331.3,324.88 332.96,324.91 334.62,324.94 336.28,324.96 337.94,324.98 339.6,325 341.26,325.02 342.92,325.04 344.58,325.05 346.24,325.06 347.9,325.07 349.56,325.08 351.22,325.09 352.88,325.1 354.54,325.1 356.2,325.1 356.2,325.7 354.54,325.7 352.88,325.7 351.22,325.7 349.56,325.7 347.9,325.7 346.24,325.7 344.58,325.7 342.92,325.7 341.26,325.7 339.6,325.7 337.94,325.7 336.28,325.7 334.62,325.7 332.96,325.7 331.3,325.7 329.64,325.7 327.98,325.7 326.32,325.7 324.66,325.7 323,325.7 321.34,325.7 319.68,325.7 318.02,325.7 316.36,325.7 314.7,325.7 313.04,325.7 311.38,325.7 309.72,325.7 308.06,325.7 306.4,325.7 304.74,325.7 303.08,325.7 301.42,325.51 299.76,325.25 298.1,324.96 296.44,324.64 294.78,324.25 293.12,323.77 291.46,323.19 289.8,322.45 288.97,322.05 288.14,321.66 287.31,321.26 286.48,320.85 285.65,320.43 284.82,319.99 283.99,319.53 283.16,319.05 282.33,318.56 281.5,318.06 280.67,317.55 279.84,317.03 279.01,316.52 278.18,316.02 277.35,315.49 276.52,314.94 275.69,314.34 274.86,313.67 274.03,312.92 273.2,312.08 272.37,311.12 271.54,310.01 270.71,308.7 269.88,307.18 269.05,305.48 268.22,303.41 267.39,300.63 266.56,296.4 265.73,290.63 264.9,283.54 264.65,280.57 264.24,273.92 263.82,267.87 263.41,265.05 262.99,263.49 262.58,262.86" fill="#3cb44b" fill-opacity="0.8" stroke="none" stroke-width="0"/>
<path d="M256.6 323.35V326.5M254.6 323.35h4M254.6 326.5h4M257.43 322.4V326.5M255.43 322.4h4M255.43 326.5h4M258.26 312.51V318.82M256.26 312.51h4M256.26 318.82h4M259.09 299.75V307.94M257.09 299.75h4M257.09 307.94h4M259.92 287.89V294.19M257.92 287.89h4M257.92 294.19h4M260.75 275.12V283.32M258.75 275.12h4M258.75 283.32h4M261.58 265.23V271.54M259.58 265.23h4M259.58 271.54h4M262.41 256.76V264.96M260.41 256.76h4M260.41 264.96h4M262.58 257.35V263.66M260.58 257.35h4M260.58 263.66h4M262.99 257.99V264.29M260.99 257.99h4M260.99 264.29h4M263.41 259.55V265.85M261.41 259.55h4M261.41 265.85h4M263.82 262.37V268.67M261.82 262.37h4M261.82 268.67h4M264.24 268.42V274.72M262.24 268.42h4M262.24 274.72h4M264.65 275.06V281.37M262.65 275.06h4M262.65 281.37h4M264.9 278.04V284.34M263.7 278.04h2.4M263.7 284.34h2.4M265.73 285.13V291.43M264.53 285.13h2.4M264.53 291.43h2.4M266.56 290.9V297.2M265.36 290.9h2.4M265.36 297.2h2.4M267.39 295.13V301.43M266.19 295.13h2.4M266.19 301.43h2.4M268.22 297.91V304.21M267.02 297.91h2.4M267.02 304.21h2.4M269.05 299.98V306.28M267.85 299.98h2.4M267.85 306.28h2.4M269.88 301.68V307.98M268.68 301.68h2.4M268.68 307.98h2.4M270.71 303.19V309.5M269.51 303.19h2.4M269.51 309.5h2.4M271.54 304.51V310.81M270.34 304.51h2.4M270.34 310.81h2.4M272.37 305.62V311.92M271.17 305.62h2.4M271.17 311.92h2.4M273.2 306.57V312.88M272 306.57h2.4M272 312.88h2.4M274.03 307.41V313.72M272.83 307.41h2.4M272.83 313.72h2.4M274.86 308.16V314.47M273.66 308.16h2.4M273.66 314.47h2.4M275.69 308.83V315.14M274.49 308.83h2.4M274.49 315.14h2.4M276.52 309.44V315.74M275.32 309.44h2.4M275.32 315.74h2.4M277.35 309.99V316.29M276.15 309.99h2.4M276.15 316.29h2.4M278.18 310.51V316.82M276.98 310.51h2.4M276.98 316.82h2.4M279.01 311.02V317.32M277.81 311.02h2.4M277.81 317.32h2.4M279.84 311.53V317.83M278.64 311.53h2.4M278.64 317.83h2.4M280.67 312.05V318.35M279.47 312.05h2.4M279.47 318.35h2.4M281.5 312.56V318.86M280.3 312.56h2.4M280.3 318.86h2.4M282.33 313.06V319.36M281.13 313.06h2.4M281.13 319.36h2.4M283.16 313.55V319.85M281.96 313.55h2.4M281.96 319.85h2.4M283.99 314.03V320.33M282.79 314.03h2.4M282.79 320.33h2.4M284.82 314.48V320.79M283.62 314.48h2.4M283.62 320.79h2.4M285.65 314.92V321.23M284.45 314.92h2.4M284.45 321.23h2.4M286.48 315.34V321.65M285.28 315.34h2.4M285.28 321.65h2.4M287.31 315.75V322.06M286.11 315.75h2.4M286.11 322.06h2.4M288.14 316.15V322.46M286.94 316.15h2.4M286.94 322.46h2.4M288.97 316.55V322.85M287.77 316.55h2.4M287.77 322.85h2.4M289.8 316.95V323.25M288.6 316.95h2.4M288.6 323.25h2.4M291.46 317.86V323.99M290.26 317.86h2.4M290.26 323.99h2.4M293.12 318.88V324.57M291.92 318.88h2.4M291.92 324.57h2.4M294.78 319.71V325.05M293.58 319.71h2.4M293.58 325.05h2.4M296.44 320.37V325.44M295.24 320.37h2.4M295.24 325.44h2.4M298.1 320.93V325.76M296.9 320.93h2.4M296.9 325.76h2.4M299.76 321.42V326.05M298.56 321.42h2.4M298.56 326.05h2.4M301.42 321.87V326.31M300.22 321.87h2.4M300.22 326.31h2.4M303.08 322.25V326.5M301.88 322.25h2.4M301.88 326.5h2.4M304.74 322.53V326.5M303.54 322.53h2.4M303.54 326.5h2.4M306.4 322.75V326.5M305.2 322.75h2.4M305.2 326.5h2.4M308.06 322.94V326.5M306.86 322.94h2.4M306.86 326.5h2.4M309.72 323.11V326.5M308.52 323.11h2.4M308.52 326.5h2.4M311.38 323.25V326.5M310.18 323.25h2.4M310.18 326.5h2.4M313.04 323.38V326.5M311.84 323.38h2.4M311.84 326.5h2.4M314.7 323.5V326.5M313.5 323.5h2.4M313.5 326.5h2.4M316.36 323.61V326.5M315.16 323.61h2.4M315.16 326.5h2.4M318.02 323.71V326.5M316.82 323.71h2.4M316.82 326.5h2.4M319.68 323.81V326.5M318.48 323.81h2.4M318.48 326.5h2.4M321.34 323.88V326.5M320.14 323.88h2.4M320.14 326.5h2.4M323 323.93V326.5M321.8 323.93h2.4M321.8 326.5h2.4M324.66 323.96V326.5M323.46 323.96h2.4M323.46 326.5h2.4M326.32 323.99V326.5M325.12 323.99h2.4M325.12 326.5h2.4M327.98 324.03V326.5M326.78 324.03h2.4M326.78 326.5h2.4M329.64 324.06V326.5M328.44 324.06h2.4M328.44 326.5h2.4M331.3 324.08V326.5M330.1 324.08h2.4M330.1 326.5h2.4M332.96 324.11V326.5M331.76 324.11h2.4M331.76 326.5h2.4M334.62 324.14V326.5M333.42 324.14h2.4M333.42 326.5h2.4M336.28 324.16V326.5M335.08 324.16h2.4M335.08 326.5h2.4M337.94 324.18V326.5M336.74 324.18h2.4M336.74 326.5h2.4M339.6 324.2V326.5M338.4 324.2h2.4M338.4 326.5h2.4M341.26 324.22V326.5M340.06 324.22h2.4M340.06 326.5h2.4M342.92 324.24V326.5M341.72 324.24h2.4M341.72 326.5h2.4M344.58 324.25V326.5M343.38 324.25h2.4M343.38 326.5h2.4M346.24 324.26V326.5M345.04 324.26h2.4M345.04 326.5h2.4M347.9 324.27V326.5M346.7 324.27h2.4M346.7 326.5h2.4M349.56 324.28V326.5M348.36 324.28h2.4M348.36 326.5h2.4M351.22 324.29V326.5M350.02 324.29h2.4M350.02 326.5h2.4M352.88 324.3V326.5M351.68 324.3h2.4M351.68 326.5h2.4M354.54 324.3V326.5M353.34 324.3h2.4M353.34 326.5h2.4M356.2 324.3V326.5M355 324.3h2.4M355 326.5h2.4" fill="none" stroke="#3cb44b" stroke-width="0.7"/>
<polyline points="256.6,326.5 257.43,326.5 258.26,315.67 259.09,303.85 259.92,291.04 260.75,279.22 261.58,268.38 262.41,260.86 262.58,260.5 262.99,261.14 263.41,262.7 263.82,265.52 264.24,271.57 264.65,278.21 264.9,281.19 265.73,288.28 266.56,294.05 267.39,298.28 268.22,301.06 269.05,303.13 269.88,304.83 270.71,306.35 271.54,307.66 272.37,308.77 273.2,309.72 274.03,310.57 274.86,311.31 275.69,311.99 276.52,312.59 277.35,313.14 278.18,313.66 279.01,314.17 279.84,314.68 280.67,315.2 281.5,315.71 282.33,316.21 283.16,316.7 283.99,317.18 284.82,317.63 285.65,318.07 286.48,318.49 287.31,318.9 288.14,319.3 288.97,319.7 289.8,320.1 291.46,320.92 293.12,321.73 294.78,322.38 296.44,322.9 298.1,323.35 299.76,323.73 301.42,324.09 303.08,324.39 304.74,324.61 306.4,324.78 308.06,324.93 309.72,325.06 311.38,325.18 313.04,325.28 314.7,325.37 316.36,325.46 318.02,325.54 319.68,325.62 321.34,325.67 323,325.71 324.66,325.74 326.32,325.77 327.98,325.79 329.64,325.81 331.3,325.84 332.96,325.86 334.62,325.88 336.28,325.9 337.94,325.91 339.6,325.93 341.26,325.94 342.92,325.96 344.58,325.97 346.24,325.98 347.9,325.99 349.56,325.99 351.22,326 352.88,326 354.54,326.01 356.2,326.01" fill="none" stroke="#3cb44b" stroke-width="1.2"/>
<polygon points="262.58,254.21 262.99,254.85 263.41,256.41 263.82,259.2 264.24,265.16 264.65,271.8 264.9,274.9 265.73,282.39 266.56,287.52 267.39,290.61 268.22,293.21 269.05,295.52 269.88,297.55 270.71,299.39 271.54,301.04 272.37,302.48 273.2,303.73 274.03,304.86 274.86,305.87 275.69,306.77 276.52,307.6 277.35,308.37 278.18,309.08 279.01,309.74 279.84,310.36 280.67,310.92 281.5,311.45 282.33,311.94 283.16,312.41 283.99,312.87 284.82,313.31 285.65,313.75 286.48,314.17 287.31,314.57 288.14,314.97 288.97,315.37 289.8,315.78 291.46,316.61 293.12,317.44 294.78,318.18 296.44,319.02 298.1,319.78 299.76,320.42 301.42,320.99 303.08,321.49 304.74,321.88 306.4,322.23 308.06,322.54 309.72,322.82 311.38,323.07 313.04,323.28 314.7,323.46 316.36,323.63 318.02,323.78 319.68,323.92 321.34,324.02 323,324.1 324.66,324.16 326.32,324.21 327.98,324.25 329.64,324.29 331.3,324.33 332.96,324.36 334.62,324.39 336.28,324.42 337.94,324.45 339.6,324.48 341.26,324.51 342.92,324.53 344.58,324.56 346.24,324.59 347.9,324.62 349.56,324.64 351.22,324.66 352.88,324.69 354.54,324.71 356.2,324.73 356.2,325.7 354.54,325.7 352.88,325.7 351.22,325.7 349.56,325.7 347.9,325.7 346.24,325.7 344.58,325.7 342.92,325.7 341.26,325.7 339.6,325.7 337.94,325.7 336.28,325.7 334.62,325.7 332.96,325.7 331.3,325.7 329.64,325.7 327.98,325.7 326.32,325.7 324.66,325.7 323,325.7 321.34,325.7 319.68,325.7 318.02,325.7 316.36,325.7 314.7,325.7 313.04,325.7 311.38,325.7 309.72,325.59 308.06,325.43 306.4,325.25 304.74,325.05 303.08,324.82 301.42,324.54 299.76,324.2 298.1,323.83 296.44,323.39 294.78,322.88 293.12,322.14 291.46,321.32 289.8,320.48 288.97,320.08 288.14,319.68 287.31,319.28 286.48,318.87 285.65,318.45 284.82,318.02 283.99,317.57 283.16,317.12 282.33,316.65 281.5,316.15 280.67,315.63 279.84,315.06 279.01,314.45 278.18,313.79 277.35,313.07 276.52,312.3 275.69,311.47 274.86,310.57 274.03,309.56 273.2,308.44 272.37,307.18 271.54,305.74 270.71,304.09 269.88,302.26 269.05,300.22 268.22,297.91 267.39,295.31 266.56,292.22 265.73,287.09 264.9,279.6 264.65,276.5 264.24,269.86 263.82,263.9 263.41,261.11 262.99,259.55 262.58,258.92" fill="#c8102e" fill-opacity="0.8" stroke="none" stroke-width="0"/>
<path d="M256.6 323.35V326.5M254.6 323.35h4M254.6 326.5h4M257.43 322.4V326.5M255.43 322.4h4M255.43 326.5h4M258.26 311.53V317.83M256.26 311.53h4M256.26 317.83h4M259.09 297.78V305.97M257.09 297.78h4M257.09 305.97h4M259.92 285.92V292.22M257.92 285.92h4M257.92 292.22h4M260.75 273.15V281.35M258.75 273.15h4M258.75 281.35h4M261.58 262.28V268.58M259.58 262.28h4M259.58 268.58h4M262.41 252.87V261.06M260.41 252.87h4M260.41 261.06h4M262.58 253.41V259.72M260.58 253.41h4M260.58 259.72h4M262.99 254.05V260.35M260.99 254.05h4M260.99 260.35h4M263.41 255.61V261.91M261.41 255.61h4M261.41 261.91h4M263.82 258.4V264.7M261.82 258.4h4M261.82 264.7h4M264.24 264.36V270.66M262.24 264.36h4M262.24 270.66h4M264.65 271V277.3M262.65 271h4M262.65 277.3h4M264.9 274.1V280.4M263.7 274.1h2.4M263.7 280.4h2.4M265.73 281.59V287.89M264.53 281.59h2.4M264.53 287.89h2.4M266.56 286.72V293.02M265.36 286.72h2.4M265.36 293.02h2.4M267.39 289.81V296.11M266.19 289.81h2.4M266.19 296.11h2.4M268.22 292.41V298.71M267.02 292.41h2.4M267.02 298.71h2.4M269.05 294.72V301.02M267.85 294.72h2.4M267.85 301.02h2.4M269.88 296.75V303.06M268.68 296.75h2.4M268.68 303.06h2.4M270.71 298.59V304.89M269.51 298.59h2.4M269.51 304.89h2.4M271.54 300.24V306.54M270.34 300.24h2.4M270.34 306.54h2.4M272.37 301.68V307.98M271.17 301.68h2.4M271.17 307.98h2.4M273.2 302.93V309.24M272 302.93h2.4M272 309.24h2.4M274.03 304.06V310.36M272.83 304.06h2.4M272.83 310.36h2.4M274.86 305.07V311.37M273.66 305.07h2.4M273.66 311.37h2.4M275.69 305.97V312.27M274.49 305.97h2.4M274.49 312.27h2.4M276.52 306.8V313.1M275.32 306.8h2.4M275.32 313.1h2.4M277.35 307.57V313.87M276.15 307.57h2.4M276.15 313.87h2.4M278.18 308.28V314.59M276.98 308.28h2.4M276.98 314.59h2.4M279.01 308.94V315.25M277.81 308.94h2.4M277.81 315.25h2.4M279.84 309.56V315.86M278.64 309.56h2.4M278.64 315.86h2.4M280.67 310.12V316.43M279.47 310.12h2.4M279.47 316.43h2.4M281.5 310.65V316.95M280.3 310.65h2.4M280.3 316.95h2.4M282.33 311.14V317.45M281.13 311.14h2.4M281.13 317.45h2.4M283.16 311.61V317.92M281.96 311.61h2.4M281.96 317.92h2.4M283.99 312.07V318.37M282.79 312.07h2.4M282.79 318.37h2.4M284.82 312.51V318.82M283.62 312.51h2.4M283.62 318.82h2.4M285.65 312.95V319.25M284.45 312.95h2.4M284.45 319.25h2.4M286.48 313.37V319.67M285.28 313.37h2.4M285.28 319.67h2.4M287.31 313.77V320.08M286.11 313.77h2.4M286.11 320.08h2.4M288.14 314.17V320.48M286.94 314.17h2.4M286.94 320.48h2.4M288.97 314.57V320.88M287.77 314.57h2.4M287.77 320.88h2.4M289.8 314.98V321.28M288.6 314.98h2.4M288.6 321.28h2.4M291.46 315.81V322.12M290.26 315.81h2.4M290.26 322.12h2.4M293.12 316.64V322.94M291.92 316.64h2.4M291.92 322.94h2.4M294.78 317.38V323.68M293.58 317.38h2.4M293.58 323.68h2.4M296.44 318.22V324.19M295.24 318.22h2.4M295.24 324.19h2.4M298.1 318.98V324.63M296.9 318.98h2.4M296.9 324.63h2.4M299.76 319.62V325M298.56 319.62h2.4M298.56 325h2.4M301.42 320.19V325.34M300.22 320.19h2.4M300.22 325.34h2.4M303.08 320.69V325.62M301.88 320.69h2.4M301.88 325.62h2.4M304.74 321.08V325.85M303.54 321.08h2.4M303.54 325.85h2.4M306.4 321.43V326.05M305.2 321.43h2.4M305.2 326.05h2.4M308.06 321.74V326.23M306.86 321.74h2.4M306.86 326.23h2.4M309.72 322.02V326.39M308.52 322.02h2.4M308.52 326.39h2.4M311.38 322.27V326.5M310.18 322.27h2.4M310.18 326.5h2.4M313.04 322.48V326.5M311.84 322.48h2.4M311.84 326.5h2.4M314.7 322.66V326.5M313.5 322.66h2.4M313.5 326.5h2.4M316.36 322.83V326.5M315.16 322.83h2.4M315.16 326.5h2.4M318.02 322.98V326.5M316.82 322.98h2.4M316.82 326.5h2.4M319.68 323.12V326.5M318.48 323.12h2.4M318.48 326.5h2.4M321.34 323.22V326.5M320.14 323.22h2.4M320.14 326.5h2.4M323 323.3V326.5M321.8 323.3h2.4M321.8 326.5h2.4M324.66 323.36V326.5M323.46 323.36h2.4M323.46 326.5h2.4M326.32 323.41V326.5M325.12 323.41h2.4M325.12 326.5h2.4M327.98 323.45V326.5M326.78 323.45h2.4M326.78 326.5h2.4M329.64 323.49V326.5M328.44 323.49h2.4M328.44 326.5h2.4M331.3 323.53V326.5M330.1 323.53h2.4M330.1 326.5h2.4M332.96 323.56V326.5M331.76 323.56h2.4M331.76 326.5h2.4M334.62 323.59V326.5M333.42 323.59h2.4M333.42 326.5h2.4M336.28 323.62V326.5M335.08 323.62h2.4M335.08 326.5h2.4M337.94 323.65V326.5M336.74 323.65h2.4M336.74 326.5h2.4M339.6 323.68V326.5M338.4 323.68h2.4M338.4 326.5h2.4M341.26 323.71V326.5M340.06 323.71h2.4M340.06 326.5h2.4M342.92 323.73V326.5M341.72 323.73h2.4M341.72 326.5h2.4M344.58 323.76V326.5M343.38 323.76h2.4M343.38 326.5h2.4M346.24 323.79V326.5M345.04 323.79h2.4M345.04 326.5h2.4M347.9 323.82V326.5M346.7 323.82h2.4M346.7 326.5h2.4M349.56 323.84V326.5M348.36 323.84h2.4M348.36 326.5h2.4M351.22 323.86V326.5M350.02 323.86h2.4M350.02 326.5h2.4M352.88 323.89V326.5M351.68 323.89h2.4M351.68 326.5h2.4M354.54 323.91V326.5M353.34 323.91h2.4M353.34 326.5h2.4M356.2 323.93V326.5M355 323.93h2.4M355 326.5h2.4" fill="none" stroke="#c8102e" stroke-width="0.7"/>
<polyline points="256.6,326.5 257.43,326.5 258.26,314.68 259.09,301.88 259.92,289.07 260.75,277.25 261.58,265.43 262.41,256.97 262.58,256.56 262.99,257.2 263.41,258.76 263.82,261.55 264.24,267.51 264.65,274.15 264.9,277.25 265.73,284.74 266.56,289.87 267.39,292.96 268.22,295.56 269.05,297.87 269.88,299.9 270.71,301.74 271.54,303.39 272.37,304.83 273.2,306.08 274.03,307.21 274.86,308.22 275.69,309.12 276.52,309.95 277.35,310.72 278.18,311.43 279.01,312.1 279.84,312.71 280.67,313.28 281.5,313.8 282.33,314.29 283.16,314.76 283.99,315.22 284.82,315.67 285.65,316.1 286.48,316.52 287.31,316.93 288.14,317.33 288.97,317.72 289.8,318.13 291.46,318.96 293.12,319.79 294.78,320.53 296.44,321.2 298.1,321.8 299.76,322.31 301.42,322.76 303.08,323.15 304.74,323.46 306.4,323.74 308.06,323.99 309.72,324.21 311.38,324.4 313.04,324.57 314.7,324.71 316.36,324.85 318.02,324.97 319.68,325.07 321.34,325.16 323,325.22 324.66,325.27 326.32,325.31 327.98,325.34 329.64,325.37 331.3,325.4 332.96,325.42 334.62,325.45 336.28,325.47 337.94,325.49 339.6,325.51 341.26,325.54 342.92,325.56 344.58,325.58 346.24,325.6 347.9,325.62 349.56,325.64 351.22,325.66 352.88,325.68 354.54,325.7 356.2,325.71" fill="none" stroke="#c8102e" stroke-width="1.2"/>
<line x1="339.5" y1="320.39" x2="339.5" y2="326.01" stroke="#164e86" stroke-width="0.8"/>
<line x1="337.6" y1="320.5" x2="341.6" y2="320.5" stroke="#164e86" stroke-width="0.8"/>
<line x1="347.5" y1="319.41" x2="347.5" y2="326.01" stroke="#3cb44b" stroke-width="0.8"/>
<line x1="345.9" y1="319.5" x2="349.9" y2="319.5" stroke="#3cb44b" stroke-width="0.8"/>
<line x1="351.5" y1="322.07" x2="351.5" y2="326.01" stroke="#164e86" stroke-width="0.8"/>
<line x1="349.22" y1="322.5" x2="353.22" y2="322.5" stroke="#164e86" stroke-width="0.8"/>
<line x1="301.6" y1="243.5" x2="311.8" y2="243.5" stroke="#c8102e" stroke-width="1.9"/>
<text transform="translate(315.4,246.4) scale(0.9,1)" font-size="8.6" text-anchor="start" fill="#231f20" font-style="italic">Fga<tspan dy="-3.3" font-size="5.8">WT/WT</tspan></text>
<line x1="301.6" y1="256.5" x2="311.8" y2="256.5" stroke="#3cb44b" stroke-width="1.9"/>
<text transform="translate(315.4,259.7) scale(0.9,1)" font-size="8.6" text-anchor="start" fill="#231f20" font-style="italic">Fga<tspan dy="-3.3" font-size="5.8">WT/270</tspan></text>
<line x1="301.6" y1="270.5" x2="311.8" y2="270.5" stroke="#164e86" stroke-width="1.9"/>
<text transform="translate(315.4,274.1) scale(0.9,1)" font-size="8.6" text-anchor="start" fill="#231f20" font-style="italic">Fga<tspan dy="-3.3" font-size="5.8">270/270</tspan></text>
<text transform="translate(386.8,224.3)" font-size="11.8" text-anchor="start" fill="#231f20" font-weight="bold">F</text>
<line x1="417.5" y1="232" x2="417.5" y2="326.75" stroke="#231f20" stroke-width="1.1"/>
<line x1="414" y1="235.5" x2="417" y2="235.5" stroke="#231f20" stroke-width="1"/>
<text transform="translate(411,238.19) scale(0.9,1)" font-size="8.7" text-anchor="end" fill="#231f20">2.0</text>
<line x1="414" y1="258.5" x2="417" y2="258.5" stroke="#231f20" stroke-width="1"/>
<text transform="translate(411,260.94) scale(0.9,1)" font-size="8.7" text-anchor="end" fill="#231f20">1.5</text>
<line x1="414" y1="281.5" x2="417" y2="281.5" stroke="#231f20" stroke-width="1"/>
<text transform="translate(411,283.69) scale(0.9,1)" font-size="8.7" text-anchor="end" fill="#231f20">1.0</text>
<line x1="414" y1="304.5" x2="417" y2="304.5" stroke="#231f20" stroke-width="1"/>
<text transform="translate(411,306.44) scale(0.9,1)" font-size="8.7" text-anchor="end" fill="#231f20">0.5</text>
<line x1="414" y1="326.5" x2="417" y2="326.5" stroke="#231f20" stroke-width="1"/>
<text transform="translate(411,329.19) scale(0.9,1)" font-size="8.7" text-anchor="end" fill="#231f20">0.0</text>
<line x1="417" y1="326.5" x2="477" y2="326.5" stroke="#231f20" stroke-width="1.1"/>
<rect x="423.4" y="258.5" width="11.2" height="68.25" fill="#c8102e" stroke="#a50d26" stroke-width="0.6"/>
<line x1="429.5" y1="326.75" x2="429.5" y2="329.8" stroke="#231f20" stroke-width="1"/>
<rect x="441.8" y="258.5" width="11.2" height="68.25" fill="#3cb44b" stroke="#2e9a3d" stroke-width="0.6"/>
<line x1="447.5" y1="326.75" x2="447.5" y2="329.8" stroke="#231f20" stroke-width="1"/>
<rect x="460.15" y="258.5" width="11.2" height="68.25" fill="#164e86" stroke="#0f3b68" stroke-width="0.6"/>
<line x1="465.5" y1="326.75" x2="465.5" y2="329.8" stroke="#231f20" stroke-width="1"/>
<line x1="426.25" y1="250.5" x2="468.75" y2="250.5" stroke="#666" stroke-width="1"/>
<text transform="translate(447,248.5) scale(0.95,1)" font-size="8.3" text-anchor="middle" fill="#231f20">ns</text>
<text transform="translate(394.9,279.15) rotate(-90)" font-size="9.5" text-anchor="middle" fill="#231f20" textLength="48.6" lengthAdjust="spacingAndGlyphs">Lag time (min)</text>
<text transform="translate(436.6,338.75) rotate(-45) scale(0.86,1)" font-size="8.8" text-anchor="end" fill="#231f20">Fga<tspan dy="-4.2" dx="0.2" font-size="6.9" stroke-width="0.2">WT/WT</tspan></text>
<text transform="translate(455,338.75) rotate(-45) scale(0.86,1)" font-size="8.8" text-anchor="end" fill="#231f20">Fga<tspan dy="-4.2" dx="0.2" font-size="6.9" stroke-width="0.2">WT/270</tspan></text>
<text transform="translate(473.35,338.75) rotate(-45) scale(0.86,1)" font-size="8.8" text-anchor="end" fill="#231f20">Fga<tspan dy="-4.2" dx="0.2" font-size="6.9" stroke-width="0.2">270/270</tspan></text>
<text transform="translate(6.9,380.2)" font-size="11.8" text-anchor="start" fill="#231f20" font-weight="bold">G</text>
<line x1="38.5" y1="384.5" x2="38.5" y2="479.5" stroke="#231f20" stroke-width="1.1"/>
<line x1="35.75" y1="388.5" x2="38.75" y2="388.5" stroke="#231f20" stroke-width="1"/>
<text transform="translate(32.75,390.69) scale(0.9,1)" font-size="8.7" text-anchor="end" fill="#231f20">5</text>
<line x1="35.75" y1="406.5" x2="38.75" y2="406.5" stroke="#231f20" stroke-width="1"/>
<text transform="translate(32.75,408.94) scale(0.9,1)" font-size="8.7" text-anchor="end" fill="#231f20">4</text>
<line x1="35.75" y1="424.5" x2="38.75" y2="424.5" stroke="#231f20" stroke-width="1"/>
<text transform="translate(32.75,427.19) scale(0.9,1)" font-size="8.7" text-anchor="end" fill="#231f20">3</text>
<line x1="35.75" y1="443.5" x2="38.75" y2="443.5" stroke="#231f20" stroke-width="1"/>
<text transform="translate(32.75,445.44) scale(0.9,1)" font-size="8.7" text-anchor="end" fill="#231f20">2</text>
<line x1="35.75" y1="461.5" x2="38.75" y2="461.5" stroke="#231f20" stroke-width="1"/>
<text transform="translate(32.75,463.69) scale(0.9,1)" font-size="8.7" text-anchor="end" fill="#231f20">1</text>
<line x1="35.75" y1="479.5" x2="38.75" y2="479.5" stroke="#231f20" stroke-width="1"/>
<text transform="translate(32.75,481.94) scale(0.9,1)" font-size="8.7" text-anchor="end" fill="#231f20">0</text>
<line x1="38.75" y1="479.5" x2="98.75" y2="479.5" stroke="#231f20" stroke-width="1.1"/>
<line x1="50.5" y1="410.15" x2="50.5" y2="407.05" stroke="#333" stroke-width="1"/>
<line x1="48" y1="407.5" x2="53.2" y2="407.5" stroke="#333" stroke-width="1"/>
<rect x="45.15" y="410.45" width="10.9" height="69.05" fill="#c8102e" stroke="#a50d26" stroke-width="0.6"/>
<line x1="50.5" y1="479.5" x2="50.5" y2="482.5" stroke="#231f20" stroke-width="1"/>
<line x1="68.5" y1="413.25" x2="68.5" y2="409.42" stroke="#333" stroke-width="1"/>
<line x1="66.15" y1="409.5" x2="71.35" y2="409.5" stroke="#333" stroke-width="1"/>
<rect x="63.3" y="413.55" width="10.9" height="65.95" fill="#3cb44b" stroke="#2e9a3d" stroke-width="0.6"/>
<line x1="68.5" y1="479.5" x2="68.5" y2="482.5" stroke="#231f20" stroke-width="1"/>
<line x1="86.5" y1="409.6" x2="86.5" y2="407.41" stroke="#333" stroke-width="1"/>
<line x1="84.3" y1="407.5" x2="89.5" y2="407.5" stroke="#333" stroke-width="1"/>
<rect x="81.45" y="409.9" width="10.9" height="69.6" fill="#164e86" stroke="#0f3b68" stroke-width="0.6"/>
<line x1="86.5" y1="479.5" x2="86.5" y2="482.5" stroke="#231f20" stroke-width="1"/>
<text transform="translate(58.2,491.5) rotate(-45) scale(0.86,1)" font-size="8.8" text-anchor="end" fill="#231f20">Fga<tspan dy="-4.2" dx="0.2" font-size="6.9" stroke-width="0.2">WT/WT</tspan></text>
<text transform="translate(76.35,491.5) rotate(-45) scale(0.86,1)" font-size="8.8" text-anchor="end" fill="#231f20">Fga<tspan dy="-4.2" dx="0.2" font-size="6.9" stroke-width="0.2">WT/270</tspan></text>
<text transform="translate(94.5,491.5) rotate(-45) scale(0.86,1)" font-size="8.8" text-anchor="end" fill="#231f20">Fga<tspan dy="-4.2" dx="0.2" font-size="6.9" stroke-width="0.2">270/270</tspan></text>
<line x1="50" y1="397.5" x2="87" y2="397.5" stroke="#666" stroke-width="1"/>
<text transform="translate(68,395.5) scale(0.95,1)" font-size="8.3" text-anchor="middle" fill="#231f20">ns</text>
<text transform="translate(21.7,431.8) rotate(-90)" font-size="9.5" text-anchor="middle" fill="#231f20" textLength="62.5" lengthAdjust="spacingAndGlyphs">Time to peak (min)</text>
<text transform="translate(125.7,380.2)" font-size="11.8" text-anchor="start" fill="#231f20" font-weight="bold">H</text>
<line x1="154.5" y1="385" x2="154.5" y2="479.5" stroke="#231f20" stroke-width="1.1"/>
<line x1="151.25" y1="388.5" x2="154.25" y2="388.5" stroke="#231f20" stroke-width="1"/>
<text transform="translate(148.25,391.18) scale(0.9,1)" font-size="8.7" text-anchor="end" fill="#231f20">80</text>
<line x1="151.25" y1="411.5" x2="154.25" y2="411.5" stroke="#231f20" stroke-width="1"/>
<text transform="translate(148.25,413.87) scale(0.9,1)" font-size="8.7" text-anchor="end" fill="#231f20">60</text>
<line x1="151.25" y1="434.5" x2="154.25" y2="434.5" stroke="#231f20" stroke-width="1"/>
<text transform="translate(148.25,436.56) scale(0.9,1)" font-size="8.7" text-anchor="end" fill="#231f20">40</text>
<line x1="151.25" y1="456.5" x2="154.25" y2="456.5" stroke="#231f20" stroke-width="1"/>
<text transform="translate(148.25,459.25) scale(0.9,1)" font-size="8.7" text-anchor="end" fill="#231f20">20</text>
<line x1="151.25" y1="479.5" x2="154.25" y2="479.5" stroke="#231f20" stroke-width="1"/>
<text transform="translate(148.25,481.94) scale(0.9,1)" font-size="8.7" text-anchor="end" fill="#231f20">0</text>
<line x1="154.25" y1="479.5" x2="215" y2="479.5" stroke="#231f20" stroke-width="1.1"/>
<line x1="166.5" y1="401.23" x2="166.5" y2="396.92" stroke="#333" stroke-width="1"/>
<line x1="164" y1="396.5" x2="169.2" y2="396.5" stroke="#333" stroke-width="1"/>
<rect x="161.15" y="401.53" width="10.9" height="77.97" fill="#c8102e" stroke="#a50d26" stroke-width="0.6"/>
<line x1="166.5" y1="479.5" x2="166.5" y2="482.5" stroke="#231f20" stroke-width="1"/>
<line x1="184.5" y1="408.03" x2="184.5" y2="404.97" stroke="#333" stroke-width="1"/>
<line x1="182.15" y1="404.5" x2="187.35" y2="404.5" stroke="#333" stroke-width="1"/>
<rect x="179.3" y="408.33" width="10.9" height="71.17" fill="#3cb44b" stroke="#2e9a3d" stroke-width="0.6"/>
<line x1="184.5" y1="479.5" x2="184.5" y2="482.5" stroke="#231f20" stroke-width="1"/>
<line x1="202.5" y1="403.5" x2="202.5" y2="400.43" stroke="#333" stroke-width="1"/>
<line x1="200.3" y1="400.5" x2="205.5" y2="400.5" stroke="#333" stroke-width="1"/>
<rect x="197.45" y="403.8" width="10.9" height="75.7" fill="#164e86" stroke="#0f3b68" stroke-width="0.6"/>
<line x1="202.5" y1="479.5" x2="202.5" y2="482.5" stroke="#231f20" stroke-width="1"/>
<text transform="translate(174.2,491.5) rotate(-45) scale(0.86,1)" font-size="8.8" text-anchor="end" fill="#231f20">Fga<tspan dy="-4.2" dx="0.2" font-size="6.9" stroke-width="0.2">WT/WT</tspan></text>
<text transform="translate(192.35,491.5) rotate(-45) scale(0.86,1)" font-size="8.8" text-anchor="end" fill="#231f20">Fga<tspan dy="-4.2" dx="0.2" font-size="6.9" stroke-width="0.2">WT/270</tspan></text>
<text transform="translate(210.5,491.5) rotate(-45) scale(0.86,1)" font-size="8.8" text-anchor="end" fill="#231f20">Fga<tspan dy="-4.2" dx="0.2" font-size="6.9" stroke-width="0.2">270/270</tspan></text>
<line x1="166.25" y1="385.5" x2="203" y2="385.5" stroke="#666" stroke-width="1"/>
<text transform="translate(185,383.5) scale(0.95,1)" font-size="8.3" text-anchor="middle" fill="#231f20">ns</text>
<text transform="translate(132.8,431.6) rotate(-90)" font-size="9.5" text-anchor="middle" fill="#231f20" textLength="66.5" lengthAdjust="spacingAndGlyphs">Peak thrombin (nM)</text>
<text transform="translate(247.5,380.2)" font-size="11.8" text-anchor="start" fill="#231f20" font-weight="bold">I</text>
<line x1="281.5" y1="385" x2="281.5" y2="479.5" stroke="#231f20" stroke-width="1.1"/>
<line x1="278.25" y1="388.5" x2="281.25" y2="388.5" stroke="#231f20" stroke-width="1"/>
<text transform="translate(275.25,391.18) scale(0.9,1)" font-size="8.7" text-anchor="end" fill="#231f20">800</text>
<line x1="278.25" y1="411.5" x2="281.25" y2="411.5" stroke="#231f20" stroke-width="1"/>
<text transform="translate(275.25,413.87) scale(0.9,1)" font-size="8.7" text-anchor="end" fill="#231f20">600</text>
<line x1="278.25" y1="434.5" x2="281.25" y2="434.5" stroke="#231f20" stroke-width="1"/>
<text transform="translate(275.25,436.56) scale(0.9,1)" font-size="8.7" text-anchor="end" fill="#231f20">400</text>
<line x1="278.25" y1="456.5" x2="281.25" y2="456.5" stroke="#231f20" stroke-width="1"/>
<text transform="translate(275.25,459.25) scale(0.9,1)" font-size="8.7" text-anchor="end" fill="#231f20">200</text>
<line x1="278.25" y1="479.5" x2="281.25" y2="479.5" stroke="#231f20" stroke-width="1"/>
<text transform="translate(275.25,481.94) scale(0.9,1)" font-size="8.7" text-anchor="end" fill="#231f20">0</text>
<line x1="281.25" y1="479.5" x2="341.25" y2="479.5" stroke="#231f20" stroke-width="1.1"/>
<line x1="293.5" y1="415.07" x2="293.5" y2="411.32" stroke="#333" stroke-width="1"/>
<line x1="290.5" y1="411.5" x2="295.7" y2="411.5" stroke="#333" stroke-width="1"/>
<rect x="287.65" y="415.37" width="10.9" height="64.13" fill="#c8102e" stroke="#a50d26" stroke-width="0.6"/>
<line x1="293.5" y1="479.5" x2="293.5" y2="482.5" stroke="#231f20" stroke-width="1"/>
<line x1="311.5" y1="419.94" x2="311.5" y2="413.7" stroke="#333" stroke-width="1"/>
<line x1="308.65" y1="413.5" x2="313.85" y2="413.5" stroke="#333" stroke-width="1"/>
<rect x="305.8" y="420.24" width="10.9" height="59.26" fill="#3cb44b" stroke="#2e9a3d" stroke-width="0.6"/>
<line x1="311.5" y1="479.5" x2="311.5" y2="482.5" stroke="#231f20" stroke-width="1"/>
<line x1="329.5" y1="406.9" x2="329.5" y2="400.43" stroke="#333" stroke-width="1"/>
<line x1="327" y1="400.5" x2="332.2" y2="400.5" stroke="#333" stroke-width="1"/>
<rect x="324.15" y="407.2" width="10.9" height="72.3" fill="#164e86" stroke="#0f3b68" stroke-width="0.6"/>
<line x1="329.5" y1="479.5" x2="329.5" y2="482.5" stroke="#231f20" stroke-width="1"/>
<text transform="translate(300.7,491.5) rotate(-45) scale(0.86,1)" font-size="8.8" text-anchor="end" fill="#231f20">Fga<tspan dy="-4.2" dx="0.2" font-size="6.9" stroke-width="0.2">WT/WT</tspan></text>
<text transform="translate(318.85,491.5) rotate(-45) scale(0.86,1)" font-size="8.8" text-anchor="end" fill="#231f20">Fga<tspan dy="-4.2" dx="0.2" font-size="6.9" stroke-width="0.2">WT/270</tspan></text>
<text transform="translate(337.2,491.5) rotate(-45) scale(0.86,1)" font-size="8.8" text-anchor="end" fill="#231f20">Fga<tspan dy="-4.2" dx="0.2" font-size="6.9" stroke-width="0.2">270/270</tspan></text>
<line x1="293" y1="391.5" x2="329.5" y2="391.5" stroke="#666" stroke-width="1"/>
<text transform="translate(311.25,389.5) scale(0.95,1)" font-size="8.3" text-anchor="middle" fill="#231f20">ns</text>
<text transform="translate(256,431.25) rotate(-90)" font-size="9.5" text-anchor="middle" fill="#231f20" textLength="46.7" lengthAdjust="spacingAndGlyphs">ETP (nM*min)</text>
<text transform="translate(373.5,380.2)" font-size="11.8" text-anchor="start" fill="#231f20" font-weight="bold">J</text>
<line x1="407.5" y1="384.5" x2="407.5" y2="479.2" stroke="#231f20" stroke-width="1.1"/>
<line x1="404.5" y1="398.5" x2="407.5" y2="398.5" stroke="#231f20" stroke-width="1"/>
<text transform="translate(402.2,401.18) scale(0.9,1)" font-size="8.7" text-anchor="end" fill="#231f20">60</text>
<line x1="404.5" y1="425.5" x2="407.5" y2="425.5" stroke="#231f20" stroke-width="1"/>
<text transform="translate(402.2,428) scale(0.9,1)" font-size="8.7" text-anchor="end" fill="#231f20">40</text>
<line x1="404.5" y1="452.5" x2="407.5" y2="452.5" stroke="#231f20" stroke-width="1"/>
<text transform="translate(402.2,454.82) scale(0.9,1)" font-size="8.7" text-anchor="end" fill="#231f20">20</text>
<line x1="404.5" y1="479.5" x2="407.5" y2="479.5" stroke="#231f20" stroke-width="1"/>
<text transform="translate(402.2,481.64) scale(0.9,1)" font-size="8.7" text-anchor="end" fill="#231f20">0</text>
<line x1="407.5" y1="479.5" x2="512.6" y2="479.5" stroke="#231f20" stroke-width="1.1"/>
<line x1="407.5" y1="479.2" x2="407.5" y2="481.6" stroke="#231f20" stroke-width="1"/>
<text transform="translate(407.6,492.4) scale(0.86,1)" font-size="8.7" text-anchor="middle" fill="#231f20">0</text>
<line x1="441.5" y1="479.2" x2="441.5" y2="481.6" stroke="#231f20" stroke-width="1"/>
<text transform="translate(441,492.4) scale(0.86,1)" font-size="8.7" text-anchor="middle" fill="#231f20">20</text>
<line x1="474.5" y1="479.2" x2="474.5" y2="481.6" stroke="#231f20" stroke-width="1"/>
<text transform="translate(474.4,492.4) scale(0.86,1)" font-size="8.7" text-anchor="middle" fill="#231f20">40</text>
<line x1="507.5" y1="479.2" x2="507.5" y2="481.6" stroke="#231f20" stroke-width="1"/>
<text transform="translate(507.8,492.4) scale(0.86,1)" font-size="8.7" text-anchor="middle" fill="#231f20">60</text>
<text transform="translate(458,504.6)" font-size="8.8" text-anchor="middle" fill="#231f20" textLength="36.3" lengthAdjust="spacingAndGlyphs">Time (min)</text>
<text transform="translate(385.8,436.7) rotate(-90)" font-size="9.5" text-anchor="middle" fill="#231f20" textLength="44.8" lengthAdjust="spacingAndGlyphs">Plasmin (nM)</text>
<polygon points="407.6,475.83 408.44,476.35 409.27,476.68 410.11,476.6 410.94,476.46 411.78,475.4 412.61,475.65 413.45,475.13 414.28,475.57 415.12,474.95 415.95,473.55 416.79,472.14 417.62,470.89 418.46,468.97 419.29,466.14 420.12,467.23 420.96,468.56 421.8,471.56 422.63,472.18 423.47,472.2 424.3,473.48 425.14,474.47 425.97,475.28 426.81,475.55 427.64,475.57 428.48,475.43 429.31,475.25 430.15,475.83 430.98,475.32 431.81,475.8 432.65,474.78 433.49,475.45 434.32,475.33 435.16,475.99 435.99,475.6 436.83,475.54 437.66,476.24 438.5,475.47 439.33,476.53 440.17,476.02 441,475.6 441.84,475.74 442.67,476.13 443.5,476.02 444.34,475.89 445.18,475.92 446.01,476.29 446.85,476.39 447.68,476.08 448.52,476.16 449.35,474.91 450.19,476.53 451.02,476.05 451.86,476.7 452.69,476.61 453.53,476.24 454.36,476.71 455.2,475.24 456.03,476.01 456.87,476.48 457.7,476.4 458.54,476.8 459.37,476.67 460.21,476.67 461.04,476.46 461.88,476.96 462.71,475.76 463.55,477.17 464.38,476.05 465.22,476.33 466.05,475.98 466.88,476.32 467.72,475.48 468.56,475.79 469.39,477.24 470.23,476.45 471.06,477.07 471.9,477.05 472.73,477.48 473.57,476.04 474.4,475.87 475.24,476.4 476.07,475.58 476.91,476.83 477.74,476.25 478.58,476.73 479.41,477.11 480.25,475.97 481.08,476.04 481.92,477.17 482.75,476.38 483.59,476.56 484.42,476.29 485.25,476.78 486.09,476.27 486.93,476.59 487.76,476.22 488.6,476.77 489.43,475.88 490.26,476.87 491.1,476.54 491.94,476.75 492.77,476.94 493.61,476.61 494.44,475.97 495.28,476.93 496.11,477.19 496.95,477.19 497.78,477.19 498.62,476.89 499.45,476.32 500.29,477.18 501.12,476.78 501.96,476.59 502.79,476.54 503.62,476.18 504.46,477.39 505.3,476.78 506.13,476.21 506.97,476.48 507.8,476.88 507.8,479.2 506.97,478.53 506.13,477.77 505.3,479.18 504.46,479.02 503.62,478.99 502.79,479.2 501.96,479.2 501.12,478.62 500.29,479.2 499.45,479.2 498.62,479.2 497.78,479.2 496.95,479.2 496.11,479.2 495.28,478.75 494.44,478.75 493.61,478.92 492.77,479.2 491.94,478.39 491.1,478.89 490.26,479.2 489.43,478.61 488.6,479.2 487.76,479.17 486.93,478.47 486.09,478.76 485.25,478.39 484.42,477.84 483.59,479.1 482.75,478.42 481.92,479.17 481.08,477.9 480.25,479.16 479.41,479.2 478.58,478.6 477.74,479.07 476.91,479.14 476.07,478.4 475.24,479.15 474.4,478.44 473.57,478.48 472.73,479.2 471.9,478.75 471.06,479.2 470.23,478.15 469.39,478.93 468.56,478.26 467.72,478.85 466.88,477.99 466.05,478.52 465.22,478.02 464.38,479.2 463.55,479.2 462.71,479.2 461.88,478.82 461.04,479.07 460.21,478.84 459.37,479.2 458.54,478.46 457.7,478.04 456.87,479.2 456.03,479 455.2,478.74 454.36,478.96 453.53,479.2 452.69,479.2 451.86,478.72 451.02,479.19 450.19,479.18 449.35,478.18 448.52,477.9 447.68,478.73 446.85,478.82 446.01,478.41 445.18,478.11 444.34,479.19 443.5,479.2 442.67,478.12 441.84,477.47 441,478.94 440.17,479.2 439.33,478.66 438.5,478.01 437.66,479.2 436.83,479.07 435.99,478.85 435.16,478.03 434.32,477.29 433.49,477.75 432.65,478.33 431.81,478.99 430.98,478.68 430.15,477.7 429.31,478.61 428.48,477.84 427.64,477.76 426.81,477.38 425.97,478.32 425.14,476.75 424.3,476.52 423.47,475.47 422.63,475.16 421.8,473.43 420.96,471.64 420.12,469.37 419.29,469.46 418.46,470.65 417.62,473.13 416.79,475.53 415.95,476.52 415.12,477.03 414.28,477.47 413.45,478.4 412.61,478.31 411.78,478.93 410.94,478.17 410.11,478.27 409.27,478.37 408.44,478.79 407.6,479.2" fill="#ec8d9c" fill-opacity="0.75" stroke="none" stroke-width="0"/>
<path d="M407.6 474.66V479.2M406.5 474.66h2.2M408.44 475.54V479.2M407.33 475.54h2.2M409.27 476.11V478.93M408.17 476.11h2.2M410.11 476.05V478.82M409 476.05h2.2M410.94 475.89V478.75M409.84 475.89h2.2M411.78 474.23V479.2M410.68 474.23h2.2M412.61 474.77V479.2M411.51 474.77h2.2M413.45 474.04V479.2M412.35 474.04h2.2M414.28 474.94V478.1M413.18 474.94h2.2M415.12 474.25V477.72M414.01 474.25h2.2M415.95 472.56V477.51M414.85 472.56h2.2M416.79 471.01V476.66M415.69 471.01h2.2M417.62 470.14V473.88M416.52 470.14h2.2M418.46 468.41V471.21M417.36 468.41h2.2M419.29 465.03V470.57M418.19 465.03h2.2M420.12 466.52V470.09M419.02 466.52h2.2M420.96 467.54V472.66M419.86 467.54h2.2M421.8 470.94V474.05M420.69 470.94h2.2M422.63 471.19V476.15M421.53 471.19h2.2M423.47 471.1V476.57M422.37 471.1h2.2M424.3 472.47V477.54M423.2 472.47h2.2M425.14 473.71V477.52M424.04 473.71h2.2M425.97 474.27V479.2M424.87 474.27h2.2M426.81 474.94V477.99M425.7 474.94h2.2M427.64 474.83V478.49M426.54 474.83h2.2M428.48 474.63V478.64M427.38 474.63h2.2M429.31 474.14V479.2M428.21 474.14h2.2M430.15 475.21V478.32M429.05 475.21h2.2M430.98 474.2V479.2M429.88 474.2h2.2M431.81 474.73V479.2M430.71 474.73h2.2M432.65 473.6V479.2M431.55 473.6h2.2M433.49 474.68V478.52M432.38 474.68h2.2M434.32 474.67V477.95M433.22 474.67h2.2M435.16 475.31V478.71M434.06 475.31h2.2M435.99 474.52V479.2M434.89 474.52h2.2M436.83 474.36V479.2M435.73 474.36h2.2M437.66 475.25V479.2M436.56 475.25h2.2M438.5 474.62V478.85M437.39 474.62h2.2M439.33 475.82V479.2M438.23 475.82h2.2M440.17 474.93V479.2M439.06 474.93h2.2M441 474.49V479.2M439.9 474.49h2.2M441.84 475.16V478.05M440.74 475.16h2.2M442.67 475.47V478.78M441.57 475.47h2.2M443.5 474.93V479.2M442.4 474.93h2.2M444.34 474.8V479.2M443.24 474.8h2.2M445.18 475.19V478.84M444.07 475.19h2.2M446.01 475.58V479.11M444.91 475.58h2.2M446.85 475.58V479.2M445.75 475.58h2.2M447.68 475.19V479.2M446.58 475.19h2.2M448.52 475.58V478.48M447.42 475.58h2.2M449.35 473.82V479.2M448.25 473.82h2.2M450.19 475.65V479.2M449.08 475.65h2.2M451.02 475.01V479.2M449.92 475.01h2.2M451.86 476.03V479.2M450.75 476.03h2.2M452.69 475.43V479.2M451.59 475.43h2.2M453.53 475.21V479.2M452.43 475.21h2.2M454.36 475.96V479.2M453.26 475.96h2.2M455.2 474.07V479.2M454.1 474.07h2.2M456.03 475.02V479.2M454.93 475.02h2.2M456.87 475.39V479.2M455.76 475.39h2.2M457.7 475.85V478.58M456.6 475.85h2.2M458.54 476.25V479.02M457.44 476.25h2.2M459.37 475.64V479.2M458.27 475.64h2.2M460.21 475.94V479.2M459.11 475.94h2.2M461.04 475.59V479.2M459.94 475.59h2.2M461.88 476.33V479.2M460.77 476.33h2.2M462.71 474.57V479.2M461.61 474.57h2.2M463.55 476.31V479.2M462.44 476.31h2.2M464.38 474.97V479.2M463.28 474.97h2.2M465.22 475.76V478.59M464.12 475.76h2.2M466.05 475.14V479.2M464.95 475.14h2.2M466.88 475.76V478.55M465.78 475.76h2.2M467.72 474.36V479.2M466.62 474.36h2.2M468.56 474.97V479.08M467.45 474.97h2.2M469.39 476.68V479.2M468.29 476.68h2.2M470.23 475.88V478.72M469.12 475.88h2.2M471.06 476.19V479.2M469.96 476.19h2.2M471.9 476.49V479.2M470.8 476.49h2.2M472.73 476.84V479.2M471.63 476.84h2.2M473.57 475.22V479.2M472.47 475.22h2.2M474.4 475.01V479.2M473.3 475.01h2.2M475.24 475.49V479.2M474.13 475.49h2.2M476.07 474.64V479.2M474.97 474.64h2.2M476.91 476.06V479.2M475.81 476.06h2.2M477.74 475.31V479.2M476.64 475.31h2.2M478.58 476.11V479.2M477.48 476.11h2.2M479.41 476.4V479.2M478.31 476.4h2.2M480.25 474.91V479.2M479.14 474.91h2.2M481.08 475.42V478.52M479.98 475.42h2.2M481.92 476.5V479.2M480.81 476.5h2.2M482.75 475.7V479.1M481.65 475.7h2.2M483.59 475.72V479.2M482.49 475.72h2.2M484.42 475.77V478.35M483.32 475.77h2.2M485.25 476.25V478.93M484.15 476.25h2.2M486.09 475.43V479.2M484.99 475.43h2.2M486.93 475.97V479.1M485.82 475.97h2.2M487.76 475.24V479.2M486.66 475.24h2.2M488.6 475.71V479.2M487.5 475.71h2.2M489.43 474.97V479.2M488.33 474.97h2.2M490.26 475.88V479.2M489.16 475.88h2.2M491.1 475.76V479.2M490 475.76h2.2M491.94 476.21V478.94M490.83 476.21h2.2M492.77 476.12V479.2M491.67 476.12h2.2M493.61 475.84V479.2M492.5 475.84h2.2M494.44 475.05V479.2M493.34 475.05h2.2M495.28 476.33V479.2M494.18 476.33h2.2M496.11 476.52V479.2M495.01 476.52h2.2M496.95 476.11V479.2M495.85 476.11h2.2M497.78 476.49V479.2M496.68 476.49h2.2M498.62 476.09V479.2M497.51 476.09h2.2M499.45 475.16V479.2M498.35 475.16h2.2M500.29 476.48V479.2M499.19 476.48h2.2M501.12 476.16V479.2M500.02 476.16h2.2M501.96 475.59V479.2M500.86 475.59h2.2M502.79 475.64V479.2M501.69 475.64h2.2M503.62 475.25V479.2M502.52 475.25h2.2M504.46 476.84V479.2M503.36 476.84h2.2M505.3 475.98V479.2M504.19 475.98h2.2M506.13 475.7V478.29M505.03 475.7h2.2M506.97 475.8V479.2M505.87 475.8h2.2M507.8 475.88V479.2M506.7 475.88h2.2" fill="none" stroke="#ec8d9c" stroke-width="0.6"/>
<polyline points="407.6,477.59 408.44,477.57 409.27,477.52 410.11,477.44 410.94,477.32 411.78,477.17 412.61,476.98 413.45,476.77 414.28,476.52 415.12,475.99 415.95,475.04 416.79,473.84 417.62,472.01 418.46,469.81 419.29,467.8 420.12,468.3 420.96,470.1 421.8,472.5 422.63,473.67 423.47,473.83 424.3,475 425.14,475.61 425.97,476.8 426.81,476.46 427.64,476.66 428.48,476.64 429.31,476.93 430.15,476.76 430.98,477 431.81,477.39 432.65,476.56 433.49,476.6 434.32,476.31 435.16,477.01 435.99,477.22 436.83,477.31 437.66,477.74 438.5,476.74 439.33,477.6 440.17,477.65 441,477.27 441.84,476.61 442.67,477.13 443.5,477.65 444.34,477.54 445.18,477.02 446.01,477.35 446.85,477.61 447.68,477.41 448.52,477.03 449.35,476.55 450.19,477.86 451.02,477.62 451.86,477.71 452.69,478.37 453.53,477.78 454.36,477.84 455.2,476.99 456.03,477.51 456.87,478.12 457.7,477.22 458.54,477.63 459.37,478.2 460.21,477.75 461.04,477.76 461.88,477.89 462.71,477.54 463.55,478.46 464.38,477.68 465.22,477.17 466.05,477.25 466.88,477.16 467.72,477.16 468.56,477.02 469.39,478.08 470.23,477.3 471.06,478.4 471.9,477.9 472.73,478.44 473.57,477.26 474.4,477.15 475.24,477.78 476.07,476.99 476.91,477.98 477.74,477.66 478.58,477.67 479.41,478.16 480.25,477.57 481.08,476.97 481.92,478.17 482.75,477.4 483.59,477.83 484.42,477.06 485.25,477.59 486.09,477.51 486.93,477.53 487.76,477.7 488.6,478.36 489.43,477.25 490.26,478.36 491.1,477.72 491.94,477.57 492.77,478.16 493.61,477.77 494.44,477.36 495.28,477.84 496.11,478.2 496.95,478.8 497.78,478.23 498.62,478.08 499.45,478.06 500.29,478.24 501.12,477.7 501.96,478.08 502.79,477.9 503.62,477.58 504.46,478.2 505.3,477.98 506.13,476.99 506.97,477.51 507.8,478.38" fill="none" stroke="#ec8d9c" stroke-width="1.2"/>
<polygon points="407.6,474.9 408.44,475.09 409.27,474.94 410.11,474.95 410.94,474.94 411.78,475.12 412.61,475.15 413.45,475.01 414.28,475.19 415.12,475.32 415.95,475.07 416.79,475.49 417.62,475.27 418.46,475.66 419.29,475.8 420.12,475.75 420.96,476.15 421.8,476.21 422.63,476.46 423.47,476.4 424.3,476.55 425.14,476.25 425.97,476.79 426.81,476.78 427.64,476.18 428.48,476.76 429.31,476.58 430.15,476.68 430.98,476.5 431.81,476.27 432.65,476.73 433.49,476.28 434.32,476.64 435.16,476.72 435.99,476.92 436.83,476.7 437.66,476.92 438.5,476.67 439.33,476.37 440.17,476.52 441,476.73 441.84,476.47 442.67,476.77 443.5,476.62 444.34,477.4 445.18,477.1 446.01,476.85 446.85,476.81 447.68,476.65 448.52,476.8 449.35,476.61 450.19,476.48 451.02,476.87 451.86,476.88 452.69,476.38 453.53,476.96 454.36,476.67 455.2,477.01 456.03,476.72 456.87,476.85 457.7,476.65 458.54,476.53 459.37,476.67 460.21,476.35 461.04,476.68 461.88,476.68 462.71,476.85 463.55,476.37 464.38,476.33 465.22,476.21 466.05,476.51 466.88,476.66 467.72,476.31 468.56,476.17 469.39,476.61 470.23,476.92 471.06,476.76 471.9,476.52 472.73,476.92 473.57,476.48 474.4,476.7 475.24,476.41 476.07,476.86 476.91,476.3 477.74,476.84 478.58,476.45 479.41,476.41 480.25,476.72 481.08,476.89 481.92,476.96 482.75,476.51 483.59,476.83 484.42,476.63 485.25,476.65 486.09,476.96 486.93,476.69 487.76,476.34 488.6,476.7 489.43,476.29 490.26,476.86 491.1,476.64 491.94,477.03 492.77,476.65 493.61,477.11 494.44,476.51 495.28,476.94 496.11,476.95 496.95,476.74 497.78,476.65 498.62,477.3 499.45,476.53 500.29,477.21 501.12,476.9 501.96,476.8 502.79,476.88 503.62,477.28 504.46,476.96 505.3,477.37 506.13,477.24 506.97,476.89 507.8,476.83 507.8,478.11 506.97,478.12 506.13,478.15 505.3,477.96 504.46,477.67 503.62,478.04 502.79,477.6 501.96,478.03 501.12,477.73 500.29,478.06 499.45,477.33 498.62,478.27 497.78,477.33 496.95,477.78 496.11,477.79 495.28,477.77 494.44,477.53 493.61,478.34 492.77,477.88 491.94,477.77 491.1,477.7 490.26,477.74 489.43,477.54 488.6,477.66 487.76,477.52 486.93,477.6 486.09,477.6 485.25,477.85 484.42,477.81 483.59,477.54 482.75,477.75 481.92,477.67 481.08,477.55 480.25,477.6 479.41,477.62 478.58,477.09 477.74,477.8 476.91,477.49 476.07,477.53 475.24,477.57 474.4,477.57 473.57,477.39 472.73,478.06 471.9,477.82 471.06,477.96 470.23,477.51 469.39,477.62 468.56,477.44 467.72,477.63 466.88,477.78 466.05,477.2 465.22,477.27 464.38,477.67 463.55,477.26 462.71,477.82 461.88,477.61 461.04,477.74 460.21,477.21 459.37,477.99 458.54,477.77 457.7,477.69 456.87,477.96 456.03,477.44 455.2,477.63 454.36,477.64 453.53,477.81 452.69,477.54 451.86,477.49 451.02,477.57 450.19,477.8 449.35,477.7 448.52,477.49 447.68,477.45 446.85,477.45 446.01,477.79 445.18,477.94 444.34,478.39 443.5,477.73 442.67,477.83 441.84,477.28 441,477.73 440.17,477.81 439.33,477.72 438.5,477.82 437.66,477.78 436.83,477.95 435.99,477.85 435.16,477.62 434.32,477.78 433.49,477.44 432.65,477.83 431.81,477.26 430.98,477.46 430.15,477.43 429.31,477.57 428.48,477.56 427.64,477.14 426.81,477.64 425.97,477.43 425.14,477.2 424.3,477.69 423.47,477.68 422.63,477.36 421.8,477.34 420.96,477.06 420.12,477.09 419.29,476.67 418.46,476.46 417.62,476.54 416.79,476.08 415.95,476.35 415.12,476.02 414.28,476.07 413.45,476.17 412.61,475.96 411.78,475.93 410.94,476.06 410.11,476 409.27,475.98 408.44,475.8 407.6,475.99" fill="#164e86" fill-opacity="0.75" stroke="none" stroke-width="0"/>
<path d="M407.6 474.54V476.35M406.5 474.54h2.2M408.44 474.86V476.04M407.33 474.86h2.2M409.27 474.59V476.33M408.17 474.59h2.2M410.11 474.59V476.36M409 474.59h2.2M410.94 474.56V476.43M409.84 474.56h2.2M411.78 474.85V476.19M410.68 474.85h2.2M412.61 474.88V476.23M411.51 474.88h2.2M413.45 474.62V476.56M412.35 474.62h2.2M414.28 474.9V476.36M413.18 474.9h2.2M415.12 475.09V476.25M414.01 475.09h2.2M415.95 474.65V476.78M414.85 474.65h2.2M416.79 475.29V476.28M415.69 475.29h2.2M417.62 474.85V476.96M416.52 474.85h2.2M418.46 475.39V476.73M417.36 475.39h2.2M419.29 475.51V476.96M418.19 475.51h2.2M420.12 475.31V477.53M419.02 475.31h2.2M420.96 475.84V477.37M419.86 475.84h2.2M421.8 475.83V477.72M420.69 475.83h2.2M422.63 476.16V477.66M421.53 476.16h2.2M423.47 475.97V478.11M422.37 475.97h2.2M424.3 476.17V478.07M423.2 476.17h2.2M425.14 475.93V477.51M424.04 475.93h2.2M425.97 476.57V477.64M424.87 476.57h2.2M426.81 476.49V477.92M425.7 476.49h2.2M427.64 475.86V477.46M426.54 475.86h2.2M428.48 476.5V477.83M427.38 476.5h2.2M429.31 476.25V477.9M428.21 476.25h2.2M430.15 476.44V477.67M429.05 476.44h2.2M430.98 476.18V477.78M429.88 476.18h2.2M431.81 475.94V477.58M430.71 475.94h2.2M432.65 476.36V478.2M431.55 476.36h2.2M433.49 475.9V477.82M432.38 475.9h2.2M434.32 476.26V478.16M433.22 476.26h2.2M435.16 476.41V477.92M434.06 476.41h2.2M435.99 476.61V478.16M434.89 476.61h2.2M436.83 476.28V478.37M435.73 476.28h2.2M437.66 476.63V478.06M436.56 476.63h2.2M438.5 476.28V478.2M437.39 476.28h2.2M439.33 475.92V478.17M438.23 475.92h2.2M440.17 476.09V478.24M439.06 476.09h2.2M441 476.4V478.07M439.9 476.4h2.2M441.84 476.19V477.55M440.74 476.19h2.2M442.67 476.42V478.19M441.57 476.42h2.2M443.5 476.25V478.09M442.4 476.25h2.2M444.34 477.07V478.72M443.24 477.07h2.2M445.18 476.82V478.23M444.07 476.82h2.2M446.01 476.54V478.1M444.91 476.54h2.2M446.85 476.59V477.67M445.75 476.59h2.2M447.68 476.38V477.72M446.58 476.38h2.2M448.52 476.57V477.72M447.42 476.57h2.2M449.35 476.24V478.07M448.25 476.24h2.2M450.19 476.04V478.24M449.08 476.04h2.2M451.02 476.64V477.8M449.92 476.64h2.2M451.86 476.68V477.69M450.75 476.68h2.2M452.69 476V477.92M451.59 476h2.2M453.53 476.67V478.1M452.43 476.67h2.2M454.36 476.35V477.96M453.26 476.35h2.2M455.2 476.8V477.84M454.1 476.8h2.2M456.03 476.49V477.68M454.93 476.49h2.2M456.87 476.47V478.33M455.76 476.47h2.2M457.7 476.3V478.04M456.6 476.3h2.2M458.54 476.12V478.19M457.44 476.12h2.2M459.37 476.22V478.43M458.27 476.22h2.2M460.21 476.06V477.49M459.11 476.06h2.2M461.04 476.33V478.09M459.94 476.33h2.2M461.88 476.37V477.91M460.77 476.37h2.2M462.71 476.52V478.14M461.61 476.52h2.2M463.55 476.08V477.55M462.44 476.08h2.2M464.38 475.89V478.11M463.28 475.89h2.2M465.22 475.86V477.62M464.12 475.86h2.2M466.05 476.28V477.43M464.95 476.28h2.2M466.88 476.28V478.15M465.78 476.28h2.2M467.72 475.87V478.08M466.62 475.87h2.2M468.56 475.74V477.86M467.45 475.74h2.2M469.39 476.28V477.96M468.29 476.28h2.2M470.23 476.72V477.71M469.12 476.72h2.2M471.06 476.36V478.36M469.96 476.36h2.2M471.9 476.09V478.25M470.8 476.09h2.2M472.73 476.54V478.45M471.63 476.54h2.2M473.57 476.18V477.7M472.47 476.18h2.2M474.4 476.41V477.86M473.3 476.41h2.2M475.24 476.03V477.95M474.13 476.03h2.2M476.07 476.64V477.75M474.97 476.64h2.2M476.91 475.91V477.88M475.81 475.91h2.2M477.74 476.51V478.12M476.64 476.51h2.2M478.58 476.24V477.3M477.48 476.24h2.2M479.41 476V478.03M478.31 476h2.2M480.25 476.43V477.9M479.14 476.43h2.2M481.08 476.67V477.78M479.98 476.67h2.2M481.92 476.72V477.91M480.81 476.72h2.2M482.75 476.09V478.16M481.65 476.09h2.2M483.59 476.59V477.78M482.49 476.59h2.2M484.42 476.23V478.21M483.32 476.23h2.2M485.25 476.25V478.25M484.15 476.25h2.2M486.09 476.74V477.82M484.99 476.74h2.2M486.93 476.38V477.91M485.82 476.38h2.2M487.76 475.94V477.92M486.66 475.94h2.2M488.6 476.38V477.97M487.5 476.38h2.2M489.43 475.88V477.96M488.33 475.88h2.2M490.26 476.57V478.03M489.16 476.57h2.2M491.1 476.28V478.06M490 476.28h2.2M491.94 476.78V478.02M490.83 476.78h2.2M492.77 476.24V478.29M491.67 476.24h2.2M493.61 476.7V478.75M492.5 476.7h2.2M494.44 476.17V477.87M493.34 476.17h2.2M495.28 476.66V478.04M494.18 476.66h2.2M496.11 476.66V478.08M495.01 476.66h2.2M496.95 476.4V478.13M495.85 476.4h2.2M497.78 476.43V477.56M496.68 476.43h2.2M498.62 476.97V478.6M497.51 476.97h2.2M499.45 476.26V477.6M498.35 476.26h2.2M500.29 476.93V478.34M499.19 476.93h2.2M501.12 476.62V478M500.02 476.62h2.2M501.96 476.4V478.44M500.86 476.4h2.2M502.79 476.64V477.84M501.69 476.64h2.2M503.62 477.02V478.29M502.52 477.02h2.2M504.46 476.73V477.9M503.36 476.73h2.2M505.3 477.17V478.16M504.19 477.17h2.2M506.13 476.94V478.46M505.03 476.94h2.2M506.97 476.48V478.53M505.87 476.48h2.2M507.8 476.41V478.53M506.7 476.41h2.2" fill="none" stroke="#164e86" stroke-width="0.6"/>
<polyline points="407.6,475.45 408.44,475.45 409.27,475.46 410.11,475.47 410.94,475.5 411.78,475.52 412.61,475.55 413.45,475.59 414.28,475.63 415.12,475.67 415.95,475.71 416.79,475.79 417.62,475.91 418.46,476.06 419.29,476.24 420.12,476.42 420.96,476.6 421.8,476.77 422.63,476.91 423.47,477.04 424.3,477.12 425.14,476.72 425.97,477.11 426.81,477.21 427.64,476.66 428.48,477.16 429.31,477.07 430.15,477.06 430.98,476.98 431.81,476.76 432.65,477.28 433.49,476.86 434.32,477.21 435.16,477.17 435.99,477.38 436.83,477.32 437.66,477.35 438.5,477.24 439.33,477.04 440.17,477.17 441,477.23 441.84,476.87 442.67,477.3 443.5,477.17 444.34,477.89 445.18,477.52 446.01,477.32 446.85,477.13 447.68,477.05 448.52,477.14 449.35,477.15 450.19,477.14 451.02,477.22 451.86,477.18 452.69,476.96 453.53,477.38 454.36,477.15 455.2,477.32 456.03,477.08 456.87,477.4 457.7,477.17 458.54,477.15 459.37,477.33 460.21,476.78 461.04,477.21 461.88,477.14 462.71,477.33 463.55,476.82 464.38,477 465.22,476.74 466.05,476.85 466.88,477.22 467.72,476.97 468.56,476.8 469.39,477.12 470.23,477.22 471.06,477.36 471.9,477.17 472.73,477.49 473.57,476.94 474.4,477.13 475.24,476.99 476.07,477.2 476.91,476.9 477.74,477.32 478.58,476.77 479.41,477.02 480.25,477.16 481.08,477.22 481.92,477.32 482.75,477.13 483.59,477.19 484.42,477.22 485.25,477.25 486.09,477.28 486.93,477.14 487.76,476.93 488.6,477.18 489.43,476.92 490.26,477.3 491.1,477.17 491.94,477.4 492.77,477.27 493.61,477.73 494.44,477.02 495.28,477.35 496.11,477.37 496.95,477.26 497.78,476.99 498.62,477.78 499.45,476.93 500.29,477.64 501.12,477.31 501.96,477.42 502.79,477.24 503.62,477.66 504.46,477.32 505.3,477.66 506.13,477.7 506.97,477.5 507.8,477.47" fill="none" stroke="#164e86" stroke-width="1.2"/>
<polygon points="407.6,473.38 408.44,474.08 409.27,474.58 410.11,473.21 410.94,473.79 411.78,473.16 412.61,473.93 413.45,473.54 414.28,472.28 415.12,470.73 415.95,469.05 416.79,462.45 417.62,453.76 418.46,438.64 419.29,427.23 420.12,411.81 420.96,397.02 421.8,403.21 422.63,412.54 423.47,420.32 424.3,425.4 425.14,428.28 425.97,430.39 426.81,434.53 427.64,441.25 428.48,443.61 429.31,448.82 430.15,448.7 430.98,449.27 431.81,448.56 432.65,454.62 433.49,453.29 434.32,454.33 435.16,455.14 435.99,457.07 436.83,458.52 437.66,459.55 438.5,461.34 439.33,460.75 440.17,460.52 441,459.65 441.84,461.2 442.67,462.15 443.5,463.12 444.34,462.91 445.18,464.46 446.01,463.91 446.85,463.28 447.68,466.06 448.52,466.75 449.35,466.55 450.19,467.49 451.02,469.3 451.86,467.29 452.69,465.03 453.53,465.38 454.36,467.41 455.2,466.8 456.03,466.56 456.87,469.67 457.7,468.38 458.54,467.87 459.37,468.18 460.21,470.94 461.04,468.12 461.88,467.3 462.71,466.92 463.55,466.73 464.38,469.7 465.22,465.76 466.05,467.78 466.88,469.18 467.72,468.69 468.56,468.34 469.39,469.13 470.23,469.62 471.06,468.45 471.9,468.59 472.73,469.64 473.57,468.27 474.4,467.74 475.24,469.46 476.07,466.7 476.91,468.86 477.74,470.38 478.58,469.61 479.41,471.76 480.25,470.32 481.08,466.74 481.92,470.37 482.75,470.35 483.59,471.75 484.42,469.66 485.25,467.27 486.09,468.17 486.93,470.95 487.76,469 488.6,470.49 489.43,471.41 490.26,471.56 491.1,470.58 491.94,468.35 492.77,468.92 493.61,469.72 494.44,469.63 495.28,472.22 496.11,469.73 496.95,471.3 497.78,469.99 498.62,469.35 499.45,469.18 500.29,469.65 501.12,471.89 501.96,469.47 502.79,468.43 503.62,472.6 504.46,469.79 505.3,468.67 506.13,471.41 506.97,469 507.8,470.39 507.8,476.78 506.97,472.99 506.13,477.38 505.3,474.58 504.46,475.94 503.62,476.98 502.79,474.54 501.96,474.08 501.12,478.28 500.29,476.92 499.45,474.68 498.62,474.9 497.78,473.41 496.95,476.39 496.11,475.82 495.28,476.39 494.44,476.04 493.61,474.29 492.77,474.77 491.94,475.92 491.1,476.58 490.26,475.57 489.43,475.34 488.6,476.3 487.76,475.72 486.93,475.2 486.09,474.29 485.25,473.62 484.42,476.32 483.59,475.37 482.75,474.01 481.92,476.14 481.08,473.02 480.25,475.21 479.41,475.9 478.58,475.75 477.74,475.15 476.91,476.03 476.07,474.04 475.24,475.27 474.4,475.29 473.57,472.95 472.73,474.47 471.9,474.1 471.06,471.8 470.23,473.65 469.39,472.49 468.56,475.24 467.72,472.05 466.88,476.54 466.05,472.92 465.22,471.91 464.38,473.2 463.55,470.83 462.71,471.92 461.88,471.93 461.04,474.42 460.21,474.51 459.37,472.89 458.54,473.61 457.7,472.96 456.87,474.23 456.03,471.53 455.2,471.52 454.36,474.26 453.53,470.69 452.69,472.3 451.86,473.71 451.02,472.8 450.19,472 449.35,471.09 448.52,474.03 447.68,469.51 446.85,468.5 446.01,469.98 445.18,469.72 444.34,468.66 443.5,469.66 442.67,465.79 441.84,466.94 441,466.67 440.17,465.32 439.33,467.51 438.5,464.97 437.66,466.19 436.83,465.34 435.99,463.16 435.16,459.1 434.32,459.84 433.49,459.42 432.65,457.92 431.81,456.16 430.98,454.19 430.15,453.77 429.31,452.91 428.48,450.95 427.64,445.81 426.81,441.11 425.97,438.01 425.14,433.82 424.3,430.13 423.47,431.9 422.63,421.89 421.8,418.14 420.96,411.19 420.12,420.87 419.29,436.08 418.46,452.71 417.62,460.77 416.79,469.13 415.95,472.85 415.12,476.94 414.28,477.42 413.45,477.46 412.61,477.76 411.78,478.92 410.94,478.63 410.11,479.2 409.27,478.29 408.44,478.92 407.6,479.2" fill="#c8102e" fill-opacity="0.75" stroke="none" stroke-width="0"/>
<path d="M407.6 471.29V479.2M406.5 471.29h2.2M408.44 472.46V479.2M407.33 472.46h2.2M409.27 473.34V479.2M408.17 473.34h2.2M410.11 471.12V479.2M409 471.12h2.2M410.94 472.17V479.2M409.84 472.17h2.2M411.78 471.25V479.2M410.68 471.25h2.2M412.61 472.66V479.04M411.51 472.66h2.2M413.45 472.23V478.77M412.35 472.23h2.2M414.28 470.57V479.13M413.18 470.57h2.2M415.12 468.66V479.01M414.01 468.66h2.2M415.95 467.78V474.11M414.85 467.78h2.2M416.79 460.23V471.35M415.69 460.23h2.2M417.62 451.42V463.1M416.52 451.42h2.2M418.46 433.94V457.41M417.36 433.94h2.2M419.29 424.28V439.04M418.19 424.28h2.2M420.12 408.79V423.89M419.02 408.79h2.2M420.96 392.3V415.91M419.86 392.3h2.2M421.8 398.23V423.12M420.69 398.23h2.2M422.63 409.42V425.01M421.53 409.42h2.2M423.47 416.46V435.75M422.37 416.46h2.2M424.3 423.83V431.71M423.2 423.83h2.2M425.14 426.43V435.67M424.04 426.43h2.2M425.97 427.85V440.55M424.87 427.85h2.2M426.81 432.34V443.3M425.7 432.34h2.2M427.64 439.72V447.34M426.54 439.72h2.2M428.48 441.16V453.4M427.38 441.16h2.2M429.31 447.45V454.27M428.21 447.45h2.2M430.15 447.01V455.46M429.05 447.01h2.2M430.98 447.63V455.82M429.88 447.63h2.2M431.81 446.03V458.69M430.71 446.03h2.2M432.65 453.52V459.02M431.55 453.52h2.2M433.49 451.25V461.46M432.38 451.25h2.2M434.32 452.49V461.67M433.22 452.49h2.2M435.16 453.82V460.42M434.06 453.82h2.2M435.99 455.04V465.19M434.89 455.04h2.2M436.83 456.25V467.61M435.73 456.25h2.2M437.66 457.34V468.41M436.56 457.34h2.2M438.5 460.14V466.17M437.39 460.14h2.2M439.33 458.5V469.77M438.23 458.5h2.2M440.17 458.92V466.91M439.06 458.92h2.2M441 457.31V469M439.9 457.31h2.2M441.84 459.29V468.86M440.74 459.29h2.2M442.67 460.94V467M441.57 460.94h2.2M443.5 460.94V471.84M442.4 460.94h2.2M444.34 460.99V470.58M443.24 460.99h2.2M445.18 462.71V471.47M444.07 462.71h2.2M446.01 461.88V472.01M444.91 461.88h2.2M446.85 461.54V470.24M445.75 461.54h2.2M447.68 464.92V470.66M446.58 464.92h2.2M448.52 464.32V476.45M447.42 464.32h2.2M449.35 465.04V472.61M448.25 465.04h2.2M450.19 465.99V473.5M449.08 465.99h2.2M451.02 468.13V473.97M449.92 468.13h2.2M451.86 465.15V475.85M450.75 465.15h2.2M452.69 462.61V474.72M451.59 462.61h2.2M453.53 463.61V472.46M452.43 463.61h2.2M454.36 465.13V476.54M453.26 465.13h2.2M455.2 465.23V473.1M454.1 465.23h2.2M456.03 464.9V473.18M454.93 464.9h2.2M456.87 468.15V475.75M455.76 468.15h2.2M457.7 466.86V474.48M456.6 466.86h2.2M458.54 465.96V475.52M457.44 465.96h2.2M459.37 466.61V474.46M458.27 466.61h2.2M460.21 469.75V475.7M459.11 469.75h2.2M461.04 466.02V476.52M459.94 466.02h2.2M461.88 465.76V473.48M460.77 465.76h2.2M462.71 465.25V473.58M461.61 465.25h2.2M463.55 465.36V472.19M462.44 465.36h2.2M464.38 468.53V474.36M463.28 468.53h2.2M465.22 463.72V473.96M464.12 463.72h2.2M466.05 466.07V474.63M464.95 466.07h2.2M466.88 466.72V479M465.78 466.72h2.2M467.72 467.57V473.18M466.62 467.57h2.2M468.56 466.04V477.53M467.45 466.04h2.2M469.39 468.01V473.61M468.29 468.01h2.2M470.23 468.27V475M469.12 468.27h2.2M471.06 467.34V472.91M469.96 467.34h2.2M471.9 466.75V475.94M470.8 466.75h2.2M472.73 468.03V476.08M471.63 468.03h2.2M473.57 466.71V474.51M472.47 466.71h2.2M474.4 465.23V477.81M473.3 465.23h2.2M475.24 467.52V477.21M474.13 467.52h2.2M476.07 464.26V476.49M474.97 464.26h2.2M476.91 466.47V478.42M475.81 466.47h2.2M477.74 468.79V476.73M476.64 468.79h2.2M478.58 467.56V477.8M477.48 467.56h2.2M479.41 470.39V477.28M478.31 470.39h2.2M480.25 468.7V476.83M479.14 468.7h2.2M481.08 464.65V475.12M479.98 464.65h2.2M481.92 468.45V478.07M480.81 468.45h2.2M482.75 469.14V475.23M481.65 469.14h2.2M483.59 470.54V476.58M482.49 470.54h2.2M484.42 467.44V478.54M483.32 467.44h2.2M485.25 465.16V475.74M484.15 465.16h2.2M486.09 466.13V476.33M484.99 466.13h2.2M486.93 469.53V476.62M485.82 469.53h2.2M487.76 466.77V477.96M486.66 466.77h2.2M488.6 468.56V478.24M487.5 468.56h2.2M489.43 470.1V476.65M488.33 470.1h2.2M490.26 470.22V476.91M489.16 470.22h2.2M491.1 468.58V478.58M490 468.58h2.2M491.94 465.83V478.44M490.83 465.83h2.2M492.77 466.97V476.72M491.67 466.97h2.2M493.61 468.19V475.82M492.5 468.19h2.2M494.44 467.49V478.18M493.34 467.49h2.2M495.28 470.82V477.78M494.18 470.82h2.2M496.11 467.7V477.85M495.01 467.7h2.2M496.95 469.6V478.09M495.85 469.6h2.2M497.78 468.85V474.55M496.68 468.85h2.2M498.62 467.51V476.74M497.51 467.51h2.2M499.45 467.34V476.52M498.35 467.34h2.2M500.29 467.22V479.2M499.19 467.22h2.2M501.12 469.75V479.2M500.02 469.75h2.2M501.96 467.93V475.62M500.86 467.93h2.2M502.79 466.4V476.57M501.69 466.4h2.2M503.62 471.14V478.44M502.52 471.14h2.2M504.46 467.74V477.99M503.36 467.74h2.2M505.3 466.7V476.55M504.19 466.7h2.2M506.13 469.42V479.2M505.03 469.42h2.2M506.97 467.68V474.32M505.87 467.68h2.2M507.8 468.26V478.91M506.7 468.26h2.2" fill="none" stroke="#c8102e" stroke-width="0.6"/>
<polyline points="407.6,476.52 408.44,476.5 409.27,476.44 410.11,476.34 410.94,476.21 411.78,476.04 412.61,475.85 413.45,475.5 414.28,474.85 415.12,473.84 415.95,470.95 416.79,465.79 417.62,457.26 418.46,445.68 419.29,431.66 420.12,416.34 420.96,404.1 421.8,410.67 422.63,417.22 423.47,426.11 424.3,427.77 425.14,431.05 425.97,434.2 426.81,437.82 427.64,443.53 428.48,447.28 429.31,450.86 430.15,451.24 430.98,451.73 431.81,452.36 432.65,456.27 433.49,456.36 434.32,457.08 435.16,457.12 435.99,460.12 436.83,461.93 437.66,462.87 438.5,463.16 439.33,464.13 440.17,462.92 441,463.16 441.84,464.07 442.67,463.97 443.5,466.39 444.34,465.78 445.18,467.09 446.01,466.94 446.85,465.89 447.68,467.79 448.52,470.39 449.35,468.82 450.19,469.74 451.02,471.05 451.86,470.5 452.69,468.67 453.53,468.03 454.36,470.84 455.2,469.16 456.03,469.04 456.87,471.95 457.7,470.67 458.54,470.74 459.37,470.54 460.21,472.72 461.04,471.27 461.88,469.62 462.71,469.42 463.55,468.78 464.38,471.45 465.22,468.84 466.05,470.35 466.88,472.86 467.72,470.37 468.56,471.79 469.39,470.81 470.23,471.63 471.06,470.12 471.9,471.34 472.73,472.06 473.57,470.61 474.4,471.52 475.24,472.37 476.07,470.37 476.91,472.45 477.74,472.76 478.58,472.68 479.41,473.83 480.25,472.76 481.08,469.88 481.92,473.26 482.75,472.18 483.59,473.56 484.42,472.99 485.25,470.45 486.09,471.23 486.93,473.08 487.76,472.36 488.6,473.4 489.43,473.38 490.26,473.57 491.1,473.58 491.94,472.14 492.77,471.84 493.61,472.01 494.44,472.83 495.28,474.3 496.11,472.78 496.95,473.85 497.78,471.7 498.62,472.13 499.45,471.93 500.29,473.28 501.12,475.08 501.96,471.77 502.79,471.48 503.62,474.79 504.46,472.86 505.3,471.62 506.13,474.4 506.97,471 507.8,473.59" fill="none" stroke="#c8102e" stroke-width="1.2"/>
<polygon points="407.6,472.27 408.44,472.22 409.27,472.76 410.11,472.89 410.94,472.3 411.78,471.34 412.61,471.24 413.45,470.17 414.28,467.35 415.12,462.55 415.95,456.98 416.79,450.32 417.62,440.94 418.46,435.35 419.29,426.31 420.12,421.46 420.96,419.37 421.8,422.52 422.63,430.08 423.47,436.78 424.3,447.12 425.14,453.37 425.97,454.57 426.81,458.26 427.64,457.86 428.48,458.24 429.31,459.62 430.15,460.29 430.98,461.01 431.81,460.68 432.65,461.53 433.49,461.58 434.32,463.62 435.16,461.99 435.99,462.95 436.83,463.65 437.66,463.71 438.5,463.96 439.33,464.94 440.17,465.62 441,466.58 441.84,467.24 442.67,466.94 443.5,466.62 444.34,466.97 445.18,468.35 446.01,468.45 446.85,469.77 447.68,467.73 448.52,468.99 449.35,469.9 450.19,470.42 451.02,470.52 451.86,470.97 452.69,469.89 453.53,471.29 454.36,471.87 455.2,471.9 456.03,471.7 456.87,470.87 457.7,470.74 458.54,473.17 459.37,472.92 460.21,471.86 461.04,472.85 461.88,473.07 462.71,471.69 463.55,471.47 464.38,473.84 465.22,472.33 466.05,471.36 466.88,471.17 467.72,473.02 468.56,470.29 469.39,471.4 470.23,472.76 471.06,471.15 471.9,472.78 472.73,472.07 473.57,473.93 474.4,471.41 475.24,473.2 476.07,472.21 476.91,471.89 477.74,472.34 478.58,473.04 479.41,471.3 480.25,474.2 481.08,471.76 481.92,472.7 482.75,472.88 483.59,471.58 484.42,470.06 485.25,472.15 486.09,472.17 486.93,472.43 487.76,472.04 488.6,474.74 489.43,471.22 490.26,472.8 491.1,474.24 491.94,473.19 492.77,472.63 493.61,472.09 494.44,473.23 495.28,472.69 496.11,473.23 496.95,472.82 497.78,474.76 498.62,473.08 499.45,472.55 500.29,473.5 501.12,474.61 501.96,474.2 502.79,471.46 503.62,473.18 504.46,472.99 505.3,473.71 506.13,471.78 506.97,473.52 507.8,473.7 507.8,476.72 506.97,476.44 506.13,476.13 505.3,476.62 504.46,477.09 503.62,476.8 502.79,474.85 501.96,476.95 501.12,477.4 500.29,476.16 499.45,474.8 498.62,475.1 497.78,477.65 496.95,476.24 496.11,475.78 495.28,474.94 494.44,475.77 493.61,476.52 492.77,476.56 491.94,477.45 491.1,478.28 490.26,477.18 489.43,474.9 488.6,477.36 487.76,474.27 486.93,476.15 486.09,475.35 485.25,476.46 484.42,472.76 483.59,475.85 482.75,474.96 481.92,475.36 481.08,476.24 480.25,477.37 479.41,475.59 478.58,475.47 477.74,475.5 476.91,475.43 476.07,474.42 475.24,476.14 474.4,475.66 473.57,476.39 472.73,474.71 471.9,477.18 471.06,475.36 470.23,476.57 469.39,475.67 468.56,473.89 467.72,475.47 466.88,475 466.05,474.76 465.22,474.93 464.38,476.22 463.55,474.78 462.71,475.67 461.88,476.91 461.04,475.39 460.21,475.56 459.37,475.6 458.54,476.07 457.7,473.39 456.87,474.9 456.03,475.82 455.2,475.99 454.36,474.54 453.53,473.9 452.69,472.65 451.86,474.83 451.02,473.99 450.19,474.05 449.35,472.08 448.52,473.43 447.68,471.27 446.85,472.13 446.01,470.94 445.18,471.33 444.34,469.9 443.5,470.26 442.67,470.2 441.84,469.97 441,469.66 440.17,469.24 439.33,467.01 438.5,467.65 437.66,467.77 436.83,467.71 435.99,465.94 435.16,466.36 434.32,465.79 433.49,465.69 432.65,464.27 431.81,463.35 430.98,464.66 430.15,462.7 429.31,462 428.48,461.01 427.64,460.71 426.81,461.7 425.97,458.81 425.14,455.88 424.3,450.06 423.47,443.84 422.63,437.97 421.8,431.34 420.96,424.51 420.12,428.68 419.29,434.8 418.46,440.56 417.62,449.75 416.79,455.16 415.95,461.19 415.12,466.57 414.28,471.55 413.45,474.42 412.61,474.67 411.78,475.55 410.94,475.37 410.11,475.38 409.27,475.93 408.44,476.71 407.6,476.75" fill="#3cb44b" fill-opacity="0.75" stroke="none" stroke-width="0"/>
<path d="M407.6 470.78V478.24M406.5 470.78h2.2M408.44 470.73V478.2M407.33 470.73h2.2M409.27 471.7V476.98M408.17 471.7h2.2M410.11 472.06V476.21M409 472.06h2.2M410.94 471.27V476.4M409.84 471.27h2.2M411.78 469.94V476.95M410.68 469.94h2.2M412.61 470.1V475.81M411.51 470.1h2.2M413.45 468.76V475.84M412.35 468.76h2.2M414.28 465.95V472.95M413.18 465.95h2.2M415.12 461.2V467.92M414.01 461.2h2.2M415.95 455.58V462.59M414.85 455.58h2.2M416.79 448.71V456.77M415.69 448.71h2.2M417.62 438V452.69M416.52 438h2.2M418.46 433.61V442.3M417.36 433.61h2.2M419.29 423.49V437.62M418.19 423.49h2.2M420.12 419.05V431.09M419.02 419.05h2.2M420.96 417.65V426.23M419.86 417.65h2.2M421.8 419.58V434.28M420.69 419.58h2.2M422.63 427.45V440.6M421.53 427.45h2.2M423.47 434.43V446.19M422.37 434.43h2.2M424.3 446.14V451.04M423.2 446.14h2.2M425.14 452.54V456.71M424.04 452.54h2.2M425.97 453.16V460.22M424.87 453.16h2.2M426.81 457.12V462.85M425.7 457.12h2.2M427.64 456.91V461.66M426.54 456.91h2.2M428.48 457.31V461.94M427.38 457.31h2.2M429.31 458.83V462.79M428.21 458.83h2.2M430.15 459.49V463.5M429.05 459.49h2.2M430.98 459.79V465.88M429.88 459.79h2.2M431.81 459.79V464.24M430.71 459.79h2.2M432.65 460.61V465.19M431.55 460.61h2.2M433.49 460.22V467.06M432.38 460.22h2.2M434.32 462.9V466.52M433.22 462.9h2.2M435.16 460.53V467.82M434.06 460.53h2.2M435.99 461.95V466.94M434.89 461.95h2.2M436.83 462.29V469.06M435.73 462.29h2.2M437.66 462.36V469.12M436.56 462.36h2.2M438.5 462.73V468.88M437.39 462.73h2.2M439.33 464.25V467.7M438.23 464.25h2.2M440.17 464.42V470.44M439.06 464.42h2.2M441 465.55V470.69M439.9 465.55h2.2M441.84 466.33V470.88M440.74 466.33h2.2M442.67 465.85V471.29M441.57 465.85h2.2M443.5 465.41V471.48M442.4 465.41h2.2M444.34 465.99V470.88M443.24 465.99h2.2M445.18 467.35V472.33M444.07 467.35h2.2M446.01 467.62V471.76M444.91 467.62h2.2M446.85 468.99V472.92M445.75 468.99h2.2M447.68 466.55V472.44M446.58 466.55h2.2M448.52 467.51V474.91M447.42 467.51h2.2M449.35 469.17V472.81M448.25 469.17h2.2M450.19 469.22V475.25M449.08 469.22h2.2M451.02 469.36V475.15M449.92 469.36h2.2M451.86 469.69V476.11M450.75 469.69h2.2M452.69 468.98V473.56M451.59 468.98h2.2M453.53 470.43V474.77M452.43 470.43h2.2M454.36 470.98V475.43M453.26 470.98h2.2M455.2 470.54V477.35M454.1 470.54h2.2M456.03 470.33V477.19M454.93 470.33h2.2M456.87 469.53V476.24M455.76 469.53h2.2M457.7 469.86V474.27M456.6 469.86h2.2M458.54 472.2V477.04M457.44 472.2h2.2M459.37 472.03V476.49M458.27 472.03h2.2M460.21 470.63V476.79M459.11 470.63h2.2M461.04 472.01V476.23M459.94 472.01h2.2M461.88 471.79V478.19M460.77 471.79h2.2M462.71 470.37V476.99M461.61 470.37h2.2M463.55 470.37V475.88M462.44 470.37h2.2M464.38 473.05V477.02M463.28 473.05h2.2M465.22 471.46V475.8M464.12 471.46h2.2M466.05 470.23V475.89M464.95 470.23h2.2M466.88 469.9V476.27M465.78 469.9h2.2M467.72 472.21V476.29M466.62 472.21h2.2M468.56 469.09V475.09M467.45 469.09h2.2M469.39 469.97V477.09M468.29 469.97h2.2M470.23 471.49V477.85M469.12 471.49h2.2M471.06 469.74V476.77M469.96 469.74h2.2M471.9 471.32V478.65M470.8 471.32h2.2M472.73 471.19V475.59M471.63 471.19h2.2M473.57 473.1V477.21M472.47 473.1h2.2M474.4 470V477.08M473.3 470h2.2M475.24 472.23V477.12M474.13 472.23h2.2M476.07 471.48V475.16M474.97 471.48h2.2M476.91 470.71V476.61M475.81 470.71h2.2M477.74 471.28V476.55M476.64 471.28h2.2M478.58 472.23V476.27M477.48 472.23h2.2M479.41 469.87V477.02M478.31 469.87h2.2M480.25 473.15V478.43M479.14 473.15h2.2M481.08 470.27V477.74M479.98 470.27h2.2M481.92 471.82V476.24M480.81 471.82h2.2M482.75 472.18V475.66M481.65 472.18h2.2M483.59 470.16V477.27M482.49 470.16h2.2M484.42 469.16V473.65M483.32 469.16h2.2M485.25 470.71V477.89M484.15 470.71h2.2M486.09 471.11V476.4M484.99 471.11h2.2M486.93 471.19V477.38M485.82 471.19h2.2M487.76 471.29V475.01M486.66 471.29h2.2M488.6 473.87V478.23M487.5 473.87h2.2M489.43 470V476.13M488.33 470h2.2M490.26 471.33V478.64M489.16 471.33h2.2M491.1 472.89V479.2M490 472.89h2.2M491.94 471.77V478.87M490.83 471.77h2.2M492.77 471.32V477.87M491.67 471.32h2.2M493.61 470.61V478M492.5 470.61h2.2M494.44 472.38V476.62M493.34 472.38h2.2M495.28 471.94V475.68M494.18 471.94h2.2M496.11 472.38V476.63M495.01 472.38h2.2M496.95 471.68V477.38M495.85 471.68h2.2M497.78 473.8V478.61M496.68 473.8h2.2M498.62 472.41V475.78M497.51 472.41h2.2M499.45 471.8V475.55M498.35 471.8h2.2M500.29 472.62V477.04M499.19 472.62h2.2M501.12 473.68V478.33M500.02 473.68h2.2M501.96 473.28V477.86M500.86 473.28h2.2M502.79 470.33V475.98M501.69 470.33h2.2M503.62 471.97V478.01M502.52 471.97h2.2M504.46 471.62V478.46M503.36 471.62h2.2M505.3 472.74V477.59M504.19 472.74h2.2M506.13 470.34V477.58M505.03 470.34h2.2M506.97 472.55V477.41M505.87 472.55h2.2M507.8 472.69V477.72M506.7 472.69h2.2" fill="none" stroke="#3cb44b" stroke-width="0.6"/>
<polyline points="407.6,474.51 408.44,474.47 409.27,474.34 410.11,474.13 410.94,473.83 411.78,473.44 412.61,472.96 413.45,472.3 414.28,469.45 415.12,464.56 415.95,459.08 416.79,452.74 417.62,445.34 418.46,437.95 419.29,430.56 420.12,425.07 420.96,421.94 421.8,426.93 422.63,434.02 423.47,440.31 424.3,448.59 425.14,454.63 425.97,456.69 426.81,459.98 427.64,459.28 428.48,459.62 429.31,460.81 430.15,461.49 430.98,462.84 431.81,462.01 432.65,462.9 433.49,463.64 434.32,464.71 435.16,464.17 435.99,464.45 436.83,465.68 437.66,465.74 438.5,465.81 439.33,465.98 440.17,467.43 441,468.12 441.84,468.6 442.67,468.57 443.5,468.44 444.34,468.43 445.18,469.84 446.01,469.69 446.85,470.95 447.68,469.5 448.52,471.21 449.35,470.99 450.19,472.24 451.02,472.26 451.86,472.9 452.69,471.27 453.53,472.6 454.36,473.2 455.2,473.95 456.03,473.76 456.87,472.88 457.7,472.07 458.54,474.62 459.37,474.26 460.21,473.71 461.04,474.12 461.88,474.99 462.71,473.68 463.55,473.13 464.38,475.03 465.22,473.63 466.05,473.06 466.88,473.08 467.72,474.25 468.56,472.09 469.39,473.53 470.23,474.67 471.06,473.26 471.9,474.98 472.73,473.39 473.57,475.16 474.4,473.54 475.24,474.67 476.07,473.32 476.91,473.66 477.74,473.92 478.58,474.25 479.41,473.44 480.25,475.79 481.08,474 481.92,474.03 482.75,473.92 483.59,473.72 484.42,471.41 485.25,474.3 486.09,473.76 486.93,474.29 487.76,473.15 488.6,476.05 489.43,473.06 490.26,474.99 491.1,476.26 491.94,475.32 492.77,474.59 493.61,474.3 494.44,474.5 495.28,473.81 496.11,474.5 496.95,474.53 497.78,476.21 498.62,474.09 499.45,473.68 500.29,474.83 501.12,476.01 501.96,475.57 502.79,473.15 503.62,474.99 504.46,475.04 505.3,475.16 506.13,473.96 506.97,474.98 507.8,475.21" fill="none" stroke="#3cb44b" stroke-width="1.2"/>
<line x1="420.5" y1="389.35" x2="420.5" y2="412.15" stroke="#e58a9a" stroke-width="0.9"/>
<line x1="419.66" y1="389.5" x2="422.26" y2="389.5" stroke="#e58a9a" stroke-width="0.9"/>
<line x1="429.5" y1="432.8" x2="429.5" y2="460.43" stroke="#c8102e" stroke-width="0.9"/>
<line x1="428.34" y1="432.5" x2="430.94" y2="432.5" stroke="#c8102e" stroke-width="0.9"/>
<line x1="425.5" y1="438.97" x2="425.5" y2="463.11" stroke="#c8102e" stroke-width="0.9"/>
<line x1="424.67" y1="438.5" x2="427.27" y2="438.5" stroke="#c8102e" stroke-width="0.9"/>
<line x1="471.5" y1="459.08" x2="471.5" y2="475.18" stroke="#c8102e" stroke-width="0.9"/>
<line x1="469.76" y1="459.5" x2="472.36" y2="459.5" stroke="#c8102e" stroke-width="0.9"/>
<line x1="474.5" y1="457.74" x2="474.5" y2="475.18" stroke="#c8102e" stroke-width="0.9"/>
<line x1="473.1" y1="457.5" x2="475.7" y2="457.5" stroke="#c8102e" stroke-width="0.9"/>
<line x1="490.5" y1="455.06" x2="490.5" y2="475.18" stroke="#c8102e" stroke-width="0.9"/>
<line x1="488.96" y1="455.5" x2="491.56" y2="455.5" stroke="#c8102e" stroke-width="0.9"/>
<line x1="498.5" y1="452.38" x2="498.5" y2="475.18" stroke="#c8102e" stroke-width="0.9"/>
<line x1="497.31" y1="452.5" x2="499.92" y2="452.5" stroke="#c8102e" stroke-width="0.9"/>
<line x1="505.5" y1="445.68" x2="505.5" y2="475.18" stroke="#c8102e" stroke-width="0.9"/>
<line x1="504" y1="445.5" x2="506.6" y2="445.5" stroke="#c8102e" stroke-width="0.9"/>
<line x1="459.5" y1="468.47" x2="459.5" y2="475.18" stroke="#3cb44b" stroke-width="0.9"/>
<line x1="458.07" y1="468.5" x2="460.67" y2="468.5" stroke="#3cb44b" stroke-width="0.9"/>
<line x1="481.5" y1="469.81" x2="481.5" y2="475.18" stroke="#3cb44b" stroke-width="0.9"/>
<line x1="479.78" y1="469.5" x2="482.38" y2="469.5" stroke="#3cb44b" stroke-width="0.9"/>
<line x1="494.5" y1="469.81" x2="494.5" y2="475.18" stroke="#3cb44b" stroke-width="0.9"/>
<line x1="493.14" y1="469.5" x2="495.74" y2="469.5" stroke="#3cb44b" stroke-width="0.9"/>
<line x1="502.5" y1="471.15" x2="502.5" y2="476.52" stroke="#3cb44b" stroke-width="0.9"/>
<line x1="501.49" y1="471.5" x2="504.09" y2="471.5" stroke="#3cb44b" stroke-width="0.9"/>
<line x1="422.5" y1="436.29" x2="422.5" y2="472.5" stroke="#3cb44b" stroke-width="1"/>
<line x1="440.4" y1="393.5" x2="450.8" y2="393.5" stroke="#c8102e" stroke-width="1.9"/>
<text transform="translate(454.2,396.7) scale(0.9,1)" font-size="8.6" text-anchor="start" fill="#231f20" font-style="italic">Fga<tspan dy="-3.3" font-size="5.8">WT/WT</tspan></text>
<line x1="440.4" y1="406.5" x2="450.8" y2="406.5" stroke="#3cb44b" stroke-width="1.9"/>
<text transform="translate(454.2,409.4) scale(0.9,1)" font-size="8.6" text-anchor="start" fill="#231f20" font-style="italic">Fga<tspan dy="-3.3" font-size="5.8">WT/270</tspan></text>
<line x1="440.4" y1="419.5" x2="450.8" y2="419.5" stroke="#ec8d9c" stroke-width="1.9"/>
<text transform="translate(454.2,422.4) scale(0.88,1)" font-size="8.6" text-anchor="start" fill="#231f20" font-style="italic">10% Fga<tspan dy="-3.3" font-size="5.8">WT/WT</tspan></text>
<line x1="440.4" y1="431.5" x2="450.8" y2="431.5" stroke="#164e86" stroke-width="1.9"/>
<text transform="translate(454.2,435.1) scale(0.9,1)" font-size="8.6" text-anchor="start" fill="#231f20" font-style="italic">Fga<tspan dy="-3.3" font-size="5.8">270/270</tspan></text>
<text transform="translate(6.9,539.6)" font-size="11.8" text-anchor="start" fill="#231f20" font-weight="bold">K</text>
<line x1="38.75" y1="566.5" x2="105" y2="566.5" stroke="#444" stroke-width="1" stroke-dasharray="1,1"/>
<line x1="38.5" y1="562.5" x2="38.5" y2="657" stroke="#231f20" stroke-width="1.1"/>
<line x1="35.75" y1="566.5" x2="38.75" y2="566.5" stroke="#231f20" stroke-width="1"/>
<text transform="translate(32.75,568.69) scale(0.9,1)" font-size="8.7" text-anchor="end" fill="#231f20">60</text>
<line x1="35.75" y1="596.5" x2="38.75" y2="596.5" stroke="#231f20" stroke-width="1"/>
<text transform="translate(32.75,598.94) scale(0.9,1)" font-size="8.7" text-anchor="end" fill="#231f20">40</text>
<line x1="35.75" y1="626.5" x2="38.75" y2="626.5" stroke="#231f20" stroke-width="1"/>
<text transform="translate(32.75,629.19) scale(0.9,1)" font-size="8.7" text-anchor="end" fill="#231f20">20</text>
<line x1="35.75" y1="657.5" x2="38.75" y2="657.5" stroke="#231f20" stroke-width="1"/>
<text transform="translate(32.75,659.44) scale(0.9,1)" font-size="8.7" text-anchor="end" fill="#231f20">0</text>
<line x1="38.75" y1="657.5" x2="106.25" y2="657.5" stroke="#231f20" stroke-width="1.1"/>
<line x1="48.5" y1="650.04" x2="48.5" y2="649.29" stroke="#333" stroke-width="1"/>
<line x1="46.35" y1="649.5" x2="51.15" y2="649.5" stroke="#333" stroke-width="1"/>
<rect x="44.05" y="650.34" width="9.4" height="6.66" fill="#c8102e" stroke="#a50d26" stroke-width="0.6"/>
<line x1="48.5" y1="657" x2="48.5" y2="660" stroke="#231f20" stroke-width="1"/>
<line x1="64.5" y1="650.8" x2="64.5" y2="649.89" stroke="#333" stroke-width="1"/>
<line x1="61.85" y1="649.5" x2="66.65" y2="649.5" stroke="#333" stroke-width="1"/>
<rect x="59.55" y="651.1" width="9.4" height="5.9" fill="#3cb44b" stroke="#2e9a3d" stroke-width="0.6"/>
<line x1="64.5" y1="657" x2="64.5" y2="660" stroke="#231f20" stroke-width="1"/>
<line x1="80.5" y1="650.04" x2="80.5" y2="649.13" stroke="#333" stroke-width="1"/>
<line x1="77.6" y1="649.5" x2="82.4" y2="649.5" stroke="#333" stroke-width="1"/>
<rect x="75.3" y="650.34" width="9.4" height="6.66" fill="#ec8d9c" stroke="#d8788a" stroke-width="0.6"/>
<line x1="80.5" y1="657" x2="80.5" y2="660" stroke="#231f20" stroke-width="1"/>
<rect x="91.05" y="566.55" width="9.4" height="90.45" fill="#164e86" stroke="#0f3b68" stroke-width="0.6"/>
<line x1="95.5" y1="657" x2="95.5" y2="660" stroke="#231f20" stroke-width="1"/>
<text transform="translate(56.35,669) rotate(-45) scale(0.86,1)" font-size="8.8" text-anchor="end" fill="#231f20">Fga<tspan dy="-4.2" dx="0.2" font-size="6.9" stroke-width="0.2">WT/WT</tspan></text>
<text transform="translate(71.85,669) rotate(-45) scale(0.86,1)" font-size="8.8" text-anchor="end" fill="#231f20">Fga<tspan dy="-4.2" dx="0.2" font-size="6.9" stroke-width="0.2">WT/270</tspan></text>
<text transform="translate(87.6,669) rotate(-45) scale(0.86,1)" font-size="8.8" text-anchor="end" fill="#231f20">10% Fga<tspan dy="-4.2" dx="0.2" font-size="6.9" stroke-width="0.2">WT/WT</tspan></text>
<text transform="translate(103.35,669) rotate(-45) scale(0.86,1)" font-size="8.8" text-anchor="end" fill="#231f20">Fga<tspan dy="-4.2" dx="0.2" font-size="6.9" stroke-width="0.2">270/270</tspan></text>
<line x1="48.75" y1="544.5" x2="95.75" y2="544.5" stroke="#666" stroke-width="1"/>
<circle cx="65.85" cy="541.4" r="1.2" fill="#222"/>
<circle cx="69.45" cy="541.4" r="1.2" fill="#222"/>
<circle cx="73.05" cy="541.4" r="1.2" fill="#222"/>
<circle cx="76.65" cy="541.4" r="1.2" fill="#222"/>
<line x1="64.5" y1="553.5" x2="95.75" y2="553.5" stroke="#666" stroke-width="1"/>
<circle cx="74.6" cy="550.4" r="1.2" fill="#222"/>
<circle cx="78.2" cy="550.4" r="1.2" fill="#222"/>
<circle cx="81.8" cy="550.4" r="1.2" fill="#222"/>
<circle cx="85.4" cy="550.4" r="1.2" fill="#222"/>
<line x1="80" y1="562.5" x2="95.75" y2="562.5" stroke="#666" stroke-width="1"/>
<circle cx="82.6" cy="559.4" r="1.2" fill="#222"/>
<circle cx="86.2" cy="559.4" r="1.2" fill="#222"/>
<circle cx="89.8" cy="559.4" r="1.2" fill="#222"/>
<circle cx="93.4" cy="559.4" r="1.2" fill="#222"/>
<line x1="48.75" y1="576.5" x2="80" y2="576.5" stroke="#666" stroke-width="1"/>
<text transform="translate(64.25,574.5) scale(0.95,1)" font-size="8.3" text-anchor="middle" fill="#231f20">ns</text>
<line x1="48.75" y1="586.5" x2="62" y2="586.5" stroke="#666" stroke-width="1"/>
<text transform="translate(55.4,584.5) scale(0.95,1)" font-size="8.3" text-anchor="middle" fill="#231f20">ns</text>
<line x1="66.25" y1="586.5" x2="80" y2="586.5" stroke="#666" stroke-width="1"/>
<text transform="translate(73.1,584.5) scale(0.95,1)" font-size="8.3" text-anchor="middle" fill="#231f20">ns</text>
<text transform="translate(16,611.8) rotate(-90)" font-size="9.5" text-anchor="middle" fill="#231f20" textLength="48.1" lengthAdjust="spacingAndGlyphs">Lag time (min)</text>
<text transform="translate(129.3,539.6)" font-size="11.8" text-anchor="start" fill="#231f20" font-weight="bold">L</text>
<line x1="154.25" y1="565.5" x2="221.25" y2="565.5" stroke="#444" stroke-width="1" stroke-dasharray="1,1"/>
<line x1="154.5" y1="562" x2="154.5" y2="656.75" stroke="#231f20" stroke-width="1.1"/>
<line x1="151.25" y1="566.5" x2="154.25" y2="566.5" stroke="#231f20" stroke-width="1"/>
<text transform="translate(148.25,568.44) scale(0.9,1)" font-size="8.7" text-anchor="end" fill="#231f20">60</text>
<line x1="151.25" y1="596.5" x2="154.25" y2="596.5" stroke="#231f20" stroke-width="1"/>
<text transform="translate(148.25,598.69) scale(0.9,1)" font-size="8.7" text-anchor="end" fill="#231f20">40</text>
<line x1="151.25" y1="626.5" x2="154.25" y2="626.5" stroke="#231f20" stroke-width="1"/>
<text transform="translate(148.25,628.94) scale(0.9,1)" font-size="8.7" text-anchor="end" fill="#231f20">20</text>
<line x1="151.25" y1="656.5" x2="154.25" y2="656.5" stroke="#231f20" stroke-width="1"/>
<text transform="translate(148.25,659.19) scale(0.9,1)" font-size="8.7" text-anchor="end" fill="#231f20">0</text>
<line x1="154.25" y1="656.5" x2="222" y2="656.5" stroke="#231f20" stroke-width="1.1"/>
<line x1="165.5" y1="643.74" x2="165.5" y2="642.99" stroke="#333" stroke-width="1"/>
<line x1="162.6" y1="642.5" x2="167.4" y2="642.5" stroke="#333" stroke-width="1"/>
<rect x="160.3" y="644.04" width="9.4" height="12.71" fill="#c8102e" stroke="#a50d26" stroke-width="0.6"/>
<line x1="165.5" y1="656.75" x2="165.5" y2="659.75" stroke="#231f20" stroke-width="1"/>
<line x1="180.5" y1="644.04" x2="180.5" y2="642.84" stroke="#333" stroke-width="1"/>
<line x1="178.35" y1="642.5" x2="183.15" y2="642.5" stroke="#333" stroke-width="1"/>
<rect x="176.05" y="644.34" width="9.4" height="12.41" fill="#3cb44b" stroke="#2e9a3d" stroke-width="0.6"/>
<line x1="180.5" y1="656.75" x2="180.5" y2="659.75" stroke="#231f20" stroke-width="1"/>
<line x1="196.5" y1="645.56" x2="196.5" y2="644.35" stroke="#333" stroke-width="1"/>
<line x1="193.85" y1="644.5" x2="198.65" y2="644.5" stroke="#333" stroke-width="1"/>
<rect x="191.55" y="645.86" width="9.4" height="10.89" fill="#ec8d9c" stroke="#d8788a" stroke-width="0.6"/>
<line x1="196.5" y1="656.75" x2="196.5" y2="659.75" stroke="#231f20" stroke-width="1"/>
<rect x="207.05" y="566.3" width="9.4" height="90.45" fill="#164e86" stroke="#0f3b68" stroke-width="0.6"/>
<line x1="211.5" y1="656.75" x2="211.5" y2="659.75" stroke="#231f20" stroke-width="1"/>
<text transform="translate(172.6,668.75) rotate(-45) scale(0.86,1)" font-size="8.8" text-anchor="end" fill="#231f20">Fga<tspan dy="-4.2" dx="0.2" font-size="6.9" stroke-width="0.2">WT/WT</tspan></text>
<text transform="translate(188.35,668.75) rotate(-45) scale(0.86,1)" font-size="8.8" text-anchor="end" fill="#231f20">Fga<tspan dy="-4.2" dx="0.2" font-size="6.9" stroke-width="0.2">WT/270</tspan></text>
<text transform="translate(203.85,668.75) rotate(-45) scale(0.86,1)" font-size="8.8" text-anchor="end" fill="#231f20">10% Fga<tspan dy="-4.2" dx="0.2" font-size="6.9" stroke-width="0.2">WT/WT</tspan></text>
<text transform="translate(219.35,668.75) rotate(-45) scale(0.86,1)" font-size="8.8" text-anchor="end" fill="#231f20">Fga<tspan dy="-4.2" dx="0.2" font-size="6.9" stroke-width="0.2">270/270</tspan></text>
<line x1="165" y1="544.5" x2="211.75" y2="544.5" stroke="#666" stroke-width="1"/>
<circle cx="182.9" cy="541.4" r="1.2" fill="#222"/>
<circle cx="186.5" cy="541.4" r="1.2" fill="#222"/>
<circle cx="190.1" cy="541.4" r="1.2" fill="#222"/>
<circle cx="193.7" cy="541.4" r="1.2" fill="#222"/>
<line x1="180.75" y1="553.5" x2="211.75" y2="553.5" stroke="#666" stroke-width="1"/>
<circle cx="190.8" cy="550.4" r="1.2" fill="#222"/>
<circle cx="194.4" cy="550.4" r="1.2" fill="#222"/>
<circle cx="198" cy="550.4" r="1.2" fill="#222"/>
<circle cx="201.6" cy="550.4" r="1.2" fill="#222"/>
<line x1="196.25" y1="562.5" x2="211.75" y2="562.5" stroke="#666" stroke-width="1"/>
<circle cx="198.6" cy="559.4" r="1.2" fill="#222"/>
<circle cx="202.2" cy="559.4" r="1.2" fill="#222"/>
<circle cx="205.8" cy="559.4" r="1.2" fill="#222"/>
<circle cx="209.4" cy="559.4" r="1.2" fill="#222"/>
<line x1="165" y1="577.5" x2="196.25" y2="577.5" stroke="#666" stroke-width="1"/>
<text transform="translate(180.6,575.5) scale(0.95,1)" font-size="8.3" text-anchor="middle" fill="#231f20">ns</text>
<line x1="165" y1="588.5" x2="178" y2="588.5" stroke="#666" stroke-width="1"/>
<text transform="translate(171.5,586.5) scale(0.95,1)" font-size="8.3" text-anchor="middle" fill="#231f20">ns</text>
<line x1="182.5" y1="588.5" x2="196.25" y2="588.5" stroke="#666" stroke-width="1"/>
<text transform="translate(189.4,586.5) scale(0.95,1)" font-size="8.3" text-anchor="middle" fill="#231f20">ns</text>
<text transform="translate(132.1,611.45) rotate(-90)" font-size="9.5" text-anchor="middle" fill="#231f20" textLength="61.8" lengthAdjust="spacingAndGlyphs">Time to peak (min)</text>
<text transform="translate(251,539.6)" font-size="11.8" text-anchor="start" fill="#231f20" font-weight="bold">M</text>
<line x1="280.5" y1="562.5" x2="280.5" y2="657" stroke="#231f20" stroke-width="1.1"/>
<line x1="277.5" y1="566.5" x2="280.5" y2="566.5" stroke="#231f20" stroke-width="1"/>
<text transform="translate(274.5,568.69) scale(0.9,1)" font-size="8.7" text-anchor="end" fill="#231f20">60</text>
<line x1="277.5" y1="596.5" x2="280.5" y2="596.5" stroke="#231f20" stroke-width="1"/>
<text transform="translate(274.5,598.94) scale(0.9,1)" font-size="8.7" text-anchor="end" fill="#231f20">40</text>
<line x1="277.5" y1="626.5" x2="280.5" y2="626.5" stroke="#231f20" stroke-width="1"/>
<text transform="translate(274.5,629.19) scale(0.9,1)" font-size="8.7" text-anchor="end" fill="#231f20">20</text>
<line x1="277.5" y1="657.5" x2="280.5" y2="657.5" stroke="#231f20" stroke-width="1"/>
<text transform="translate(274.5,659.44) scale(0.9,1)" font-size="8.7" text-anchor="end" fill="#231f20">0</text>
<line x1="280.5" y1="657.5" x2="348.75" y2="657.5" stroke="#231f20" stroke-width="1.1"/>
<line x1="291.5" y1="586.22" x2="291.5" y2="582.43" stroke="#333" stroke-width="1"/>
<line x1="289.1" y1="582.5" x2="293.9" y2="582.5" stroke="#333" stroke-width="1"/>
<rect x="286.8" y="586.51" width="9.4" height="70.48" fill="#c8102e" stroke="#a50d26" stroke-width="0.6"/>
<line x1="291.5" y1="657" x2="291.5" y2="660" stroke="#231f20" stroke-width="1"/>
<line x1="307.5" y1="595.74" x2="307.5" y2="584.55" stroke="#333" stroke-width="1"/>
<line x1="304.6" y1="584.5" x2="309.4" y2="584.5" stroke="#333" stroke-width="1"/>
<rect x="302.3" y="596.04" width="9.4" height="60.96" fill="#3cb44b" stroke="#2e9a3d" stroke-width="0.6"/>
<line x1="307.5" y1="657" x2="307.5" y2="660" stroke="#231f20" stroke-width="1"/>
<line x1="323.5" y1="647.47" x2="323.5" y2="643.69" stroke="#333" stroke-width="1"/>
<line x1="320.6" y1="643.5" x2="325.4" y2="643.5" stroke="#333" stroke-width="1"/>
<rect x="318.3" y="647.77" width="9.4" height="9.23" fill="#ec8d9c" stroke="#d8788a" stroke-width="0.6"/>
<line x1="323.5" y1="657" x2="323.5" y2="660" stroke="#231f20" stroke-width="1"/>
<line x1="338.5" y1="657" x2="338.5" y2="660" stroke="#231f20" stroke-width="1"/>
<text transform="translate(299.1,669) rotate(-45) scale(0.86,1)" font-size="8.8" text-anchor="end" fill="#231f20">Fga<tspan dy="-4.2" dx="0.2" font-size="6.9" stroke-width="0.2">WT/WT</tspan></text>
<text transform="translate(314.6,669) rotate(-45) scale(0.86,1)" font-size="8.8" text-anchor="end" fill="#231f20">Fga<tspan dy="-4.2" dx="0.2" font-size="6.9" stroke-width="0.2">WT/270</tspan></text>
<text transform="translate(330.6,669) rotate(-45) scale(0.86,1)" font-size="8.8" text-anchor="end" fill="#231f20">10% Fga<tspan dy="-4.2" dx="0.2" font-size="6.9" stroke-width="0.2">WT/WT</tspan></text>
<text transform="translate(345.85,669) rotate(-45) scale(0.86,1)" font-size="8.8" text-anchor="end" fill="#231f20">Fga<tspan dy="-4.2" dx="0.2" font-size="6.9" stroke-width="0.2">270/270</tspan></text>
<line x1="291.25" y1="544.5" x2="338.25" y2="544.5" stroke="#666" stroke-width="1"/>
<circle cx="308.85" cy="541.4" r="1.2" fill="#222"/>
<circle cx="312.45" cy="541.4" r="1.2" fill="#222"/>
<circle cx="316.05" cy="541.4" r="1.2" fill="#222"/>
<circle cx="319.65" cy="541.4" r="1.2" fill="#222"/>
<line x1="307" y1="553.5" x2="338.25" y2="553.5" stroke="#666" stroke-width="1"/>
<circle cx="317.1" cy="550.4" r="1.2" fill="#222"/>
<circle cx="320.7" cy="550.4" r="1.2" fill="#222"/>
<circle cx="324.3" cy="550.4" r="1.2" fill="#222"/>
<circle cx="327.9" cy="550.4" r="1.2" fill="#222"/>
<line x1="291.25" y1="562.5" x2="322.5" y2="562.5" stroke="#666" stroke-width="1"/>
<circle cx="300.1" cy="559.4" r="1.2" fill="#222"/>
<circle cx="303.7" cy="559.4" r="1.2" fill="#222"/>
<circle cx="307.3" cy="559.4" r="1.2" fill="#222"/>
<circle cx="310.9" cy="559.4" r="1.2" fill="#222"/>
<line x1="291.25" y1="573.5" x2="305" y2="573.5" stroke="#666" stroke-width="1"/>
<text transform="translate(298.5,571.5) scale(0.95,1)" font-size="8.3" text-anchor="middle" fill="#231f20">ns</text>
<line x1="308.75" y1="573.5" x2="320.5" y2="573.5" stroke="#666" stroke-width="1"/>
<circle cx="311" cy="570.4" r="1.2" fill="#222"/>
<circle cx="314.6" cy="570.4" r="1.2" fill="#222"/>
<circle cx="318.2" cy="570.4" r="1.2" fill="#222"/>
<line x1="324.5" y1="573.5" x2="338.25" y2="573.5" stroke="#666" stroke-width="1"/>
<text transform="translate(331.4,571.5) scale(0.95,1)" font-size="8.3" text-anchor="middle" fill="#231f20">ns</text>
<text transform="translate(258.4,611.6) rotate(-90)" font-size="9.5" text-anchor="middle" fill="#231f20" textLength="62.3" lengthAdjust="spacingAndGlyphs">Peak plasmin (nM)</text>
<text transform="translate(374.3,539.6)" font-size="11.8" text-anchor="start" fill="#231f20" font-weight="bold">N</text>
<line x1="407.5" y1="562.5" x2="407.5" y2="656.5" stroke="#231f20" stroke-width="1.1"/>
<line x1="404" y1="566.5" x2="407" y2="566.5" stroke="#231f20" stroke-width="1"/>
<text transform="translate(401,568.7) scale(0.9,1)" font-size="8.7" text-anchor="end" fill="#231f20">600</text>
<line x1="404" y1="596.5" x2="407" y2="596.5" stroke="#231f20" stroke-width="1"/>
<text transform="translate(401,598.78) scale(0.9,1)" font-size="8.7" text-anchor="end" fill="#231f20">400</text>
<line x1="404" y1="626.5" x2="407" y2="626.5" stroke="#231f20" stroke-width="1"/>
<text transform="translate(401,628.86) scale(0.9,1)" font-size="8.7" text-anchor="end" fill="#231f20">200</text>
<line x1="404" y1="656.5" x2="407" y2="656.5" stroke="#231f20" stroke-width="1"/>
<text transform="translate(401,658.94) scale(0.9,1)" font-size="8.7" text-anchor="end" fill="#231f20">0</text>
<line x1="407" y1="656.5" x2="475.5" y2="656.5" stroke="#231f20" stroke-width="1.1"/>
<line x1="418.5" y1="586.26" x2="418.5" y2="580.1" stroke="#333" stroke-width="1"/>
<line x1="415.6" y1="580.5" x2="420.4" y2="580.5" stroke="#333" stroke-width="1"/>
<rect x="413.3" y="586.56" width="9.4" height="69.94" fill="#c8102e" stroke="#a50d26" stroke-width="0.6"/>
<line x1="418.5" y1="656.5" x2="418.5" y2="659.5" stroke="#231f20" stroke-width="1"/>
<line x1="433.5" y1="599.5" x2="433.5" y2="589.27" stroke="#333" stroke-width="1"/>
<line x1="431.5" y1="589.5" x2="436.3" y2="589.5" stroke="#333" stroke-width="1"/>
<rect x="429.2" y="599.8" width="9.4" height="56.7" fill="#3cb44b" stroke="#2e9a3d" stroke-width="0.6"/>
<line x1="433.5" y1="656.5" x2="433.5" y2="659.5" stroke="#231f20" stroke-width="1"/>
<line x1="449.5" y1="647.02" x2="449.5" y2="645.52" stroke="#333" stroke-width="1"/>
<line x1="447.1" y1="645.5" x2="451.9" y2="645.5" stroke="#333" stroke-width="1"/>
<rect x="444.8" y="647.32" width="9.4" height="9.18" fill="#ec8d9c" stroke="#d8788a" stroke-width="0.6"/>
<line x1="449.5" y1="656.5" x2="449.5" y2="659.5" stroke="#231f20" stroke-width="1"/>
<line x1="465.5" y1="656.5" x2="465.5" y2="659.5" stroke="#231f20" stroke-width="1"/>
<text transform="translate(425.6,668.5) rotate(-45) scale(0.86,1)" font-size="8.8" text-anchor="end" fill="#231f20">Fga<tspan dy="-4.2" dx="0.2" font-size="6.9" stroke-width="0.2">WT/WT</tspan></text>
<text transform="translate(441.5,668.5) rotate(-45) scale(0.86,1)" font-size="8.8" text-anchor="end" fill="#231f20">Fga<tspan dy="-4.2" dx="0.2" font-size="6.9" stroke-width="0.2">WT/270</tspan></text>
<text transform="translate(457.1,668.5) rotate(-45) scale(0.86,1)" font-size="8.8" text-anchor="end" fill="#231f20">10% Fga<tspan dy="-4.2" dx="0.2" font-size="6.9" stroke-width="0.2">WT/WT</tspan></text>
<text transform="translate(472.6,668.5) rotate(-45) scale(0.86,1)" font-size="8.8" text-anchor="end" fill="#231f20">Fga<tspan dy="-4.2" dx="0.2" font-size="6.9" stroke-width="0.2">270/270</tspan></text>
<line x1="418" y1="544.5" x2="465" y2="544.5" stroke="#666" stroke-width="1"/>
<circle cx="436.35" cy="541.4" r="1.2" fill="#222"/>
<circle cx="439.95" cy="541.4" r="1.2" fill="#222"/>
<circle cx="443.55" cy="541.4" r="1.2" fill="#222"/>
<circle cx="447.15" cy="541.4" r="1.2" fill="#222"/>
<line x1="433.75" y1="553.5" x2="465" y2="553.5" stroke="#666" stroke-width="1"/>
<circle cx="443.85" cy="550.4" r="1.2" fill="#222"/>
<circle cx="447.45" cy="550.4" r="1.2" fill="#222"/>
<circle cx="451.05" cy="550.4" r="1.2" fill="#222"/>
<circle cx="454.65" cy="550.4" r="1.2" fill="#222"/>
<line x1="418" y1="562.5" x2="449.25" y2="562.5" stroke="#666" stroke-width="1"/>
<circle cx="428.6" cy="559.4" r="1.2" fill="#222"/>
<circle cx="432.2" cy="559.4" r="1.2" fill="#222"/>
<circle cx="435.8" cy="559.4" r="1.2" fill="#222"/>
<circle cx="439.4" cy="559.4" r="1.2" fill="#222"/>
<line x1="418" y1="573.5" x2="431.75" y2="573.5" stroke="#666" stroke-width="1"/>
<text transform="translate(424.9,571.5) scale(0.95,1)" font-size="8.3" text-anchor="middle" fill="#231f20">ns</text>
<line x1="435.5" y1="573.5" x2="447.5" y2="573.5" stroke="#666" stroke-width="1"/>
<circle cx="437.9" cy="570.4" r="1.2" fill="#222"/>
<circle cx="441.5" cy="570.4" r="1.2" fill="#222"/>
<circle cx="445.1" cy="570.4" r="1.2" fill="#222"/>
<line x1="451.25" y1="573.5" x2="465" y2="573.5" stroke="#666" stroke-width="1"/>
<text transform="translate(458.1,571.5) scale(0.95,1)" font-size="8.3" text-anchor="middle" fill="#231f20">ns</text>
<text transform="translate(382.2,611) rotate(-90)" font-size="9.5" text-anchor="middle" fill="#231f20" textLength="45.4" lengthAdjust="spacingAndGlyphs">EPP (nM.min)</text>
<rect x="0.6" y="0.6" width="518.8" height="708.8" fill="none" stroke="#000" stroke-width="1.3"/>
</svg>
</body></html>
